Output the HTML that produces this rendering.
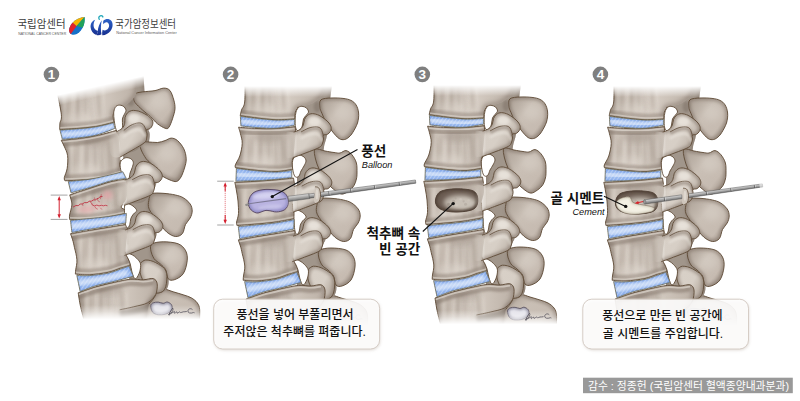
<!DOCTYPE html>
<html lang="ko"><head><meta charset="utf-8"><title>Kyphoplasty</title>
<style>
html,body{margin:0;padding:0;background:#fff}
body{width:800px;height:401px;overflow:hidden;position:relative;font-family:"Liberation Sans","Noto Sans CJK KR",sans-serif}
svg{position:absolute;left:0;top:0;display:block}
svg text{font-family:"Liberation Sans","Noto Sans CJK KR",sans-serif}
</style></head><body>
<svg width="800" height="401" viewBox="0 0 800 401">
<defs>
<filter id="b05" x="-20%" y="-20%" width="140%" height="140%"><feGaussianBlur stdDeviation="0.5"/></filter>
<filter id="b1" x="-20%" y="-20%" width="140%" height="140%"><feGaussianBlur stdDeviation="1"/></filter>
<filter id="b15" x="-30%" y="-30%" width="160%" height="160%"><feGaussianBlur stdDeviation="1.5"/></filter>
<filter id="b2" x="-30%" y="-30%" width="160%" height="160%"><feGaussianBlur stdDeviation="2"/></filter>
<filter id="b3" x="-40%" y="-40%" width="180%" height="180%"><feGaussianBlur stdDeviation="3"/></filter>
<filter id="b4" x="-50%" y="-50%" width="200%" height="200%"><feGaussianBlur stdDeviation="4.5"/></filter>
<filter id="bshadow" x="-10%" y="-20%" width="120%" height="140%"><feGaussianBlur stdDeviation="1.6"/></filter>
<linearGradient id="gBody" x1="0" y1="0" x2="1" y2="0">
<stop offset="0" stop-color="#ada297"/><stop offset="0.18" stop-color="#cec4ba"/><stop offset="0.45" stop-color="#d9d0c7"/><stop offset="0.75" stop-color="#c8beb4"/><stop offset="1" stop-color="#bbb0a6"/>
</linearGradient>
<linearGradient id="gSpin" x1="0" y1="0" x2="1" y2="0.8">
<stop offset="0" stop-color="#a99e93"/><stop offset="0.45" stop-color="#c9bfb5"/><stop offset="0.8" stop-color="#c6bbb1"/><stop offset="1" stop-color="#a2968b"/>
</linearGradient>
<linearGradient id="gKnob" x1="0" y1="0" x2="1" y2="0.6">
<stop offset="0" stop-color="#b9aea4"/><stop offset="0.25" stop-color="#d8d0c7"/><stop offset="0.65" stop-color="#d7cfc6"/><stop offset="1" stop-color="#b6aba0"/>
</linearGradient>
<linearGradient id="gDisc" x1="0" y1="0" x2="1" y2="0">
<stop offset="0" stop-color="#8fb0e8"/><stop offset="0.15" stop-color="#b4cdf2"/><stop offset="0.6" stop-color="#a9c5ef"/><stop offset="1" stop-color="#86a8e2"/>
</linearGradient>
<linearGradient id="fadeTop" x1="0" y1="0" x2="0" y2="1"><stop offset="0" stop-color="#fff" stop-opacity="1"/><stop offset="0.62" stop-color="#fff" stop-opacity="1"/><stop offset="0.94" stop-color="#fff" stop-opacity="0"/><stop offset="1" stop-color="#fff" stop-opacity="0"/></linearGradient>
<linearGradient id="fadeBot" x1="0" y1="0" x2="0" y2="1"><stop offset="0" stop-color="#fff" stop-opacity="0"/><stop offset="0.3" stop-color="#fff" stop-opacity="0.35"/><stop offset="0.65" stop-color="#fff" stop-opacity="1"/><stop offset="1" stop-color="#fff" stop-opacity="1"/></linearGradient>
<linearGradient id="fadeTop1" x1="0" y1="0" x2="0" y2="1"><stop offset="0" stop-color="#fff" stop-opacity="1"/><stop offset="0.64" stop-color="#fff" stop-opacity="1"/><stop offset="0.9" stop-color="#fff" stop-opacity="0"/><stop offset="1" stop-color="#fff" stop-opacity="0"/></linearGradient>
<pattern id="hatch" width="3" height="3" patternUnits="userSpaceOnUse" patternTransform="rotate(-55)"><rect width="3" height="3" fill="none"/><line x1="0" y1="1.5" x2="3" y2="1.5" stroke="#f0f5fd" stroke-width="0.8" opacity="0.45"/></pattern>
</defs>
<defs><g id="tplA"><clipPath id="p1"><path d="M517 296C518.7 295.1 519.8 294.3 522 294.5C524.2 294.7 527 296.1 530 297C533 297.9 537 299 540 300C543 301 545.7 301.7 548 303C550.3 304.3 552.6 306 554 308C555.4 310 556.2 311.3 556.5 315C556.8 318.7 556 330 556 330C556 330 500 330 500 330C500 330 503 315 505 310C507 305 510 302.3 512 300C514 297.7 515.3 296.9 517 296Z"/></clipPath><path d="M517 296C518.7 295.1 519.8 294.3 522 294.5C524.2 294.7 527 296.1 530 297C533 297.9 537 299 540 300C543 301 545.7 301.7 548 303C550.3 304.3 552.6 306 554 308C555.4 310 556.2 311.3 556.5 315C556.8 318.7 556 330 556 330C556 330 500 330 500 330C500 330 503 315 505 310C507 305 510 302.3 512 300C514 297.7 515.3 296.9 517 296Z" fill="url(#gSpin)"/><g clip-path="url(#p1)"><path d="M517 296C518.7 295.1 519.8 294.3 522 294.5C524.2 294.7 527 296.1 530 297C533 297.9 537 299 540 300C543 301 545.7 301.7 548 303C550.3 304.3 552.6 306 554 308C555.4 310 556.2 311.3 556.5 315C556.8 318.7 556 330 556 330C556 330 500 330 500 330C500 330 503 315 505 310C507 305 510 302.3 512 300C514 297.7 515.3 296.9 517 296Z" fill="none" stroke="#7c6d62" stroke-width="5" opacity="0.5" filter="url(#b15)"/></g><path d="M517 296C518.7 295.1 519.8 294.3 522 294.5C524.2 294.7 527 296.1 530 297C533 297.9 537 299 540 300C543 301 545.7 301.7 548 303C550.3 304.3 552.6 306 554 308C555.4 310 556.2 311.3 556.5 315C556.8 318.7 556 330 556 330C556 330 500 330 500 330C500 330 503 315 505 310C507 305 510 302.3 512 300C514 297.7 515.3 296.9 517 296Z" fill="none" stroke="#5d4936" stroke-width="0.9" stroke-linejoin="round"/><clipPath id="p2"><path d="M486 232C486 232 508 233 512 236C516 239 510.3 245.7 510 250C509.7 254.3 508.8 259 510 262C511.2 265 514.5 265 517 268C519.5 271 524.2 275.3 525 280C525.8 284.7 526.2 292.7 522 296C517.8 299.3 506 300 500 300C494 300 486 296 486 296C486 296 486 232 486 232Z"/></clipPath><path d="M486 232C486 232 508 233 512 236C516 239 510.3 245.7 510 250C509.7 254.3 508.8 259 510 262C511.2 265 514.5 265 517 268C519.5 271 524.2 275.3 525 280C525.8 284.7 526.2 292.7 522 296C517.8 299.3 506 300 500 300C494 300 486 296 486 296C486 296 486 232 486 232Z" fill="#a1968b"/><g clip-path="url(#p2)"><path d="M486 232C486 232 508 233 512 236C516 239 510.3 245.7 510 250C509.7 254.3 508.8 259 510 262C511.2 265 514.5 265 517 268C519.5 271 524.2 275.3 525 280C525.8 284.7 526.2 292.7 522 296C517.8 299.3 506 300 500 300C494 300 486 296 486 296C486 296 486 232 486 232Z" fill="none" stroke="#7c6d62" stroke-width="5" opacity="0.45" filter="url(#b15)"/></g><clipPath id="p3"><path d="M509 249C511.1 247.7 515.7 247 520 247C524.3 247 531.2 247.5 535 249C538.8 250.5 541 253.2 542.5 256C544 258.8 544.4 262.2 544 266C543.6 269.8 542.2 275.8 540 279C537.8 282.2 533.5 284.2 531 285C528.5 285.8 526.4 285.7 525 284C523.6 282.3 523.8 277.5 522.5 275C521.2 272.5 518.9 270.8 517 269C515.1 267.2 512.6 266.3 511 264C509.4 261.7 507.8 257.5 507.5 255C507.2 252.5 506.9 250.3 509 249Z"/></clipPath><path d="M509 249C511.1 247.7 515.7 247 520 247C524.3 247 531.2 247.5 535 249C538.8 250.5 541 253.2 542.5 256C544 258.8 544.4 262.2 544 266C543.6 269.8 542.2 275.8 540 279C537.8 282.2 533.5 284.2 531 285C528.5 285.8 526.4 285.7 525 284C523.6 282.3 523.8 277.5 522.5 275C521.2 272.5 518.9 270.8 517 269C515.1 267.2 512.6 266.3 511 264C509.4 261.7 507.8 257.5 507.5 255C507.2 252.5 506.9 250.3 509 249Z" fill="url(#gSpin)"/><g clip-path="url(#p3)"><path d="M509 249C511.1 247.7 515.7 247 520 247C524.3 247 531.2 247.5 535 249C538.8 250.5 541 253.2 542.5 256C544 258.8 544.4 262.2 544 266C543.6 269.8 542.2 275.8 540 279C537.8 282.2 533.5 284.2 531 285C528.5 285.8 526.4 285.7 525 284C523.6 282.3 523.8 277.5 522.5 275C521.2 272.5 518.9 270.8 517 269C515.1 267.2 512.6 266.3 511 264C509.4 261.7 507.8 257.5 507.5 255C507.2 252.5 506.9 250.3 509 249Z" fill="none" stroke="#7c6d62" stroke-width="5" opacity="0.5" filter="url(#b15)"/></g><path d="M509 249C511.1 247.7 515.7 247 520 247C524.3 247 531.2 247.5 535 249C538.8 250.5 541 253.2 542.5 256C544 258.8 544.4 262.2 544 266C543.6 269.8 542.2 275.8 540 279C537.8 282.2 533.5 284.2 531 285C528.5 285.8 526.4 285.7 525 284C523.6 282.3 523.8 277.5 522.5 275C521.2 272.5 518.9 270.8 517 269C515.1 267.2 512.6 266.3 511 264C509.4 261.7 507.8 257.5 507.5 255C507.2 252.5 506.9 250.3 509 249Z" fill="none" stroke="#5d4936" stroke-width="0.9" stroke-linejoin="round"/><ellipse cx="528.4" cy="260.8" rx="9" ry="8" fill="#e0d9d0" opacity="0.38" filter="url(#b3)" transform="rotate(0 528.4 260.8)"/><clipPath id="p4"><path d="M486 182C486 182 508.2 181 512 184C515.8 187 509.7 195 509 200C508.3 205 507.5 209.7 508 214C508.5 218.3 511 221.7 512 226C513 230.3 516 236 514 240C512 244 504.7 248.3 500 250C495.3 251.7 486 250 486 250C486 250 486 182 486 182Z"/></clipPath><path d="M486 182C486 182 508.2 181 512 184C515.8 187 509.7 195 509 200C508.3 205 507.5 209.7 508 214C508.5 218.3 511 221.7 512 226C513 230.3 516 236 514 240C512 244 504.7 248.3 500 250C495.3 251.7 486 250 486 250C486 250 486 182 486 182Z" fill="#a1968b"/><g clip-path="url(#p4)"><path d="M486 182C486 182 508.2 181 512 184C515.8 187 509.7 195 509 200C508.3 205 507.5 209.7 508 214C508.5 218.3 511 221.7 512 226C513 230.3 516 236 514 240C512 244 504.7 248.3 500 250C495.3 251.7 486 250 486 250C486 250 486 182 486 182Z" fill="none" stroke="#7c6d62" stroke-width="5" opacity="0.45" filter="url(#b15)"/></g><clipPath id="p5"><path d="M508.8 197.8C511.2 196.6 516.1 197.1 520 197.3C523.9 197.5 529 198.2 532.4 199C535.8 199.8 537.8 200.3 540.3 201.8C542.8 203.3 545.7 205.8 547.2 208C548.7 210.2 549.2 212.7 549.2 215C549.2 217.3 548.3 219.8 547.2 222C546.1 224.2 543.8 225.9 542.5 228.5C541.2 231.1 541.1 235.6 539.4 237.6C537.7 239.6 535 240.8 532.4 240.5C529.8 240.2 526.6 238.5 523.7 236C520.8 233.5 517.9 229.2 515 225.4C512.1 221.6 507.7 216.7 506.2 213.2C504.7 209.7 505.4 207.1 505.8 204.5C506.2 201.9 506.4 199 508.8 197.8Z"/></clipPath><path d="M508.8 197.8C511.2 196.6 516.1 197.1 520 197.3C523.9 197.5 529 198.2 532.4 199C535.8 199.8 537.8 200.3 540.3 201.8C542.8 203.3 545.7 205.8 547.2 208C548.7 210.2 549.2 212.7 549.2 215C549.2 217.3 548.3 219.8 547.2 222C546.1 224.2 543.8 225.9 542.5 228.5C541.2 231.1 541.1 235.6 539.4 237.6C537.7 239.6 535 240.8 532.4 240.5C529.8 240.2 526.6 238.5 523.7 236C520.8 233.5 517.9 229.2 515 225.4C512.1 221.6 507.7 216.7 506.2 213.2C504.7 209.7 505.4 207.1 505.8 204.5C506.2 201.9 506.4 199 508.8 197.8Z" fill="url(#gSpin)"/><g clip-path="url(#p5)"><path d="M508.8 197.8C511.2 196.6 516.1 197.1 520 197.3C523.9 197.5 529 198.2 532.4 199C535.8 199.8 537.8 200.3 540.3 201.8C542.8 203.3 545.7 205.8 547.2 208C548.7 210.2 549.2 212.7 549.2 215C549.2 217.3 548.3 219.8 547.2 222C546.1 224.2 543.8 225.9 542.5 228.5C541.2 231.1 541.1 235.6 539.4 237.6C537.7 239.6 535 240.8 532.4 240.5C529.8 240.2 526.6 238.5 523.7 236C520.8 233.5 517.9 229.2 515 225.4C512.1 221.6 507.7 216.7 506.2 213.2C504.7 209.7 505.4 207.1 505.8 204.5C506.2 201.9 506.4 199 508.8 197.8Z" fill="none" stroke="#7c6d62" stroke-width="5" opacity="0.5" filter="url(#b15)"/></g><path d="M508.8 197.8C511.2 196.6 516.1 197.1 520 197.3C523.9 197.5 529 198.2 532.4 199C535.8 199.8 537.8 200.3 540.3 201.8C542.8 203.3 545.7 205.8 547.2 208C548.7 210.2 549.2 212.7 549.2 215C549.2 217.3 548.3 219.8 547.2 222C546.1 224.2 543.8 225.9 542.5 228.5C541.2 231.1 541.1 235.6 539.4 237.6C537.7 239.6 535 240.8 532.4 240.5C529.8 240.2 526.6 238.5 523.7 236C520.8 233.5 517.9 229.2 515 225.4C512.1 221.6 507.7 216.7 506.2 213.2C504.7 209.7 505.4 207.1 505.8 204.5C506.2 201.9 506.4 199 508.8 197.8Z" fill="none" stroke="#5d4936" stroke-width="0.9" stroke-linejoin="round"/><ellipse cx="532.3" cy="212.2" rx="9" ry="8" fill="#e0d9d0" opacity="0.38" filter="url(#b3)" transform="rotate(0 532.3 212.2)"/><clipPath id="p6"><path d="M486 128C486 128 509.5 127 514 130C518.5 133 513.5 141 513 146C512.5 151 511.2 155.7 511 160C510.8 164.3 511.5 167.8 512 172C512.5 176.2 516 180.3 514 185C512 189.7 504.7 197.5 500 200C495.3 202.5 486 200 486 200C486 200 486 128 486 128Z"/></clipPath><path d="M486 128C486 128 509.5 127 514 130C518.5 133 513.5 141 513 146C512.5 151 511.2 155.7 511 160C510.8 164.3 511.5 167.8 512 172C512.5 176.2 516 180.3 514 185C512 189.7 504.7 197.5 500 200C495.3 202.5 486 200 486 200C486 200 486 128 486 128Z" fill="#a1968b"/><g clip-path="url(#p6)"><path d="M486 128C486 128 509.5 127 514 130C518.5 133 513.5 141 513 146C512.5 151 511.2 155.7 511 160C510.8 164.3 511.5 167.8 512 172C512.5 176.2 516 180.3 514 185C512 189.7 504.7 197.5 500 200C495.3 202.5 486 200 486 200C486 200 486 128 486 128Z" fill="none" stroke="#7c6d62" stroke-width="5" opacity="0.45" filter="url(#b15)"/></g><clipPath id="p7"><path d="M504 148.2C505.6 146.9 510.8 149.4 514 150C517.2 150.6 520.5 151.2 523 151.5C525.5 151.8 527 152.3 529 152C531 151.7 533 149.3 535 149.6C537 149.9 539.3 151.7 541 153.8C542.7 155.9 544.6 159 545.4 162C546.2 165 546 169.3 546 172C546 174.7 545.9 175.9 545.4 178C544.9 180.1 544.3 182.5 543 184.5C541.7 186.5 539.7 188.6 537.5 190C535.3 191.4 532.9 193.7 530 193C527.1 192.3 522.7 188.4 520 186C517.3 183.6 515.8 181.8 513.8 178.8C511.8 175.8 509.5 171.5 508 168C506.5 164.5 505.2 161.3 504.5 158C503.8 154.7 502.4 149.5 504 148.2Z"/></clipPath><path d="M504 148.2C505.6 146.9 510.8 149.4 514 150C517.2 150.6 520.5 151.2 523 151.5C525.5 151.8 527 152.3 529 152C531 151.7 533 149.3 535 149.6C537 149.9 539.3 151.7 541 153.8C542.7 155.9 544.6 159 545.4 162C546.2 165 546 169.3 546 172C546 174.7 545.9 175.9 545.4 178C544.9 180.1 544.3 182.5 543 184.5C541.7 186.5 539.7 188.6 537.5 190C535.3 191.4 532.9 193.7 530 193C527.1 192.3 522.7 188.4 520 186C517.3 183.6 515.8 181.8 513.8 178.8C511.8 175.8 509.5 171.5 508 168C506.5 164.5 505.2 161.3 504.5 158C503.8 154.7 502.4 149.5 504 148.2Z" fill="url(#gSpin)"/><g clip-path="url(#p7)"><path d="M504 148.2C505.6 146.9 510.8 149.4 514 150C517.2 150.6 520.5 151.2 523 151.5C525.5 151.8 527 152.3 529 152C531 151.7 533 149.3 535 149.6C537 149.9 539.3 151.7 541 153.8C542.7 155.9 544.6 159 545.4 162C546.2 165 546 169.3 546 172C546 174.7 545.9 175.9 545.4 178C544.9 180.1 544.3 182.5 543 184.5C541.7 186.5 539.7 188.6 537.5 190C535.3 191.4 532.9 193.7 530 193C527.1 192.3 522.7 188.4 520 186C517.3 183.6 515.8 181.8 513.8 178.8C511.8 175.8 509.5 171.5 508 168C506.5 164.5 505.2 161.3 504.5 158C503.8 154.7 502.4 149.5 504 148.2Z" fill="none" stroke="#7c6d62" stroke-width="5" opacity="0.5" filter="url(#b15)"/></g><path d="M504 148.2C505.6 146.9 510.8 149.4 514 150C517.2 150.6 520.5 151.2 523 151.5C525.5 151.8 527 152.3 529 152C531 151.7 533 149.3 535 149.6C537 149.9 539.3 151.7 541 153.8C542.7 155.9 544.6 159 545.4 162C546.2 165 546 169.3 546 172C546 174.7 545.9 175.9 545.4 178C544.9 180.1 544.3 182.5 543 184.5C541.7 186.5 539.7 188.6 537.5 190C535.3 191.4 532.9 193.7 530 193C527.1 192.3 522.7 188.4 520 186C517.3 183.6 515.8 181.8 513.8 178.8C511.8 175.8 509.5 171.5 508 168C506.5 164.5 505.2 161.3 504.5 158C503.8 154.7 502.4 149.5 504 148.2Z" fill="none" stroke="#5d4936" stroke-width="0.9" stroke-linejoin="round"/><ellipse cx="530.5" cy="163.2" rx="9" ry="8" fill="#e0d9d0" opacity="0.38" filter="url(#b3)" transform="rotate(0 530.5 163.2)"/><clipPath id="p8"><path d="M486 70C486 70 523 70 523 70C523 70 519.8 93 519 100C518.2 107 518.2 108 518 112C517.8 116 518.8 119.3 518 124C517.2 128.7 516 135.7 513 140C510 144.3 504.5 148.3 500 150C495.5 151.7 486 150 486 150C486 150 486 70 486 70Z"/></clipPath><path d="M486 70C486 70 523 70 523 70C523 70 519.8 93 519 100C518.2 107 518.2 108 518 112C517.8 116 518.8 119.3 518 124C517.2 128.7 516 135.7 513 140C510 144.3 504.5 148.3 500 150C495.5 151.7 486 150 486 150C486 150 486 70 486 70Z" fill="#a1968b"/><g clip-path="url(#p8)"><path d="M486 70C486 70 523 70 523 70C523 70 519.8 93 519 100C518.2 107 518.2 108 518 112C517.8 116 518.8 119.3 518 124C517.2 128.7 516 135.7 513 140C510 144.3 504.5 148.3 500 150C495.5 151.7 486 150 486 150C486 150 486 70 486 70Z" fill="none" stroke="#7c6d62" stroke-width="5" opacity="0.45" filter="url(#b15)"/></g><clipPath id="p9"><path d="M510 98.8C511.9 97.3 516.3 97.2 520 97C523.7 96.8 528.7 97 532 97.4C535.3 97.8 537.8 98.3 540 99.4C542.2 100.5 543.7 101.7 545 103.8C546.3 105.8 547.4 109 547.6 112C547.9 115 547.5 118.8 546.5 122C545.5 125.2 543.2 129.1 541.8 131.4C540.4 133.7 539.4 134.8 538 136C536.6 137.2 535.3 138.2 533.6 138.5C531.9 138.8 530.1 138.9 528 137.5C525.9 136.1 523.2 132.8 521 130C518.8 127.2 516.7 123.9 515 121C513.3 118.1 512 115 511 112.5C510 110 508.9 108.3 508.8 106C508.6 103.7 508.1 100.3 510 98.8Z"/></clipPath><path d="M510 98.8C511.9 97.3 516.3 97.2 520 97C523.7 96.8 528.7 97 532 97.4C535.3 97.8 537.8 98.3 540 99.4C542.2 100.5 543.7 101.7 545 103.8C546.3 105.8 547.4 109 547.6 112C547.9 115 547.5 118.8 546.5 122C545.5 125.2 543.2 129.1 541.8 131.4C540.4 133.7 539.4 134.8 538 136C536.6 137.2 535.3 138.2 533.6 138.5C531.9 138.8 530.1 138.9 528 137.5C525.9 136.1 523.2 132.8 521 130C518.8 127.2 516.7 123.9 515 121C513.3 118.1 512 115 511 112.5C510 110 508.9 108.3 508.8 106C508.6 103.7 508.1 100.3 510 98.8Z" fill="url(#gSpin)"/><g clip-path="url(#p9)"><path d="M510 98.8C511.9 97.3 516.3 97.2 520 97C523.7 96.8 528.7 97 532 97.4C535.3 97.8 537.8 98.3 540 99.4C542.2 100.5 543.7 101.7 545 103.8C546.3 105.8 547.4 109 547.6 112C547.9 115 547.5 118.8 546.5 122C545.5 125.2 543.2 129.1 541.8 131.4C540.4 133.7 539.4 134.8 538 136C536.6 137.2 535.3 138.2 533.6 138.5C531.9 138.8 530.1 138.9 528 137.5C525.9 136.1 523.2 132.8 521 130C518.8 127.2 516.7 123.9 515 121C513.3 118.1 512 115 511 112.5C510 110 508.9 108.3 508.8 106C508.6 103.7 508.1 100.3 510 98.8Z" fill="none" stroke="#7c6d62" stroke-width="5" opacity="0.5" filter="url(#b15)"/></g><path d="M510 98.8C511.9 97.3 516.3 97.2 520 97C523.7 96.8 528.7 97 532 97.4C535.3 97.8 537.8 98.3 540 99.4C542.2 100.5 543.7 101.7 545 103.8C546.3 105.8 547.4 109 547.6 112C547.9 115 547.5 118.8 546.5 122C545.5 125.2 543.2 129.1 541.8 131.4C540.4 133.7 539.4 134.8 538 136C536.6 137.2 535.3 138.2 533.6 138.5C531.9 138.8 530.1 138.9 528 137.5C525.9 136.1 523.2 132.8 521 130C518.8 127.2 516.7 123.9 515 121C513.3 118.1 512 115 511 112.5C510 110 508.9 108.3 508.8 106C508.6 103.7 508.1 100.3 510 98.8Z" fill="none" stroke="#5d4936" stroke-width="0.9" stroke-linejoin="round"/><ellipse cx="532.2" cy="112.2" rx="9" ry="8" fill="#e0d9d0" opacity="0.38" filter="url(#b3)" transform="rotate(0 532.2 112.2)"/><ellipse cx="506.2" cy="105.8" rx="3.600" ry="5.500" fill="#7f7268" opacity="0.55" filter="url(#b1)"/><clipPath id="p10"><path d="M497 269.5C497.4 267.6 498.6 267.2 499.5 266.5C500.4 265.8 501.2 265.3 502.5 265.2C503.8 265.1 505.8 265.4 507.5 265.8C509.2 266.2 510.8 267 512.5 267.8C514.2 268.6 516 269.8 517.5 270.8C519 271.8 520.5 272.6 521.5 274C522.5 275.4 523.1 277.2 523.5 279C523.9 280.8 523.8 282.8 523.6 285C523.4 287.2 523.3 290 522.5 292C521.7 294 520.8 296 519 297C517.2 298 514.3 298.7 512 298C509.7 297.3 507 295 505 293C503 291 501.3 288.5 500 286C498.7 283.5 497.5 280.8 497 278C496.5 275.2 496.6 271.4 497 269.5Z"/></clipPath><path d="M497 269.5C497.4 267.6 498.6 267.2 499.5 266.5C500.4 265.8 501.2 265.3 502.5 265.2C503.8 265.1 505.8 265.4 507.5 265.8C509.2 266.2 510.8 267 512.5 267.8C514.2 268.6 516 269.8 517.5 270.8C519 271.8 520.5 272.6 521.5 274C522.5 275.4 523.1 277.2 523.5 279C523.9 280.8 523.8 282.8 523.6 285C523.4 287.2 523.3 290 522.5 292C521.7 294 520.8 296 519 297C517.2 298 514.3 298.7 512 298C509.7 297.3 507 295 505 293C503 291 501.3 288.5 500 286C498.7 283.5 497.5 280.8 497 278C496.5 275.2 496.6 271.4 497 269.5Z" fill="url(#gKnob)"/><g clip-path="url(#p10)"><path d="M497 269.5C497.4 267.6 498.6 267.2 499.5 266.5C500.4 265.8 501.2 265.3 502.5 265.2C503.8 265.1 505.8 265.4 507.5 265.8C509.2 266.2 510.8 267 512.5 267.8C514.2 268.6 516 269.8 517.5 270.8C519 271.8 520.5 272.6 521.5 274C522.5 275.4 523.1 277.2 523.5 279C523.9 280.8 523.8 282.8 523.6 285C523.4 287.2 523.3 290 522.5 292C521.7 294 520.8 296 519 297C517.2 298 514.3 298.7 512 298C509.7 297.3 507 295 505 293C503 291 501.3 288.5 500 286C498.7 283.5 497.5 280.8 497 278C496.5 275.2 496.6 271.4 497 269.5Z" fill="none" stroke="#7c6d62" stroke-width="5" opacity="0.5" filter="url(#b15)"/></g><path d="M497 269.5C497.4 267.6 498.6 267.2 499.5 266.5C500.4 265.8 501.2 265.3 502.5 265.2C503.8 265.1 505.8 265.4 507.5 265.8C509.2 266.2 510.8 267 512.5 267.8C514.2 268.6 516 269.8 517.5 270.8C519 271.8 520.5 272.6 521.5 274C522.5 275.4 523.1 277.2 523.5 279C523.9 280.8 523.8 282.8 523.6 285C523.4 287.2 523.3 290 522.5 292C521.7 294 520.8 296 519 297C517.2 298 514.3 298.7 512 298C509.7 297.3 507 295 505 293C503 291 501.3 288.5 500 286C498.7 283.5 497.5 280.8 497 278C496.5 275.2 496.6 271.4 497 269.5Z" fill="none" stroke="#5d4936" stroke-width="0.9" stroke-linejoin="round"/><clipPath id="p11"><path d="M433.8 70C433.8 70 434.3 93.5 433.8 100C433.2 106.5 431.4 106.3 430.6 108.8C429.8 111.2 429.2 114.8 429.2 114.8C429.2 114.8 440 116.3 446 117C452 117.7 458.7 118.6 465 118.8C471.3 118.9 483.8 118 483.8 118C483.8 118 483.9 113 484.4 111C484.9 109 484.9 107.2 487 106C489.1 104.8 494 105 497 104C500 103 502.5 102 505 100C507.5 98 510 97 512 92C514 87 517 70 517 70C517 70 433.8 70 433.8 70Z"/></clipPath><path d="M433.8 70C433.8 70 434.3 93.5 433.8 100C433.2 106.5 431.4 106.3 430.6 108.8C429.8 111.2 429.2 114.8 429.2 114.8C429.2 114.8 440 116.3 446 117C452 117.7 458.7 118.6 465 118.8C471.3 118.9 483.8 118 483.8 118C483.8 118 483.9 113 484.4 111C484.9 109 484.9 107.2 487 106C489.1 104.8 494 105 497 104C500 103 502.5 102 505 100C507.5 98 510 97 512 92C514 87 517 70 517 70C517 70 433.8 70 433.8 70Z" fill="url(#gBody)"/><g clip-path="url(#p11)"><path d="M433.8 70C433.8 70 434.3 93.5 433.8 100C433.2 106.5 431.4 106.3 430.6 108.8C429.8 111.2 429.2 114.8 429.2 114.8C429.2 114.8 440 116.3 446 117C452 117.7 458.7 118.6 465 118.8C471.3 118.9 483.8 118 483.8 118C483.8 118 483.9 113 484.4 111C484.9 109 484.9 107.2 487 106C489.1 104.8 494 105 497 104C500 103 502.5 102 505 100C507.5 98 510 97 512 92C514 87 517 70 517 70C517 70 433.8 70 433.8 70Z" fill="none" stroke="#7c6d62" stroke-width="5.5" opacity="0.5" filter="url(#b2)"/><ellipse cx="442.7" cy="95.4" rx="2.6" ry="16.3" fill="#86786d" opacity="0.24" filter="url(#b2)" transform="rotate(6 442.7 95.4)"/><ellipse cx="451.9" cy="92.4" rx="3.2" ry="18.3" fill="#86786d" opacity="0.34" filter="url(#b2)" transform="rotate(3 451.9 92.4)"/><ellipse cx="458.9" cy="91.4" rx="2.6" ry="15.3" fill="#86786d" opacity="0.3" filter="url(#b2)" transform="rotate(-2 458.9 91.4)"/><ellipse cx="464.8" cy="94.4" rx="2.2" ry="17.3" fill="#86786d" opacity="0.2" filter="url(#b2)" transform="rotate(-5 464.8 94.4)"/><ellipse cx="471.3" cy="93.4" rx="2.8" ry="16.3" fill="#86786d" opacity="0.24" filter="url(#b2)" transform="rotate(-8 471.3 93.4)"/><ellipse cx="437.8" cy="97.4" rx="1.8" ry="16.4" fill="#e6e0d8" opacity="0.4" filter="url(#b15)"/><ellipse cx="447.6" cy="98.4" rx="1.8" ry="16.4" fill="#e6e0d8" opacity="0.3" filter="url(#b15)"/><ellipse cx="455.7" cy="100.4" rx="1.8" ry="16.4" fill="#e6e0d8" opacity="0.2" filter="url(#b15)"/><ellipse cx="462.1" cy="99.4" rx="1.8" ry="16.4" fill="#e6e0d8" opacity="0.22" filter="url(#b15)"/><ellipse cx="468.1" cy="98.4" rx="1.8" ry="16.4" fill="#e6e0d8" opacity="0.25" filter="url(#b15)"/><ellipse cx="476.7" cy="97.4" rx="1.8" ry="16.4" fill="#e6e0d8" opacity="0.3" filter="url(#b15)"/><ellipse cx="458.2" cy="80" rx="15" ry="5" fill="#84766b" opacity="0.3" filter="url(#b3)"/><ellipse cx="450.2" cy="107.8" rx="16" ry="5" fill="#ddd6cd" opacity="0.4" filter="url(#b3)"/><path d="M429.2 114.8C429.2 114.8 440 116.3 446 117C452 117.7 458.7 118.6 465 118.8C471.3 118.9 483.8 118 483.8 118" fill="none" stroke="#7c6d62" stroke-width="3" opacity="0.35" filter="url(#b1)" transform="translate(0,-4.5)"/><path d="M429.2 114.8C429.2 114.8 440 116.3 446 117C452 117.7 458.7 118.6 465 118.8C471.3 118.9 483.8 118 483.8 118" fill="none" stroke="#e2dcd3" stroke-width="1.5" opacity="0.55" filter="url(#b05)" transform="translate(0,-1.8)"/></g><path d="M433.8 70C433.8 70 434.3 93.5 433.8 100C433.2 106.5 431.4 106.3 430.6 108.8C429.8 111.2 429.2 114.8 429.2 114.8C429.2 114.8 440 116.3 446 117C452 117.7 458.7 118.6 465 118.8C471.3 118.9 483.8 118 483.8 118C483.8 118 483.9 113 484.4 111C484.9 109 486.6 106.8 487 106" fill="none" stroke="#5d4936" stroke-width="0.9" stroke-linejoin="round" stroke-linecap="round"/><clipPath id="p12"><path d="M427.5 126.2C427.5 126.2 439.8 127.3 446 127.5C452.2 127.7 458.7 127.8 465 127.5C471.3 127.2 484 125.6 484 125.6C484 125.6 485 128.6 485 131C485 133.4 484.4 135.8 484 140C483.6 144.2 483 152.5 482.5 156C482 159.5 481.2 159 481.2 161C481.3 163 482.6 168.2 482.6 168.2C482.6 168.2 471.1 170.4 465 170.6C458.9 170.8 452.7 170 446 169.4C439.3 168.8 424.6 166.9 424.6 166.9C424.6 166.9 423.7 165.7 424.4 163.8C425.1 161.8 427.6 158.5 428.8 155C429.9 151.5 431.1 146.2 431.2 142.5C431.4 138.8 430 135.2 429.4 132.5C428.8 129.8 427.5 126.2 427.5 126.2Z"/></clipPath><path d="M427.5 126.2C427.5 126.2 439.8 127.3 446 127.5C452.2 127.7 458.7 127.8 465 127.5C471.3 127.2 484 125.6 484 125.6C484 125.6 485 128.6 485 131C485 133.4 484.4 135.8 484 140C483.6 144.2 483 152.5 482.5 156C482 159.5 481.2 159 481.2 161C481.3 163 482.6 168.2 482.6 168.2C482.6 168.2 471.1 170.4 465 170.6C458.9 170.8 452.7 170 446 169.4C439.3 168.8 424.6 166.9 424.6 166.9C424.6 166.9 423.7 165.7 424.4 163.8C425.1 161.8 427.6 158.5 428.8 155C429.9 151.5 431.1 146.2 431.2 142.5C431.4 138.8 430 135.2 429.4 132.5C428.8 129.8 427.5 126.2 427.5 126.2Z" fill="url(#gBody)"/><g clip-path="url(#p12)"><path d="M427.5 126.2C427.5 126.2 439.8 127.3 446 127.5C452.2 127.7 458.7 127.8 465 127.5C471.3 127.2 484 125.6 484 125.6C484 125.6 485 128.6 485 131C485 133.4 484.4 135.8 484 140C483.6 144.2 483 152.5 482.5 156C482 159.5 481.2 159 481.2 161C481.3 163 482.6 168.2 482.6 168.2C482.6 168.2 471.1 170.4 465 170.6C458.9 170.8 452.7 170 446 169.4C439.3 168.8 424.6 166.9 424.6 166.9C424.6 166.9 423.7 165.7 424.4 163.8C425.1 161.8 427.6 158.5 428.8 155C429.9 151.5 431.1 146.2 431.2 142.5C431.4 138.8 430 135.2 429.4 132.5C428.8 129.8 427.5 126.2 427.5 126.2Z" fill="none" stroke="#7c6d62" stroke-width="5.5" opacity="0.5" filter="url(#b2)"/><ellipse cx="439.5" cy="149.1" rx="2.6" ry="14.8" fill="#86786d" opacity="0.24" filter="url(#b2)" transform="rotate(6 439.5 149.1)"/><ellipse cx="449.9" cy="146.1" rx="3.2" ry="16.7" fill="#86786d" opacity="0.34" filter="url(#b2)" transform="rotate(3 449.9 146.1)"/><ellipse cx="457.7" cy="145.1" rx="2.6" ry="13.9" fill="#86786d" opacity="0.3" filter="url(#b2)" transform="rotate(-2 457.7 145.1)"/><ellipse cx="464.4" cy="148.1" rx="2.2" ry="15.7" fill="#86786d" opacity="0.2" filter="url(#b2)" transform="rotate(-5 464.4 148.1)"/><ellipse cx="471.7" cy="147.1" rx="2.8" ry="14.8" fill="#86786d" opacity="0.24" filter="url(#b2)" transform="rotate(-8 471.7 147.1)"/><ellipse cx="434.1" cy="151.1" rx="1.8" ry="14.5" fill="#e6e0d8" opacity="0.4" filter="url(#b15)"/><ellipse cx="445" cy="152.1" rx="1.8" ry="14.5" fill="#e6e0d8" opacity="0.3" filter="url(#b15)"/><ellipse cx="454.1" cy="154.1" rx="1.8" ry="14.5" fill="#e6e0d8" opacity="0.2" filter="url(#b15)"/><ellipse cx="461.4" cy="153.1" rx="1.8" ry="14.5" fill="#e6e0d8" opacity="0.22" filter="url(#b15)"/><ellipse cx="468" cy="152.1" rx="1.8" ry="14.5" fill="#e6e0d8" opacity="0.25" filter="url(#b15)"/><ellipse cx="477.7" cy="151.1" rx="1.8" ry="14.5" fill="#e6e0d8" opacity="0.3" filter="url(#b15)"/><ellipse cx="456.7" cy="135.6" rx="15" ry="5" fill="#84766b" opacity="0.3" filter="url(#b3)"/><ellipse cx="448.7" cy="159.6" rx="16" ry="5" fill="#ddd6cd" opacity="0.4" filter="url(#b3)"/><path d="M427.5 126.2C427.5 126.2 439.8 127.3 446 127.5C452.2 127.7 458.7 127.8 465 127.5C471.3 127.2 484 125.6 484 125.6" fill="none" stroke="#7c6d62" stroke-width="3.5" opacity="0.45" filter="url(#b1)" transform="translate(0,5)"/><path d="M427.5 126.2C427.5 126.2 439.8 127.3 446 127.5C452.2 127.7 458.7 127.8 465 127.5C471.3 127.2 484 125.6 484 125.6" fill="none" stroke="#e6e0d8" stroke-width="1.6" opacity="0.6" filter="url(#b05)" transform="translate(0,1.8)"/><path d="M482.6 168.2C482.6 168.2 471.1 170.4 465 170.6C458.9 170.8 452.7 170 446 169.4C439.3 168.8 424.6 166.9 424.6 166.9" fill="none" stroke="#7c6d62" stroke-width="3" opacity="0.35" filter="url(#b1)" transform="translate(0,-4.5)"/><path d="M482.6 168.2C482.6 168.2 471.1 170.4 465 170.6C458.9 170.8 452.7 170 446 169.4C439.3 168.8 424.6 166.9 424.6 166.9" fill="none" stroke="#e2dcd3" stroke-width="1.5" opacity="0.55" filter="url(#b05)" transform="translate(0,-1.8)"/></g><path d="M482.5 156C482.3 156.8 481.2 159 481.2 161C481.3 163 482.6 168.2 482.6 168.2C482.6 168.2 471.1 170.4 465 170.6C458.9 170.8 452.7 170 446 169.4C439.3 168.8 424.6 166.9 424.6 166.9C424.6 166.9 423.7 165.7 424.4 163.8C425.1 161.8 427.6 158.5 428.8 155C429.9 151.5 431.1 146.2 431.2 142.5C431.4 138.8 430 135.2 429.4 132.5C428.8 129.8 427.5 126.2 427.5 126.2C427.5 126.2 439.8 127.3 446 127.5C452.2 127.7 458.7 127.8 465 127.5C471.3 127.2 484 125.6 484 125.6C484 125.6 484.8 130.1 485 131" fill="none" stroke="#5d4936" stroke-width="0.9" stroke-linejoin="round" stroke-linecap="round"/><clipPath id="p13"><path d="M423.8 181.2C423.8 181.2 439.1 180.7 446 180.2C452.9 179.8 458.9 179.3 465 178.8C471.1 178.2 482.5 177 482.5 177C482.5 177 483.2 180.5 483.5 183C483.8 185.5 484.3 188.7 484 192C483.7 195.3 481.8 200 481.5 203C481.2 206 481.5 208.2 482 210C482.5 211.8 484.2 212.4 484.4 213.8C484.6 215.1 483 217.8 483 217.8C483 217.8 471.2 220.1 465 221C458.8 221.9 452.5 222.4 446 223C439.5 223.6 426 224.6 426 224.6C426 224.6 425.4 223 425.6 221C425.9 219 427.3 216 427.5 212.5C427.7 209 427.3 203.8 427 200C426.7 196.2 426 193.1 425.5 190C425 186.9 423.8 181.2 423.8 181.2Z"/></clipPath><path d="M423.8 181.2C423.8 181.2 439.1 180.7 446 180.2C452.9 179.8 458.9 179.3 465 178.8C471.1 178.2 482.5 177 482.5 177C482.5 177 483.2 180.5 483.5 183C483.8 185.5 484.3 188.7 484 192C483.7 195.3 481.8 200 481.5 203C481.2 206 481.5 208.2 482 210C482.5 211.8 484.2 212.4 484.4 213.8C484.6 215.1 483 217.8 483 217.8C483 217.8 471.2 220.1 465 221C458.8 221.9 452.5 222.4 446 223C439.5 223.6 426 224.6 426 224.6C426 224.6 425.4 223 425.6 221C425.9 219 427.3 216 427.5 212.5C427.7 209 427.3 203.8 427 200C426.7 196.2 426 193.1 425.5 190C425 186.9 423.8 181.2 423.8 181.2Z" fill="url(#gBody)"/><g clip-path="url(#p13)"><path d="M423.8 181.2C423.8 181.2 439.1 180.7 446 180.2C452.9 179.8 458.9 179.3 465 178.8C471.1 178.2 482.5 177 482.5 177C482.5 177 483.2 180.5 483.5 183C483.8 185.5 484.3 188.7 484 192C483.7 195.3 481.8 200 481.5 203C481.2 206 481.5 208.2 482 210C482.5 211.8 484.2 212.4 484.4 213.8C484.6 215.1 483 217.8 483 217.8C483 217.8 471.2 220.1 465 221C458.8 221.9 452.5 222.4 446 223C439.5 223.6 426 224.6 426 224.6C426 224.6 425.4 223 425.6 221C425.9 219 427.3 216 427.5 212.5C427.7 209 427.3 203.8 427 200C426.7 196.2 426 193.1 425.5 190C425 186.9 423.8 181.2 423.8 181.2Z" fill="none" stroke="#7c6d62" stroke-width="5.5" opacity="0.5" filter="url(#b2)"/><ellipse cx="438.9" cy="201.8" rx="2.6" ry="15.8" fill="#86786d" opacity="0.24" filter="url(#b2)" transform="rotate(6 438.9 201.8)"/><ellipse cx="449.2" cy="198.8" rx="3.2" ry="17.8" fill="#86786d" opacity="0.34" filter="url(#b2)" transform="rotate(3 449.2 198.8)"/><ellipse cx="457.1" cy="197.8" rx="2.6" ry="14.8" fill="#86786d" opacity="0.3" filter="url(#b2)" transform="rotate(-2 457.1 197.8)"/><ellipse cx="463.8" cy="200.8" rx="2.2" ry="16.8" fill="#86786d" opacity="0.2" filter="url(#b2)" transform="rotate(-5 463.8 200.8)"/><ellipse cx="471.1" cy="199.8" rx="2.8" ry="15.8" fill="#86786d" opacity="0.24" filter="url(#b2)" transform="rotate(-8 471.1 199.8)"/><ellipse cx="433.5" cy="203.8" rx="1.8" ry="15.8" fill="#e6e0d8" opacity="0.4" filter="url(#b15)"/><ellipse cx="444.4" cy="204.8" rx="1.8" ry="15.8" fill="#e6e0d8" opacity="0.3" filter="url(#b15)"/><ellipse cx="453.5" cy="206.8" rx="1.8" ry="15.8" fill="#e6e0d8" opacity="0.2" filter="url(#b15)"/><ellipse cx="460.7" cy="205.8" rx="1.8" ry="15.8" fill="#e6e0d8" opacity="0.22" filter="url(#b15)"/><ellipse cx="467.4" cy="204.8" rx="1.8" ry="15.8" fill="#e6e0d8" opacity="0.25" filter="url(#b15)"/><ellipse cx="477.1" cy="203.8" rx="1.8" ry="15.8" fill="#e6e0d8" opacity="0.3" filter="url(#b15)"/><ellipse cx="456.1" cy="187" rx="15" ry="5" fill="#84766b" opacity="0.3" filter="url(#b3)"/><ellipse cx="448.1" cy="213.6" rx="16" ry="5" fill="#ddd6cd" opacity="0.4" filter="url(#b3)"/><path d="M423.8 181.2C423.8 181.2 439.1 180.7 446 180.2C452.9 179.8 458.9 179.3 465 178.8C471.1 178.2 482.5 177 482.5 177" fill="none" stroke="#7c6d62" stroke-width="3.5" opacity="0.45" filter="url(#b1)" transform="translate(0,5)"/><path d="M423.8 181.2C423.8 181.2 439.1 180.7 446 180.2C452.9 179.8 458.9 179.3 465 178.8C471.1 178.2 482.5 177 482.5 177" fill="none" stroke="#e6e0d8" stroke-width="1.6" opacity="0.6" filter="url(#b05)" transform="translate(0,1.8)"/><path d="M483 217.8C483 217.8 471.2 220.1 465 221C458.8 221.9 452.5 222.4 446 223C439.5 223.6 426 224.6 426 224.6" fill="none" stroke="#7c6d62" stroke-width="3" opacity="0.35" filter="url(#b1)" transform="translate(0,-4.5)"/><path d="M483 217.8C483 217.8 471.2 220.1 465 221C458.8 221.9 452.5 222.4 446 223C439.5 223.6 426 224.6 426 224.6" fill="none" stroke="#e2dcd3" stroke-width="1.5" opacity="0.55" filter="url(#b05)" transform="translate(0,-1.8)"/></g><path d="M481.5 203C481.6 204.2 481.5 208.2 482 210C482.5 211.8 484.2 212.4 484.4 213.8C484.6 215.1 483 217.8 483 217.8C483 217.8 471.2 220.1 465 221C458.8 221.9 452.5 222.4 446 223C439.5 223.6 426 224.6 426 224.6C426 224.6 425.4 223 425.6 221C425.9 219 427.3 216 427.5 212.5C427.7 209 427.3 203.8 427 200C426.7 196.2 426 193.1 425.5 190C425 186.9 423.8 181.2 423.8 181.2C423.8 181.2 439.1 180.7 446 180.2C452.9 179.8 458.9 179.3 465 178.8C471.1 178.2 482.5 177 482.5 177C482.5 177 483.3 182 483.5 183" fill="none" stroke="#5d4936" stroke-width="0.9" stroke-linejoin="round" stroke-linecap="round"/><clipPath id="p14"><path d="M427.3 238.9C427.3 238.9 439.7 236.7 446 235.6C452.3 234.5 458.7 233.5 465 232.5C471.3 231.5 483.8 229.4 483.8 229.4C483.8 229.4 484.6 234.9 484.5 238C484.4 241.1 483.3 244.7 483 248C482.7 251.3 482.2 255.3 482.5 258C482.8 260.7 484.2 262.3 485 264C485.8 265.7 486.8 266.9 487 268C487.2 269.1 486.5 270.8 486.5 270.8C486.5 270.8 481.1 272.3 477.5 273.4C473.9 274.5 470.2 276.4 465 277.5C459.8 278.6 451.5 279.7 446 280C440.5 280.3 432.2 279.3 432.2 279.3C432.2 279.3 432.2 277.4 432.5 275C432.8 272.6 434 268.8 433.8 265C433.5 261.2 432 255.8 431.2 252.5C430.5 249.2 430.1 247.3 429.4 245C428.7 242.7 427.3 238.9 427.3 238.9Z"/></clipPath><path d="M427.3 238.9C427.3 238.9 439.7 236.7 446 235.6C452.3 234.5 458.7 233.5 465 232.5C471.3 231.5 483.8 229.4 483.8 229.4C483.8 229.4 484.6 234.9 484.5 238C484.4 241.1 483.3 244.7 483 248C482.7 251.3 482.2 255.3 482.5 258C482.8 260.7 484.2 262.3 485 264C485.8 265.7 486.8 266.9 487 268C487.2 269.1 486.5 270.8 486.5 270.8C486.5 270.8 481.1 272.3 477.5 273.4C473.9 274.5 470.2 276.4 465 277.5C459.8 278.6 451.5 279.7 446 280C440.5 280.3 432.2 279.3 432.2 279.3C432.2 279.3 432.2 277.4 432.5 275C432.8 272.6 434 268.8 433.8 265C433.5 261.2 432 255.8 431.2 252.5C430.5 249.2 430.1 247.3 429.4 245C428.7 242.7 427.3 238.9 427.3 238.9Z" fill="url(#gBody)"/><g clip-path="url(#p14)"><path d="M427.3 238.9C427.3 238.9 439.7 236.7 446 235.6C452.3 234.5 458.7 233.5 465 232.5C471.3 231.5 483.8 229.4 483.8 229.4C483.8 229.4 484.6 234.9 484.5 238C484.4 241.1 483.3 244.7 483 248C482.7 251.3 482.2 255.3 482.5 258C482.8 260.7 484.2 262.3 485 264C485.8 265.7 486.8 266.9 487 268C487.2 269.1 486.5 270.8 486.5 270.8C486.5 270.8 481.1 272.3 477.5 273.4C473.9 274.5 470.2 276.4 465 277.5C459.8 278.6 451.5 279.7 446 280C440.5 280.3 432.2 279.3 432.2 279.3C432.2 279.3 432.2 277.4 432.5 275C432.8 272.6 434 268.8 433.8 265C433.5 261.2 432 255.8 431.2 252.5C430.5 249.2 430.1 247.3 429.4 245C428.7 242.7 427.3 238.9 427.3 238.9Z" fill="none" stroke="#7c6d62" stroke-width="5.5" opacity="0.5" filter="url(#b2)"/><ellipse cx="442.2" cy="255.7" rx="2.6" ry="17" fill="#86786d" opacity="0.24" filter="url(#b2)" transform="rotate(6 442.2 255.7)"/><ellipse cx="452.4" cy="252.7" rx="3.2" ry="19.2" fill="#86786d" opacity="0.34" filter="url(#b2)" transform="rotate(3 452.4 252.7)"/><ellipse cx="460.1" cy="251.7" rx="2.6" ry="16" fill="#86786d" opacity="0.3" filter="url(#b2)" transform="rotate(-2 460.1 251.7)"/><ellipse cx="466.7" cy="254.7" rx="2.2" ry="18.1" fill="#86786d" opacity="0.2" filter="url(#b2)" transform="rotate(-5 466.7 254.7)"/><ellipse cx="473.9" cy="253.7" rx="2.8" ry="17" fill="#86786d" opacity="0.24" filter="url(#b2)" transform="rotate(-8 473.9 253.7)"/><ellipse cx="436.9" cy="257.7" rx="1.8" ry="17.3" fill="#e6e0d8" opacity="0.4" filter="url(#b15)"/><ellipse cx="447.6" cy="258.7" rx="1.8" ry="17.3" fill="#e6e0d8" opacity="0.3" filter="url(#b15)"/><ellipse cx="456.6" cy="260.7" rx="1.8" ry="17.3" fill="#e6e0d8" opacity="0.2" filter="url(#b15)"/><ellipse cx="463.7" cy="259.7" rx="1.8" ry="17.3" fill="#e6e0d8" opacity="0.22" filter="url(#b15)"/><ellipse cx="470.3" cy="258.7" rx="1.8" ry="17.3" fill="#e6e0d8" opacity="0.25" filter="url(#b15)"/><ellipse cx="479.8" cy="257.7" rx="1.8" ry="17.3" fill="#e6e0d8" opacity="0.3" filter="url(#b15)"/><ellipse cx="459.1" cy="239.4" rx="15" ry="5" fill="#84766b" opacity="0.3" filter="url(#b3)"/><ellipse cx="451.1" cy="269" rx="16" ry="5" fill="#ddd6cd" opacity="0.4" filter="url(#b3)"/><path d="M427.3 238.9C427.3 238.9 439.7 236.7 446 235.6C452.3 234.5 458.7 233.5 465 232.5C471.3 231.5 483.8 229.4 483.8 229.4" fill="none" stroke="#7c6d62" stroke-width="3.5" opacity="0.45" filter="url(#b1)" transform="translate(0,5)"/><path d="M427.3 238.9C427.3 238.9 439.7 236.7 446 235.6C452.3 234.5 458.7 233.5 465 232.5C471.3 231.5 483.8 229.4 483.8 229.4" fill="none" stroke="#e6e0d8" stroke-width="1.6" opacity="0.6" filter="url(#b05)" transform="translate(0,1.8)"/><path d="M486.5 270.8C486.5 270.8 481.1 272.3 477.5 273.4C473.9 274.5 470.2 276.4 465 277.5C459.8 278.6 451.5 279.7 446 280C440.5 280.3 432.2 279.3 432.2 279.3" fill="none" stroke="#7c6d62" stroke-width="3" opacity="0.35" filter="url(#b1)" transform="translate(0,-4.5)"/><path d="M486.5 270.8C486.5 270.8 481.1 272.3 477.5 273.4C473.9 274.5 470.2 276.4 465 277.5C459.8 278.6 451.5 279.7 446 280C440.5 280.3 432.2 279.3 432.2 279.3" fill="none" stroke="#e2dcd3" stroke-width="1.5" opacity="0.55" filter="url(#b05)" transform="translate(0,-1.8)"/></g><path d="M482.5 258C482.9 259 484.2 262.3 485 264C485.8 265.7 486.8 266.9 487 268C487.2 269.1 486.5 270.8 486.5 270.8C486.5 270.8 481.1 272.3 477.5 273.4C473.9 274.5 470.2 276.4 465 277.5C459.8 278.6 451.5 279.7 446 280C440.5 280.3 432.2 279.3 432.2 279.3C432.2 279.3 432.2 277.4 432.5 275C432.8 272.6 434 268.8 433.8 265C433.5 261.2 432 255.8 431.2 252.5C430.5 249.2 430.1 247.3 429.4 245C428.7 242.7 427.3 238.9 427.3 238.9C427.3 238.9 439.7 236.7 446 235.6C452.3 234.5 458.7 233.5 465 232.5C471.3 231.5 483.8 229.4 483.8 229.4C483.8 229.4 484.4 236.6 484.5 238" fill="none" stroke="#5d4936" stroke-width="0.9" stroke-linejoin="round" stroke-linecap="round"/><clipPath id="p15"><path d="M435 298C435 298 446.5 293.8 452.5 292C458.5 290.2 465.2 288.8 471 287.5C476.8 286.2 482.7 284.8 487.5 284.4C492.3 284 496.2 285.1 500 285C503.8 284.9 507.7 283.1 510 283.8C512.3 284.4 513.6 286.3 514 289C514.4 291.7 513.8 296.7 512.5 300C511.2 303.3 507.6 304 506 309C504.4 314 503 330 503 330C503 330 442 330 442 330C442 330 438.7 317.8 437.5 312.5C436.3 307.2 435 298 435 298Z"/></clipPath><path d="M435 298C435 298 446.5 293.8 452.5 292C458.5 290.2 465.2 288.8 471 287.5C476.8 286.2 482.7 284.8 487.5 284.4C492.3 284 496.2 285.1 500 285C503.8 284.9 507.7 283.1 510 283.8C512.3 284.4 513.6 286.3 514 289C514.4 291.7 513.8 296.7 512.5 300C511.2 303.3 507.6 304 506 309C504.4 314 503 330 503 330C503 330 442 330 442 330C442 330 438.7 317.8 437.5 312.5C436.3 307.2 435 298 435 298Z" fill="url(#gBody)"/><g clip-path="url(#p15)"><path d="M435 298C435 298 446.5 293.8 452.5 292C458.5 290.2 465.2 288.8 471 287.5C476.8 286.2 482.7 284.8 487.5 284.4C492.3 284 496.2 285.1 500 285C503.8 284.9 507.7 283.1 510 283.8C512.3 284.4 513.6 286.3 514 289C514.4 291.7 513.8 296.7 512.5 300C511.2 303.3 507.6 304 506 309C504.4 314 503 330 503 330C503 330 442 330 442 330C442 330 438.7 317.8 437.5 312.5C436.3 307.2 435 298 435 298Z" fill="none" stroke="#7c6d62" stroke-width="5.5" opacity="0.5" filter="url(#b2)"/><ellipse cx="448.8" cy="307.9" rx="2.6" ry="15.3" fill="#86786d" opacity="0.24" filter="url(#b2)" transform="rotate(6 448.8 307.9)"/><ellipse cx="458.1" cy="304.9" rx="3.2" ry="17.2" fill="#86786d" opacity="0.34" filter="url(#b2)" transform="rotate(3 458.1 304.9)"/><ellipse cx="465.2" cy="303.9" rx="2.6" ry="14.3" fill="#86786d" opacity="0.3" filter="url(#b2)" transform="rotate(-2 465.2 303.9)"/><ellipse cx="471.3" cy="306.9" rx="2.2" ry="16.3" fill="#86786d" opacity="0.2" filter="url(#b2)" transform="rotate(-5 471.3 306.9)"/><ellipse cx="477.9" cy="305.9" rx="2.8" ry="15.3" fill="#86786d" opacity="0.24" filter="url(#b2)" transform="rotate(-8 477.9 305.9)"/><ellipse cx="443.8" cy="309.9" rx="1.8" ry="15.1" fill="#e6e0d8" opacity="0.4" filter="url(#b15)"/><ellipse cx="453.7" cy="310.9" rx="1.8" ry="15.1" fill="#e6e0d8" opacity="0.3" filter="url(#b15)"/><ellipse cx="461.9" cy="312.9" rx="1.8" ry="15.1" fill="#e6e0d8" opacity="0.2" filter="url(#b15)"/><ellipse cx="468.6" cy="311.9" rx="1.8" ry="15.1" fill="#e6e0d8" opacity="0.22" filter="url(#b15)"/><ellipse cx="474.6" cy="310.9" rx="1.8" ry="15.1" fill="#e6e0d8" opacity="0.25" filter="url(#b15)"/><ellipse cx="483.4" cy="309.9" rx="1.8" ry="15.1" fill="#e6e0d8" opacity="0.3" filter="url(#b15)"/><ellipse cx="464.5" cy="293.8" rx="15" ry="5" fill="#84766b" opacity="0.3" filter="url(#b3)"/><ellipse cx="456.5" cy="319" rx="16" ry="5" fill="#ddd6cd" opacity="0.4" filter="url(#b3)"/><path d="M435 298C435 298 446.5 293.8 452.5 292C458.5 290.2 465.2 288.8 471 287.5C476.8 286.2 482.7 284.8 487.5 284.4C492.3 284 496.2 285.1 500 285C503.8 284.9 508.3 284 510 283.8" fill="none" stroke="#7c6d62" stroke-width="3.5" opacity="0.45" filter="url(#b1)" transform="translate(0,5)"/><path d="M435 298C435 298 446.5 293.8 452.5 292C458.5 290.2 465.2 288.8 471 287.5C476.8 286.2 482.7 284.8 487.5 284.4C492.3 284 496.2 285.1 500 285C503.8 284.9 508.3 284 510 283.8" fill="none" stroke="#e6e0d8" stroke-width="1.6" opacity="0.6" filter="url(#b05)" transform="translate(0,1.8)"/><path d="M512.5 300C511.2 301.3 508.2 306 504.5 308C500.8 310 495.2 310.8 490.5 312C485.8 313.2 478.8 314.5 476.5 315" fill="none" stroke="#75695e" stroke-width="7" opacity="0.6" filter="url(#b15)" transform="translate(0,4.5)"/><path d="M512.5 300C511.2 301.3 508.2 306 504.5 308C500.8 310 495.2 310.8 490.5 312C485.8 313.2 478.8 314.5 476.5 315" fill="none" stroke="#5d4936" stroke-width="0.8"/></g><path d="M506 309C507.1 307.5 511.2 303.3 512.5 300C513.8 296.7 514.4 291.7 514 289C513.6 286.3 512.3 284.4 510 283.8C507.7 283.1 503.8 284.9 500 285C496.2 285.1 492.3 284 487.5 284.4C482.7 284.8 476.8 286.2 471 287.5C465.2 288.8 458.5 290.2 452.5 292C446.5 293.8 435 298 435 298C435 298 436.3 307.2 437.5 312.5C438.7 317.8 442 330 442 330" fill="none" stroke="#5d4936" stroke-width="0.9" stroke-linejoin="round" stroke-linecap="round"/><clipPath id="p16"><path d="M507.5 311C507.6 309.4 508.8 308.6 510 308C511.2 307.4 513.3 307.2 515 307.3C516.7 307.4 518.5 308.5 520 308.5C521.5 308.5 522.7 307 524 307.2C525.3 307.4 527.2 308.4 528 309.5C528.8 310.6 529.2 312.2 529 313.5C528.8 314.8 528.2 316 527 317C525.8 318 524 319 522 319.5C520 320 517.1 320.3 515 320C512.9 319.7 510.8 319 509.5 317.5C508.2 316 507.4 312.6 507.5 311Z"/></clipPath><path d="M507.5 311C507.6 309.4 508.8 308.6 510 308C511.2 307.4 513.3 307.2 515 307.3C516.7 307.4 518.5 308.5 520 308.5C521.5 308.5 522.7 307 524 307.2C525.3 307.4 527.2 308.4 528 309.5C528.8 310.6 529.2 312.2 529 313.5C528.8 314.8 528.2 316 527 317C525.8 318 524 319 522 319.5C520 320 517.1 320.3 515 320C512.9 319.7 510.8 319 509.5 317.5C508.2 316 507.4 312.6 507.5 311Z" fill="#e4e3ea"/><g clip-path="url(#p16)"><path d="M507.5 311C507.6 309.4 508.8 308.6 510 308C511.2 307.4 513.3 307.2 515 307.3C516.7 307.4 518.5 308.5 520 308.5C521.5 308.5 522.7 307 524 307.2C525.3 307.4 527.2 308.4 528 309.5C528.8 310.6 529.2 312.2 529 313.5C528.8 314.8 528.2 316 527 317C525.8 318 524 319 522 319.5C520 320 517.1 320.3 515 320C512.9 319.7 510.8 319 509.5 317.5C508.2 316 507.4 312.6 507.5 311Z" fill="none" stroke="#7f7d90" stroke-width="3.5" opacity="0.7" filter="url(#b1)"/></g><path d="M507.5 311C507.6 309.4 508.8 308.6 510 308C511.2 307.4 513.3 307.2 515 307.3C516.7 307.4 518.5 308.5 520 308.5C521.5 308.5 522.7 307 524 307.2C525.3 307.4 527.2 308.4 528 309.5C528.8 310.6 529.2 312.2 529 313.5C528.8 314.8 528.2 316 527 317C525.8 318 524 319 522 319.5C520 320 517.1 320.3 515 320C512.9 319.7 510.8 319 509.5 317.5C508.2 316 507.4 312.6 507.5 311Z" fill="none" stroke="#5b5360" stroke-width="0.9" stroke-linejoin="round"/><clipPath id="p17"><path d="M491 105.3C492.3 105.4 494.4 106 495.5 107C496.6 108 497.6 109.8 497.5 111C497.4 112.2 495.8 113.3 495 114.5C494.2 115.7 493.1 116.4 492.5 118C491.9 119.6 492 122.2 491.5 124C491 125.8 490.3 127.6 489.5 128.5C488.7 129.4 487.3 129.9 486.5 129.5C485.7 129.1 484.9 127.9 484.5 126C484.1 124.1 484.1 120.5 484.2 118C484.3 115.5 484.4 112.9 485 111C485.6 109.1 486.5 107.5 487.5 106.5C488.5 105.5 489.7 105.2 491 105.3Z"/></clipPath><path d="M491 105.3C492.3 105.4 494.4 106 495.5 107C496.6 108 497.6 109.8 497.5 111C497.4 112.2 495.8 113.3 495 114.5C494.2 115.7 493.1 116.4 492.5 118C491.9 119.6 492 122.2 491.5 124C491 125.8 490.3 127.6 489.5 128.5C488.7 129.4 487.3 129.9 486.5 129.5C485.7 129.1 484.9 127.9 484.5 126C484.1 124.1 484.1 120.5 484.2 118C484.3 115.5 484.4 112.9 485 111C485.6 109.1 486.5 107.5 487.5 106.5C488.5 105.5 489.7 105.2 491 105.3Z" fill="#fff"/><path d="M491 105.3C492.3 105.4 494.4 106 495.5 107C496.6 108 497.6 109.8 497.5 111C497.4 112.2 495.8 113.3 495 114.5C494.2 115.7 493.1 116.4 492.5 118C491.9 119.6 492 122.2 491.5 124C491 125.8 490.3 127.6 489.5 128.5C488.7 129.4 487.3 129.9 486.5 129.5C485.7 129.1 484.9 127.9 484.5 126C484.1 124.1 484.1 120.5 484.2 118C484.3 115.5 484.4 112.9 485 111C485.6 109.1 486.5 107.5 487.5 106.5C488.5 105.5 489.7 105.2 491 105.3Z" fill="none" stroke="#5d4936" stroke-width="0.9" stroke-linejoin="round"/><clipPath id="p18"><path d="M488 154.2C489.7 154 491.8 155 493 156C494.2 157 495 158.5 495 160C495 161.5 493.8 163.3 493 165C492.2 166.7 490.8 168.3 490 170C489.2 171.7 488.9 174 488 175C487.1 176 485.5 176.7 484.5 176C483.5 175.3 482.7 173.2 482.2 171C481.7 168.8 481.2 165.3 481.3 163C481.4 160.7 481.7 158.5 482.8 157C483.9 155.5 486.3 154.4 488 154.2Z"/></clipPath><path d="M488 154.2C489.7 154 491.8 155 493 156C494.2 157 495 158.5 495 160C495 161.5 493.8 163.3 493 165C492.2 166.7 490.8 168.3 490 170C489.2 171.7 488.9 174 488 175C487.1 176 485.5 176.7 484.5 176C483.5 175.3 482.7 173.2 482.2 171C481.7 168.8 481.2 165.3 481.3 163C481.4 160.7 481.7 158.5 482.8 157C483.9 155.5 486.3 154.4 488 154.2Z" fill="#fff"/><path d="M488 154.2C489.7 154 491.8 155 493 156C494.2 157 495 158.5 495 160C495 161.5 493.8 163.3 493 165C492.2 166.7 490.8 168.3 490 170C489.2 171.7 488.9 174 488 175C487.1 176 485.5 176.7 484.5 176C483.5 175.3 482.7 173.2 482.2 171C481.7 168.8 481.2 165.3 481.3 163C481.4 160.7 481.7 158.5 482.8 157C483.9 155.5 486.3 154.4 488 154.2Z" fill="none" stroke="#5d4936" stroke-width="0.9" stroke-linejoin="round"/><clipPath id="p19"><path d="M486 209C487.3 209.2 490 210.3 491.5 211.5C493 212.7 495.1 214.7 495.2 216C495.3 217.3 493 218.2 492 219.5C491 220.8 489.9 222.2 489.3 224C488.7 225.8 488.9 228.4 488.3 230C487.8 231.6 486.7 233.5 486 233.5C485.3 233.5 484.5 231.9 484 230C483.5 228.1 483.4 224.7 483.2 222C483 219.3 482.9 216 483 214C483.1 212 483 210.8 483.5 210C484 209.2 484.7 208.8 486 209Z"/></clipPath><path d="M486 209C487.3 209.2 490 210.3 491.5 211.5C493 212.7 495.1 214.7 495.2 216C495.3 217.3 493 218.2 492 219.5C491 220.8 489.9 222.2 489.3 224C488.7 225.8 488.9 228.4 488.3 230C487.8 231.6 486.7 233.5 486 233.5C485.3 233.5 484.5 231.9 484 230C483.5 228.1 483.4 224.7 483.2 222C483 219.3 482.9 216 483 214C483.1 212 483 210.8 483.5 210C484 209.2 484.7 208.8 486 209Z" fill="#fff"/><path d="M486 209C487.3 209.2 490 210.3 491.5 211.5C493 212.7 495.1 214.7 495.2 216C495.3 217.3 493 218.2 492 219.5C491 220.8 489.9 222.2 489.3 224C488.7 225.8 488.9 228.4 488.3 230C487.8 231.6 486.7 233.5 486 233.5C485.3 233.5 484.5 231.9 484 230C483.5 228.1 483.4 224.7 483.2 222C483 219.3 482.9 216 483 214C483.1 212 483 210.8 483.5 210C484 209.2 484.7 208.8 486 209Z" fill="none" stroke="#5d4936" stroke-width="0.9" stroke-linejoin="round"/><clipPath id="p20"><path d="M484.5 258.6C485.5 258.5 487.5 259.2 489 260C490.5 260.8 492.1 262 493.5 263.5C494.9 265 496.8 266.8 497.3 269C497.8 271.2 497.2 274.6 496.5 277C495.8 279.4 494 282.8 493 283.6C492 284.4 491.1 283.3 490.3 282C489.6 280.7 489.1 278.2 488.5 276C487.9 273.8 487.6 271 487 269C486.4 267 485.6 265.4 485 264C484.4 262.6 483.3 261.4 483.2 260.5C483.1 259.6 483.5 258.7 484.5 258.6Z"/></clipPath><path d="M484.5 258.6C485.5 258.5 487.5 259.2 489 260C490.5 260.8 492.1 262 493.5 263.5C494.9 265 496.8 266.8 497.3 269C497.8 271.2 497.2 274.6 496.5 277C495.8 279.4 494 282.8 493 283.6C492 284.4 491.1 283.3 490.3 282C489.6 280.7 489.1 278.2 488.5 276C487.9 273.8 487.6 271 487 269C486.4 267 485.6 265.4 485 264C484.4 262.6 483.3 261.4 483.2 260.5C483.1 259.6 483.5 258.7 484.5 258.6Z" fill="#fff"/><path d="M484.5 258.6C485.5 258.5 487.5 259.2 489 260C490.5 260.8 492.1 262 493.5 263.5C494.9 265 496.8 266.8 497.3 269C497.8 271.2 497.2 274.6 496.5 277C495.8 279.4 494 282.8 493 283.6C492 284.4 491.1 283.3 490.3 282C489.6 280.7 489.1 278.2 488.5 276C487.9 273.8 487.6 271 487 269C486.4 267 485.6 265.4 485 264C484.4 262.6 483.3 261.4 483.2 260.5C483.1 259.6 483.5 258.7 484.5 258.6Z" fill="none" stroke="#5d4936" stroke-width="0.9" stroke-linejoin="round"/><clipPath id="p21"><path d="M429.4 115.4C429.4 115.4 440.1 116.8 446 117.4C451.9 118 458.7 118.9 465 119.1C471.3 119.3 483.6 118.4 483.6 118.4C483.6 118.4 483.6 124.2 483.6 124.2C483.6 124.2 471.3 126.8 465 127.2C458.7 127.6 451.9 127 446 126.6C440.1 126.2 429.9 124.9 429.9 124.9C429.9 124.9 429.4 115.4 429.4 115.4Z"/></clipPath><path d="M429.4 115.4C429.4 115.4 440.1 116.8 446 117.4C451.9 118 458.7 118.9 465 119.1C471.3 119.3 483.6 118.4 483.6 118.4C483.6 118.4 483.6 124.2 483.6 124.2C483.6 124.2 471.3 126.8 465 127.2C458.7 127.6 451.9 127 446 126.6C440.1 126.2 429.9 124.9 429.9 124.9C429.9 124.9 429.4 115.4 429.4 115.4Z" fill="#9bbbf0"/><g clip-path="url(#p21)"><path d="M429.4 115.4C429.4 115.4 440.1 116.8 446 117.4C451.9 118 458.7 118.9 465 119.1C471.3 119.3 483.6 118.4 483.6 118.4C483.6 118.4 483.6 124.2 483.6 124.2C483.6 124.2 471.3 126.8 465 127.2C458.7 127.6 451.9 127 446 126.6C440.1 126.2 429.9 124.9 429.9 124.9C429.9 124.9 429.4 115.4 429.4 115.4Z" fill="none" stroke="#5b86dc" stroke-width="2.2" opacity="0.6" filter="url(#b1)"/><path d="M429.6 120.2C432.4 120.5 440.1 121.5 446 122C451.9 122.5 458.7 123.3 465 123.2C471.3 123 480.5 121.6 483.6 121.3" fill="none" stroke="#d3e1f8" stroke-width="4.1" opacity="0.85" filter="url(#b1)"/><path d="M429.4 115.4C429.4 115.4 440.1 116.8 446 117.4C451.9 118 458.7 118.9 465 119.1C471.3 119.3 483.6 118.4 483.6 118.4C483.6 118.4 483.6 124.2 483.6 124.2C483.6 124.2 471.3 126.8 465 127.2C458.7 127.6 451.9 127 446 126.6C440.1 126.2 429.9 124.9 429.9 124.9C429.9 124.9 429.4 115.4 429.4 115.4Z" fill="url(#hatch)"/></g><path d="M429.4 115.4C429.4 115.4 440.1 116.8 446 117.4C451.9 118 458.7 118.9 465 119.1C471.3 119.3 483.6 118.4 483.6 118.4C483.6 118.4 483.6 124.2 483.6 124.2C483.6 124.2 471.3 126.8 465 127.2C458.7 127.6 451.9 127 446 126.6C440.1 126.2 429.9 124.9 429.9 124.9C429.9 124.9 429.4 115.4 429.4 115.4Z" fill="none" stroke="#6f6a4e" stroke-width="0.8" stroke-linejoin="round"/><clipPath id="p22"><path d="M425.4 167.4C425.4 167.4 439.4 169.2 446 169.8C452.6 170.4 459.2 171.1 465 171C470.8 170.9 480.8 169.4 480.8 169.4C480.8 169.4 480.8 176.6 480.8 176.6C480.8 176.6 470.8 177.8 465 178.3C459.2 178.8 452.7 179.4 446 179.7C439.3 180 424.9 180.2 424.9 180.2C424.9 180.2 425.4 167.4 425.4 167.4Z"/></clipPath><path d="M425.4 167.4C425.4 167.4 439.4 169.2 446 169.8C452.6 170.4 459.2 171.1 465 171C470.8 170.9 480.8 169.4 480.8 169.4C480.8 169.4 480.8 176.6 480.8 176.6C480.8 176.6 470.8 177.8 465 178.3C459.2 178.8 452.7 179.4 446 179.7C439.3 180 424.9 180.2 424.9 180.2C424.9 180.2 425.4 167.4 425.4 167.4Z" fill="#9bbbf0"/><g clip-path="url(#p22)"><path d="M425.4 167.4C425.4 167.4 439.4 169.2 446 169.8C452.6 170.4 459.2 171.1 465 171C470.8 170.9 480.8 169.4 480.8 169.4C480.8 169.4 480.8 176.6 480.8 176.6C480.8 176.6 470.8 177.8 465 178.3C459.2 178.8 452.7 179.4 446 179.7C439.3 180 424.9 180.2 424.9 180.2C424.9 180.2 425.4 167.4 425.4 167.4Z" fill="none" stroke="#5b86dc" stroke-width="2.2" opacity="0.6" filter="url(#b1)"/><path d="M425.1 173.8C428.6 174 439.4 174.6 446 174.8C452.6 174.9 459.2 174.9 465 174.7C470.8 174.4 478.2 173.3 480.8 173" fill="none" stroke="#d3e1f8" stroke-width="4.6" opacity="0.85" filter="url(#b1)"/><path d="M425.4 167.4C425.4 167.4 439.4 169.2 446 169.8C452.6 170.4 459.2 171.1 465 171C470.8 170.9 480.8 169.4 480.8 169.4C480.8 169.4 480.8 176.6 480.8 176.6C480.8 176.6 470.8 177.8 465 178.3C459.2 178.8 452.7 179.4 446 179.7C439.3 180 424.9 180.2 424.9 180.2C424.9 180.2 425.4 167.4 425.4 167.4Z" fill="url(#hatch)"/></g><path d="M425.4 167.4C425.4 167.4 439.4 169.2 446 169.8C452.6 170.4 459.2 171.1 465 171C470.8 170.9 480.8 169.4 480.8 169.4C480.8 169.4 480.8 176.6 480.8 176.6C480.8 176.6 470.8 177.8 465 178.3C459.2 178.8 452.7 179.4 446 179.7C439.3 180 424.9 180.2 424.9 180.2C424.9 180.2 425.4 167.4 425.4 167.4Z" fill="none" stroke="#6f6a4e" stroke-width="0.8" stroke-linejoin="round"/><clipPath id="p23"><path d="M427.3 225.6C427.3 225.6 439.7 224.4 446 223.8C452.3 223.2 458.8 222.7 465 221.8C471.2 220.9 483.2 218.6 483.2 218.6C483.2 218.6 482.6 228.2 482.6 228.2C482.6 228.2 471.1 230.4 465 231.5C458.9 232.6 452.1 233.6 446 234.6C439.9 235.6 428.7 237.7 428.7 237.7C428.7 237.7 427.3 225.6 427.3 225.6Z"/></clipPath><path d="M427.3 225.6C427.3 225.6 439.7 224.4 446 223.8C452.3 223.2 458.8 222.7 465 221.8C471.2 220.9 483.2 218.6 483.2 218.6C483.2 218.6 482.6 228.2 482.6 228.2C482.6 228.2 471.1 230.4 465 231.5C458.9 232.6 452.1 233.6 446 234.6C439.9 235.6 428.7 237.7 428.7 237.7C428.7 237.7 427.3 225.6 427.3 225.6Z" fill="#9bbbf0"/><g clip-path="url(#p23)"><path d="M427.3 225.6C427.3 225.6 439.7 224.4 446 223.8C452.3 223.2 458.8 222.7 465 221.8C471.2 220.9 483.2 218.6 483.2 218.6C483.2 218.6 482.6 228.2 482.6 228.2C482.6 228.2 471.1 230.4 465 231.5C458.9 232.6 452.1 233.6 446 234.6C439.9 235.6 428.7 237.7 428.7 237.7C428.7 237.7 427.3 225.6 427.3 225.6Z" fill="none" stroke="#5b86dc" stroke-width="2.2" opacity="0.6" filter="url(#b1)"/><path d="M428 231.6C431 231.2 439.8 230 446 229.2C452.2 228.4 458.9 227.6 465 226.7C471.1 225.7 479.9 223.9 482.9 223.4" fill="none" stroke="#d3e1f8" stroke-width="5.3" opacity="0.85" filter="url(#b1)"/><path d="M427.3 225.6C427.3 225.6 439.7 224.4 446 223.8C452.3 223.2 458.8 222.7 465 221.8C471.2 220.9 483.2 218.6 483.2 218.6C483.2 218.6 482.6 228.2 482.6 228.2C482.6 228.2 471.1 230.4 465 231.5C458.9 232.6 452.1 233.6 446 234.6C439.9 235.6 428.7 237.7 428.7 237.7C428.7 237.7 427.3 225.6 427.3 225.6Z" fill="url(#hatch)"/></g><path d="M427.3 225.6C427.3 225.6 439.7 224.4 446 223.8C452.3 223.2 458.8 222.7 465 221.8C471.2 220.9 483.2 218.6 483.2 218.6C483.2 218.6 482.6 228.2 482.6 228.2C482.6 228.2 471.1 230.4 465 231.5C458.9 232.6 452.1 233.6 446 234.6C439.9 235.6 428.7 237.7 428.7 237.7C428.7 237.7 427.3 225.6 427.3 225.6Z" fill="none" stroke="#6f6a4e" stroke-width="0.8" stroke-linejoin="round"/><clipPath id="p24"><path d="M433.6 280.6C433.6 280.6 440.8 281.2 446 280.8C451.2 280.4 459.8 279.4 465 278.3C470.2 277.2 474 275.4 477.5 274.2C481 273 485.8 271.3 485.8 271.3C485.8 271.3 490.2 281.4 490.2 281.4C490.2 281.4 477.5 285 471.2 286.6C465 288.2 458.2 289.3 452.5 291C446.8 292.7 437 296.8 437 296.8C437 296.8 433.6 280.6 433.6 280.6Z"/></clipPath><path d="M433.6 280.6C433.6 280.6 440.8 281.2 446 280.8C451.2 280.4 459.8 279.4 465 278.3C470.2 277.2 474 275.4 477.5 274.2C481 273 485.8 271.3 485.8 271.3C485.8 271.3 490.2 281.4 490.2 281.4C490.2 281.4 477.5 285 471.2 286.6C465 288.2 458.2 289.3 452.5 291C446.8 292.7 437 296.8 437 296.8C437 296.8 433.6 280.6 433.6 280.6Z" fill="#9bbbf0"/><g clip-path="url(#p24)"><path d="M433.6 280.6C433.6 280.6 440.8 281.2 446 280.8C451.2 280.4 459.8 279.4 465 278.3C470.2 277.2 474 275.4 477.5 274.2C481 273 485.8 271.3 485.8 271.3C485.8 271.3 490.2 281.4 490.2 281.4C490.2 281.4 477.5 285 471.2 286.6C465 288.2 458.2 289.3 452.5 291C446.8 292.7 437 296.8 437 296.8C437 296.8 433.6 280.6 433.6 280.6Z" fill="none" stroke="#5b86dc" stroke-width="2.2" opacity="0.6" filter="url(#b1)"/><path d="M435.3 288.7C437.6 288.2 443.8 286.9 449.2 285.9C454.7 284.9 462.4 283.8 468.1 282.5C473.9 281.1 481.2 278.6 483.9 277.8" fill="none" stroke="#d3e1f8" stroke-width="5.2" opacity="0.85" filter="url(#b1)"/><path d="M433.6 280.6C433.6 280.6 440.8 281.2 446 280.8C451.2 280.4 459.8 279.4 465 278.3C470.2 277.2 474 275.4 477.5 274.2C481 273 485.8 271.3 485.8 271.3C485.8 271.3 490.2 281.4 490.2 281.4C490.2 281.4 477.5 285 471.2 286.6C465 288.2 458.2 289.3 452.5 291C446.8 292.7 437 296.8 437 296.8C437 296.8 433.6 280.6 433.6 280.6Z" fill="url(#hatch)"/></g><path d="M433.6 280.6C433.6 280.6 440.8 281.2 446 280.8C451.2 280.4 459.8 279.4 465 278.3C470.2 277.2 474 275.4 477.5 274.2C481 273 485.8 271.3 485.8 271.3C485.8 271.3 490.2 281.4 490.2 281.4C490.2 281.4 477.5 285 471.2 286.6C465 288.2 458.2 289.3 452.5 291C446.8 292.7 437 296.8 437 296.8C437 296.8 433.6 280.6 433.6 280.6Z" fill="none" stroke="#6f6a4e" stroke-width="0.8" stroke-linejoin="round"/></g><g id="tplB"><clipPath id="p25"><path d="M483 131C485.5 130.2 487.4 129.7 489 128.5C490.6 127.3 491.6 125.7 492.3 124C493.1 122.3 492.8 120.1 493.5 118.5C494.2 116.9 495.2 115.3 496.5 114.3C497.8 113.3 499.5 112.6 501.4 112.6C503.3 112.6 506 113.4 508 114.3C510 115.2 511.9 116.7 513.6 118C515.3 119.3 516.9 120.6 518 122C519.1 123.4 520 125.1 520.2 126.5C520.4 127.9 519.9 129.3 519.3 130.5C518.6 131.7 517.5 132.8 516.3 133.4C515.1 134 512.9 133.4 512.3 134.2C511.7 135 512.6 136.7 512.5 138C512.4 139.3 512.1 140.7 511.6 142C511.1 143.3 511 144.5 509.6 145.6C508.2 146.7 505.6 147.7 503 148.8C500.4 149.9 496.8 151.1 494 152.2C491.2 153.3 487.9 154.5 486 155.2C484.1 155.9 484.4 156.6 482.3 156.5C480.2 156.4 474.7 158.4 473.3 154.5C471.9 150.6 472.4 136.9 474 133C475.6 129.1 480.5 131.8 483 131Z"/></clipPath><linearGradient id="mp25" gradientUnits="userSpaceOnUse" x1="474.3" y1="0" x2="486.3" y2="0"><stop offset="0" stop-color="#000"/><stop offset="1" stop-color="#fff"/></linearGradient><mask id="kp25" maskUnits="userSpaceOnUse" x="470.3" y="101" width="70" height="80"><rect x="470.3" y="101" width="70" height="80" fill="url(#mp25)"/></mask><g mask="url(#kp25)"><path d="M483 131C485.5 130.2 487.4 129.7 489 128.5C490.6 127.3 491.6 125.7 492.3 124C493.1 122.3 492.8 120.1 493.5 118.5C494.2 116.9 495.2 115.3 496.5 114.3C497.8 113.3 499.5 112.6 501.4 112.6C503.3 112.6 506 113.4 508 114.3C510 115.2 511.9 116.7 513.6 118C515.3 119.3 516.9 120.6 518 122C519.1 123.4 520 125.1 520.2 126.5C520.4 127.9 519.9 129.3 519.3 130.5C518.6 131.7 517.5 132.8 516.3 133.4C515.1 134 512.9 133.4 512.3 134.2C511.7 135 512.6 136.7 512.5 138C512.4 139.3 512.1 140.7 511.6 142C511.1 143.3 511 144.5 509.6 145.6C508.2 146.7 505.6 147.7 503 148.8C500.4 149.9 496.8 151.1 494 152.2C491.2 153.3 487.9 154.5 486 155.2C484.1 155.9 484.4 156.6 482.3 156.5C480.2 156.4 474.7 158.4 473.3 154.5C471.9 150.6 472.4 136.9 474 133C475.6 129.1 480.5 131.8 483 131Z" fill="url(#gKnob)"/><g clip-path="url(#p25)"><path d="M483 131C484 130.6 487.4 129.7 489 128.5C490.6 127.3 491.6 125.7 492.3 124C493.1 122.3 492.8 120.1 493.5 118.5C494.2 116.9 495.2 115.3 496.5 114.3C497.8 113.3 499.5 112.6 501.4 112.6C503.3 112.6 506 113.4 508 114.3C510 115.2 511.9 116.7 513.6 118C515.3 119.3 516.9 120.6 518 122C519.1 123.4 520 125.1 520.2 126.5C520.4 127.9 519.9 129.3 519.3 130.5C518.6 131.7 517.5 132.8 516.3 133.4C515.1 134 512.9 133.4 512.3 134.2C511.7 135 512.6 136.7 512.5 138C512.4 139.3 512.1 140.7 511.6 142C511.1 143.3 511 144.5 509.6 145.6C508.2 146.7 505.6 147.7 503 148.8C500.4 149.9 496.8 151.1 494 152.2C491.2 153.3 487.9 154.5 486 155.2C484.1 155.9 482.9 156.3 482.3 156.5" fill="none" stroke="#7c6d62" stroke-width="5" opacity="0.5" filter="url(#b15)"/><path d="M490.5 130.7C491.8 130.1 495.5 127.8 498 127C500.5 126.2 503.5 125.6 505.5 125.8C507.5 126 508.9 126.6 510 128C511.1 129.4 511.9 133.2 512.3 134.2" fill="none" stroke="#7c6d62" stroke-width="3" opacity="0.5" filter="url(#b1)" transform="translate(0,1.8)"/><path d="M490.5 130.7C491.8 130.1 495.5 127.8 498 127C500.5 126.2 503.5 125.6 505.5 125.8C507.5 126 508.9 126.6 510 128C511.1 129.4 511.9 133.2 512.3 134.2" fill="none" stroke="#ebe6df" stroke-width="2.4" opacity="0.6" filter="url(#b1)" transform="translate(-1,7)"/></g></g><path d="M483 131C484 130.6 487.4 129.7 489 128.5C490.6 127.3 491.6 125.7 492.3 124C493.1 122.3 492.8 120.1 493.5 118.5C494.2 116.9 495.2 115.3 496.5 114.3C497.8 113.3 499.5 112.6 501.4 112.6C503.3 112.6 506 113.4 508 114.3C510 115.2 511.9 116.7 513.6 118C515.3 119.3 516.9 120.6 518 122C519.1 123.4 520 125.1 520.2 126.5C520.4 127.9 519.9 129.3 519.3 130.5C518.6 131.7 517.5 132.8 516.3 133.4C515.1 134 512.9 133.4 512.3 134.2C511.7 135 512.6 136.7 512.5 138C512.4 139.3 512.1 140.7 511.6 142C511.1 143.3 511 144.5 509.6 145.6C508.2 146.7 505.6 147.7 503 148.8C500.4 149.9 496.8 151.1 494 152.2C491.2 153.3 487.9 154.5 486 155.2C484.1 155.9 482.9 156.3 482.3 156.5" fill="none" stroke="#5d4936" stroke-width="0.9" stroke-linecap="round" stroke-linejoin="round"/><path d="M490.5 130.7C491.8 130.1 495.5 127.8 498 127C500.5 126.2 503.5 125.6 505.5 125.8C507.5 126 508.9 126.6 510 128C511.1 129.4 511.9 133.2 512.3 134.2" fill="none" stroke="#5d4936" stroke-width="0.8" stroke-linecap="round"/><ellipse cx="503.4" cy="120.6" rx="6" ry="4.5" fill="#eee9e2" opacity="0.7" filter="url(#b15)"/><clipPath id="p26"><path d="M483.6 185.3C486.1 184.6 488.1 184 489.6 182.8C491.2 181.6 492.2 180 492.9 178.3C493.7 176.6 493.4 174.4 494.1 172.8C494.8 171.2 495.8 169.6 497.1 168.6C498.4 167.6 500.1 166.9 502 166.9C503.9 166.9 506.6 167.7 508.6 168.6C510.6 169.5 512.5 171 514.2 172.3C515.9 173.6 517.5 174.9 518.6 176.3C519.7 177.7 520.6 179.4 520.8 180.8C521 182.2 520.5 183.7 519.9 184.8C519.2 186 518.1 187.1 516.9 187.7C515.7 188.3 513.5 187.7 512.9 188.5C512.3 189.3 513.2 191 513.1 192.3C513 193.6 512.7 195 512.2 196.3C511.7 197.6 511.6 198.8 510.2 199.9C508.8 201 506.2 202 503.6 203.1C501 204.2 497.4 205.4 494.6 206.5C491.8 207.6 488.6 208.8 486.6 209.5C484.7 210.2 485 210.9 482.9 210.8C480.8 210.7 475.3 212.7 473.9 208.8C472.5 204.9 473 191.2 474.6 187.3C476.2 183.4 481.1 186.1 483.6 185.3Z"/></clipPath><linearGradient id="mp26" gradientUnits="userSpaceOnUse" x1="474.9" y1="0" x2="486.9" y2="0"><stop offset="0" stop-color="#000"/><stop offset="1" stop-color="#fff"/></linearGradient><mask id="kp26" maskUnits="userSpaceOnUse" x="470.9" y="155.3" width="70" height="80"><rect x="470.9" y="155.3" width="70" height="80" fill="url(#mp26)"/></mask><g mask="url(#kp26)"><path d="M483.6 185.3C486.1 184.6 488.1 184 489.6 182.8C491.2 181.6 492.2 180 492.9 178.3C493.7 176.6 493.4 174.4 494.1 172.8C494.8 171.2 495.8 169.6 497.1 168.6C498.4 167.6 500.1 166.9 502 166.9C503.9 166.9 506.6 167.7 508.6 168.6C510.6 169.5 512.5 171 514.2 172.3C515.9 173.6 517.5 174.9 518.6 176.3C519.7 177.7 520.6 179.4 520.8 180.8C521 182.2 520.5 183.7 519.9 184.8C519.2 186 518.1 187.1 516.9 187.7C515.7 188.3 513.5 187.7 512.9 188.5C512.3 189.3 513.2 191 513.1 192.3C513 193.6 512.7 195 512.2 196.3C511.7 197.6 511.6 198.8 510.2 199.9C508.8 201 506.2 202 503.6 203.1C501 204.2 497.4 205.4 494.6 206.5C491.8 207.6 488.6 208.8 486.6 209.5C484.7 210.2 485 210.9 482.9 210.8C480.8 210.7 475.3 212.7 473.9 208.8C472.5 204.9 473 191.2 474.6 187.3C476.2 183.4 481.1 186.1 483.6 185.3Z" fill="url(#gKnob)"/><g clip-path="url(#p26)"><path d="M483.6 185.3C484.6 184.9 488.1 184 489.6 182.8C491.2 181.6 492.2 180 492.9 178.3C493.7 176.6 493.4 174.4 494.1 172.8C494.8 171.2 495.8 169.6 497.1 168.6C498.4 167.6 500.1 166.9 502 166.9C503.9 166.9 506.6 167.7 508.6 168.6C510.6 169.5 512.5 171 514.2 172.3C515.9 173.6 517.5 174.9 518.6 176.3C519.7 177.7 520.6 179.4 520.8 180.8C521 182.2 520.5 183.7 519.9 184.8C519.2 186 518.1 187.1 516.9 187.7C515.7 188.3 513.5 187.7 512.9 188.5C512.3 189.3 513.2 191 513.1 192.3C513 193.6 512.7 195 512.2 196.3C511.7 197.6 511.6 198.8 510.2 199.9C508.8 201 506.2 202 503.6 203.1C501 204.2 497.4 205.4 494.6 206.5C491.8 207.6 488.6 208.8 486.6 209.5C484.7 210.2 483.5 210.6 482.9 210.8" fill="none" stroke="#7c6d62" stroke-width="5" opacity="0.5" filter="url(#b15)"/><path d="M491.1 185C492.4 184.4 496.1 182.1 498.6 181.3C501.1 180.5 504.1 179.9 506.1 180.1C508.1 180.3 509.5 180.9 510.6 182.3C511.7 183.7 512.5 187.5 512.9 188.5" fill="none" stroke="#7c6d62" stroke-width="3" opacity="0.5" filter="url(#b1)" transform="translate(0,1.8)"/><path d="M491.1 185C492.4 184.4 496.1 182.1 498.6 181.3C501.1 180.5 504.1 179.9 506.1 180.1C508.1 180.3 509.5 180.9 510.6 182.3C511.7 183.7 512.5 187.5 512.9 188.5" fill="none" stroke="#ebe6df" stroke-width="2.4" opacity="0.6" filter="url(#b1)" transform="translate(-1,7)"/></g></g><path d="M483.6 185.3C484.6 184.9 488.1 184 489.6 182.8C491.2 181.6 492.2 180 492.9 178.3C493.7 176.6 493.4 174.4 494.1 172.8C494.8 171.2 495.8 169.6 497.1 168.6C498.4 167.6 500.1 166.9 502 166.9C503.9 166.9 506.6 167.7 508.6 168.6C510.6 169.5 512.5 171 514.2 172.3C515.9 173.6 517.5 174.9 518.6 176.3C519.7 177.7 520.6 179.4 520.8 180.8C521 182.2 520.5 183.7 519.9 184.8C519.2 186 518.1 187.1 516.9 187.7C515.7 188.3 513.5 187.7 512.9 188.5C512.3 189.3 513.2 191 513.1 192.3C513 193.6 512.7 195 512.2 196.3C511.7 197.6 511.6 198.8 510.2 199.9C508.8 201 506.2 202 503.6 203.1C501 204.2 497.4 205.4 494.6 206.5C491.8 207.6 488.6 208.8 486.6 209.5C484.7 210.2 483.5 210.6 482.9 210.8" fill="none" stroke="#5d4936" stroke-width="0.9" stroke-linecap="round" stroke-linejoin="round"/><path d="M491.1 185C492.4 184.4 496.1 182.1 498.6 181.3C501.1 180.5 504.1 179.9 506.1 180.1C508.1 180.3 509.5 180.9 510.6 182.3C511.7 183.7 512.5 187.5 512.9 188.5" fill="none" stroke="#5d4936" stroke-width="0.8" stroke-linecap="round"/><ellipse cx="504" cy="174.9" rx="6" ry="4.5" fill="#eee9e2" opacity="0.7" filter="url(#b15)"/><clipPath id="p27"><path d="M482.4 235C484.9 234.2 486.8 233.7 488.4 232.5C489.9 231.3 490.9 229.7 491.7 228C492.4 226.3 492.2 224.1 492.9 222.5C493.6 220.9 494.6 219.3 495.9 218.3C497.2 217.3 498.9 216.6 500.8 216.6C502.7 216.6 505.4 217.4 507.4 218.3C509.4 219.2 511.3 220.7 513 222C514.7 223.3 516.3 224.6 517.4 226C518.5 227.4 519.4 229.1 519.6 230.5C519.8 231.9 519.3 233.3 518.7 234.5C518 235.7 516.9 236.8 515.7 237.4C514.5 238 512.3 237.4 511.7 238.2C511.1 239 512 240.7 511.9 242C511.8 243.3 511.5 244.7 511 246C510.5 247.3 510.4 248.5 509 249.6C507.6 250.7 505 251.7 502.4 252.8C499.8 253.9 496.2 255.1 493.4 256.2C490.6 257.3 487.3 258.5 485.4 259.2C483.4 259.9 483.8 260.6 481.7 260.5C479.6 260.4 474.1 262.4 472.7 258.5C471.3 254.6 471.8 240.9 473.4 237C475 233.1 479.9 235.8 482.4 235Z"/></clipPath><linearGradient id="mp27" gradientUnits="userSpaceOnUse" x1="473.7" y1="0" x2="485.7" y2="0"><stop offset="0" stop-color="#000"/><stop offset="1" stop-color="#fff"/></linearGradient><mask id="kp27" maskUnits="userSpaceOnUse" x="469.7" y="205" width="70" height="80"><rect x="469.7" y="205" width="70" height="80" fill="url(#mp27)"/></mask><g mask="url(#kp27)"><path d="M482.4 235C484.9 234.2 486.8 233.7 488.4 232.5C489.9 231.3 490.9 229.7 491.7 228C492.4 226.3 492.2 224.1 492.9 222.5C493.6 220.9 494.6 219.3 495.9 218.3C497.2 217.3 498.9 216.6 500.8 216.6C502.7 216.6 505.4 217.4 507.4 218.3C509.4 219.2 511.3 220.7 513 222C514.7 223.3 516.3 224.6 517.4 226C518.5 227.4 519.4 229.1 519.6 230.5C519.8 231.9 519.3 233.3 518.7 234.5C518 235.7 516.9 236.8 515.7 237.4C514.5 238 512.3 237.4 511.7 238.2C511.1 239 512 240.7 511.9 242C511.8 243.3 511.5 244.7 511 246C510.5 247.3 510.4 248.5 509 249.6C507.6 250.7 505 251.7 502.4 252.8C499.8 253.9 496.2 255.1 493.4 256.2C490.6 257.3 487.3 258.5 485.4 259.2C483.4 259.9 483.8 260.6 481.7 260.5C479.6 260.4 474.1 262.4 472.7 258.5C471.3 254.6 471.8 240.9 473.4 237C475 233.1 479.9 235.8 482.4 235Z" fill="url(#gKnob)"/><g clip-path="url(#p27)"><path d="M482.4 235C483.4 234.6 486.8 233.7 488.4 232.5C489.9 231.3 490.9 229.7 491.7 228C492.4 226.3 492.2 224.1 492.9 222.5C493.6 220.9 494.6 219.3 495.9 218.3C497.2 217.3 498.9 216.6 500.8 216.6C502.7 216.6 505.4 217.4 507.4 218.3C509.4 219.2 511.3 220.7 513 222C514.7 223.3 516.3 224.6 517.4 226C518.5 227.4 519.4 229.1 519.6 230.5C519.8 231.9 519.3 233.3 518.7 234.5C518 235.7 516.9 236.8 515.7 237.4C514.5 238 512.3 237.4 511.7 238.2C511.1 239 512 240.7 511.9 242C511.8 243.3 511.5 244.7 511 246C510.5 247.3 510.4 248.5 509 249.6C507.6 250.7 505 251.7 502.4 252.8C499.8 253.9 496.2 255.1 493.4 256.2C490.6 257.3 487.3 258.5 485.4 259.2C483.4 259.9 482.3 260.3 481.7 260.5" fill="none" stroke="#7c6d62" stroke-width="5" opacity="0.5" filter="url(#b15)"/><path d="M489.9 234.7C491.1 234.1 494.9 231.8 497.4 231C499.9 230.2 502.9 229.6 504.9 229.8C506.9 230 508.3 230.6 509.4 232C510.5 233.4 511.3 237.2 511.7 238.2" fill="none" stroke="#7c6d62" stroke-width="3" opacity="0.5" filter="url(#b1)" transform="translate(0,1.8)"/><path d="M489.9 234.7C491.1 234.1 494.9 231.8 497.4 231C499.9 230.2 502.9 229.6 504.9 229.8C506.9 230 508.3 230.6 509.4 232C510.5 233.4 511.3 237.2 511.7 238.2" fill="none" stroke="#ebe6df" stroke-width="2.4" opacity="0.6" filter="url(#b1)" transform="translate(-1,7)"/></g></g><path d="M482.4 235C483.4 234.6 486.8 233.7 488.4 232.5C489.9 231.3 490.9 229.7 491.7 228C492.4 226.3 492.2 224.1 492.9 222.5C493.6 220.9 494.6 219.3 495.9 218.3C497.2 217.3 498.9 216.6 500.8 216.6C502.7 216.6 505.4 217.4 507.4 218.3C509.4 219.2 511.3 220.7 513 222C514.7 223.3 516.3 224.6 517.4 226C518.5 227.4 519.4 229.1 519.6 230.5C519.8 231.9 519.3 233.3 518.7 234.5C518 235.7 516.9 236.8 515.7 237.4C514.5 238 512.3 237.4 511.7 238.2C511.1 239 512 240.7 511.9 242C511.8 243.3 511.5 244.7 511 246C510.5 247.3 510.4 248.5 509 249.6C507.6 250.7 505 251.7 502.4 252.8C499.8 253.9 496.2 255.1 493.4 256.2C490.6 257.3 487.3 258.5 485.4 259.2C483.4 259.9 482.3 260.3 481.7 260.5" fill="none" stroke="#5d4936" stroke-width="0.9" stroke-linecap="round" stroke-linejoin="round"/><path d="M489.9 234.7C491.1 234.1 494.9 231.8 497.4 231C499.9 230.2 502.9 229.6 504.9 229.8C506.9 230 508.3 230.6 509.4 232C510.5 233.4 511.3 237.2 511.7 238.2" fill="none" stroke="#5d4936" stroke-width="0.8" stroke-linecap="round"/><ellipse cx="502.8" cy="224.6" rx="6" ry="4.5" fill="#eee9e2" opacity="0.7" filter="url(#b15)"/></g></defs>
<g id="spine1"><clipPath id="p28"><path d="M160.2 290.8C161.9 289.9 163 289.1 165.2 289.3C167.4 289.5 170.2 290.9 173.2 291.8C176.2 292.7 180.2 293.8 183.2 294.8C186.2 295.8 188.9 296.5 191.2 297.8C193.5 299.1 195.8 300.8 197.2 302.8C198.6 304.8 199.4 306.1 199.7 309.8C200 313.5 199.2 324.8 199.2 324.8C199.2 324.8 143.2 324.8 143.2 324.8C143.2 324.8 146.2 309.8 148.2 304.8C150.2 299.8 153.2 297.1 155.2 294.8C157.2 292.5 158.5 291.7 160.2 290.8Z"/></clipPath><path d="M160.2 290.8C161.9 289.9 163 289.1 165.2 289.3C167.4 289.5 170.2 290.9 173.2 291.8C176.2 292.7 180.2 293.8 183.2 294.8C186.2 295.8 188.9 296.5 191.2 297.8C193.5 299.1 195.8 300.8 197.2 302.8C198.6 304.8 199.4 306.1 199.7 309.8C200 313.5 199.2 324.8 199.2 324.8C199.2 324.8 143.2 324.8 143.2 324.8C143.2 324.8 146.2 309.8 148.2 304.8C150.2 299.8 153.2 297.1 155.2 294.8C157.2 292.5 158.5 291.7 160.2 290.8Z" fill="url(#gSpin)"/><g clip-path="url(#p28)"><path d="M160.2 290.8C161.9 289.9 163 289.1 165.2 289.3C167.4 289.5 170.2 290.9 173.2 291.8C176.2 292.7 180.2 293.8 183.2 294.8C186.2 295.8 188.9 296.5 191.2 297.8C193.5 299.1 195.8 300.8 197.2 302.8C198.6 304.8 199.4 306.1 199.7 309.8C200 313.5 199.2 324.8 199.2 324.8C199.2 324.8 143.2 324.8 143.2 324.8C143.2 324.8 146.2 309.8 148.2 304.8C150.2 299.8 153.2 297.1 155.2 294.8C157.2 292.5 158.5 291.7 160.2 290.8Z" fill="none" stroke="#7c6d62" stroke-width="5" opacity="0.5" filter="url(#b15)"/></g><path d="M160.2 290.8C161.9 289.9 163 289.1 165.2 289.3C167.4 289.5 170.2 290.9 173.2 291.8C176.2 292.7 180.2 293.8 183.2 294.8C186.2 295.8 188.9 296.5 191.2 297.8C193.5 299.1 195.8 300.8 197.2 302.8C198.6 304.8 199.4 306.1 199.7 309.8C200 313.5 199.2 324.8 199.2 324.8C199.2 324.8 143.2 324.8 143.2 324.8C143.2 324.8 146.2 309.8 148.2 304.8C150.2 299.8 153.2 297.1 155.2 294.8C157.2 292.5 158.5 291.7 160.2 290.8Z" fill="none" stroke="#5d4936" stroke-width="0.9" stroke-linejoin="round"/><clipPath id="p29"><path d="M129.2 226.8C129.2 226.8 151.2 227.8 155.2 230.8C159.2 233.8 153.5 240.5 153.2 244.8C152.9 249.1 152 253.8 153.2 256.8C154.4 259.8 157.7 259.8 160.2 262.8C162.7 265.8 167.4 270.1 168.2 274.8C169 279.5 169.4 287.5 165.2 290.8C161 294.1 149.2 294.8 143.2 294.8C137.2 294.8 129.2 290.8 129.2 290.8C129.2 290.8 129.2 226.8 129.2 226.8Z"/></clipPath><path d="M129.2 226.8C129.2 226.8 151.2 227.8 155.2 230.8C159.2 233.8 153.5 240.5 153.2 244.8C152.9 249.1 152 253.8 153.2 256.8C154.4 259.8 157.7 259.8 160.2 262.8C162.7 265.8 167.4 270.1 168.2 274.8C169 279.5 169.4 287.5 165.2 290.8C161 294.1 149.2 294.8 143.2 294.8C137.2 294.8 129.2 290.8 129.2 290.8C129.2 290.8 129.2 226.8 129.2 226.8Z" fill="#a1968b"/><g clip-path="url(#p29)"><path d="M129.2 226.8C129.2 226.8 151.2 227.8 155.2 230.8C159.2 233.8 153.5 240.5 153.2 244.8C152.9 249.1 152 253.8 153.2 256.8C154.4 259.8 157.7 259.8 160.2 262.8C162.7 265.8 167.4 270.1 168.2 274.8C169 279.5 169.4 287.5 165.2 290.8C161 294.1 149.2 294.8 143.2 294.8C137.2 294.8 129.2 290.8 129.2 290.8C129.2 290.8 129.2 226.8 129.2 226.8Z" fill="none" stroke="#7c6d62" stroke-width="5" opacity="0.45" filter="url(#b15)"/></g><clipPath id="p30"><path d="M152.2 243.8C154.3 242.5 158.9 241.8 163.2 241.8C167.5 241.8 174.4 242.3 178.2 243.8C181.9 245.3 184.2 248 185.7 250.8C187.2 253.6 187.6 257 187.2 260.8C186.8 264.6 185.4 270.6 183.2 273.8C181 277 176.7 279 174.2 279.8C171.7 280.6 169.6 280.5 168.2 278.8C166.8 277.1 167 272.3 165.7 269.8C164.4 267.3 162.1 265.6 160.2 263.8C158.3 262 155.8 261.1 154.2 258.8C152.6 256.5 151 252.3 150.7 249.8C150.4 247.3 150.1 245.1 152.2 243.8Z"/></clipPath><path d="M152.2 243.8C154.3 242.5 158.9 241.8 163.2 241.8C167.5 241.8 174.4 242.3 178.2 243.8C181.9 245.3 184.2 248 185.7 250.8C187.2 253.6 187.6 257 187.2 260.8C186.8 264.6 185.4 270.6 183.2 273.8C181 277 176.7 279 174.2 279.8C171.7 280.6 169.6 280.5 168.2 278.8C166.8 277.1 167 272.3 165.7 269.8C164.4 267.3 162.1 265.6 160.2 263.8C158.3 262 155.8 261.1 154.2 258.8C152.6 256.5 151 252.3 150.7 249.8C150.4 247.3 150.1 245.1 152.2 243.8Z" fill="url(#gSpin)"/><g clip-path="url(#p30)"><path d="M152.2 243.8C154.3 242.5 158.9 241.8 163.2 241.8C167.5 241.8 174.4 242.3 178.2 243.8C181.9 245.3 184.2 248 185.7 250.8C187.2 253.6 187.6 257 187.2 260.8C186.8 264.6 185.4 270.6 183.2 273.8C181 277 176.7 279 174.2 279.8C171.7 280.6 169.6 280.5 168.2 278.8C166.8 277.1 167 272.3 165.7 269.8C164.4 267.3 162.1 265.6 160.2 263.8C158.3 262 155.8 261.1 154.2 258.8C152.6 256.5 151 252.3 150.7 249.8C150.4 247.3 150.1 245.1 152.2 243.8Z" fill="none" stroke="#7c6d62" stroke-width="5" opacity="0.5" filter="url(#b15)"/></g><path d="M152.2 243.8C154.3 242.5 158.9 241.8 163.2 241.8C167.5 241.8 174.4 242.3 178.2 243.8C181.9 245.3 184.2 248 185.7 250.8C187.2 253.6 187.6 257 187.2 260.8C186.8 264.6 185.4 270.6 183.2 273.8C181 277 176.7 279 174.2 279.8C171.7 280.6 169.6 280.5 168.2 278.8C166.8 277.1 167 272.3 165.7 269.8C164.4 267.3 162.1 265.6 160.2 263.8C158.3 262 155.8 261.1 154.2 258.8C152.6 256.5 151 252.3 150.7 249.8C150.4 247.3 150.1 245.1 152.2 243.8Z" fill="none" stroke="#5d4936" stroke-width="0.9" stroke-linejoin="round"/><ellipse cx="171.6" cy="255.6" rx="9" ry="8" fill="#e0d9d0" opacity="0.38" filter="url(#b3)" transform="rotate(0 171.6 255.6)"/><clipPath id="p31"><path d="M127.5 176.5C127.5 176.5 149.7 175.5 153.5 178.5C157.3 181.5 151.2 189.5 150.5 194.5C149.8 199.5 149 204.2 149.5 208.5C150 212.8 152.5 216.2 153.5 220.5C154.5 224.8 157.5 230.5 155.5 234.5C153.5 238.5 146.2 242.8 141.5 244.5C136.8 246.2 127.5 244.5 127.5 244.5C127.5 244.5 127.5 176.5 127.5 176.5Z"/></clipPath><path d="M127.5 176.5C127.5 176.5 149.7 175.5 153.5 178.5C157.3 181.5 151.2 189.5 150.5 194.5C149.8 199.5 149 204.2 149.5 208.5C150 212.8 152.5 216.2 153.5 220.5C154.5 224.8 157.5 230.5 155.5 234.5C153.5 238.5 146.2 242.8 141.5 244.5C136.8 246.2 127.5 244.5 127.5 244.5C127.5 244.5 127.5 176.5 127.5 176.5Z" fill="#a1968b"/><g clip-path="url(#p31)"><path d="M127.5 176.5C127.5 176.5 149.7 175.5 153.5 178.5C157.3 181.5 151.2 189.5 150.5 194.5C149.8 199.5 149 204.2 149.5 208.5C150 212.8 152.5 216.2 153.5 220.5C154.5 224.8 157.5 230.5 155.5 234.5C153.5 238.5 146.2 242.8 141.5 244.5C136.8 246.2 127.5 244.5 127.5 244.5C127.5 244.5 127.5 176.5 127.5 176.5Z" fill="none" stroke="#7c6d62" stroke-width="5" opacity="0.45" filter="url(#b15)"/></g><clipPath id="p32"><path d="M151.8 193.8C154.2 192.6 159.1 193.1 163 193.3C166.9 193.5 172 194.2 175.4 195C178.8 195.8 180.8 196.3 183.3 197.8C185.8 199.3 188.7 201.8 190.2 204C191.7 206.2 192.2 208.7 192.2 211C192.2 213.3 191.3 215.8 190.2 218C189.1 220.2 186.8 221.9 185.5 224.5C184.2 227.1 184.1 231.6 182.4 233.6C180.7 235.6 178 236.8 175.4 236.5C172.8 236.2 169.6 234.5 166.7 232C163.8 229.5 160.9 225.2 158 221.4C155.1 217.6 150.7 212.7 149.2 209.2C147.7 205.7 148.4 203.1 148.8 200.5C149.2 197.9 149.4 195 151.8 193.8Z"/></clipPath><path d="M151.8 193.8C154.2 192.6 159.1 193.1 163 193.3C166.9 193.5 172 194.2 175.4 195C178.8 195.8 180.8 196.3 183.3 197.8C185.8 199.3 188.7 201.8 190.2 204C191.7 206.2 192.2 208.7 192.2 211C192.2 213.3 191.3 215.8 190.2 218C189.1 220.2 186.8 221.9 185.5 224.5C184.2 227.1 184.1 231.6 182.4 233.6C180.7 235.6 178 236.8 175.4 236.5C172.8 236.2 169.6 234.5 166.7 232C163.8 229.5 160.9 225.2 158 221.4C155.1 217.6 150.7 212.7 149.2 209.2C147.7 205.7 148.4 203.1 148.8 200.5C149.2 197.9 149.4 195 151.8 193.8Z" fill="url(#gSpin)"/><g clip-path="url(#p32)"><path d="M151.8 193.8C154.2 192.6 159.1 193.1 163 193.3C166.9 193.5 172 194.2 175.4 195C178.8 195.8 180.8 196.3 183.3 197.8C185.8 199.3 188.7 201.8 190.2 204C191.7 206.2 192.2 208.7 192.2 211C192.2 213.3 191.3 215.8 190.2 218C189.1 220.2 186.8 221.9 185.5 224.5C184.2 227.1 184.1 231.6 182.4 233.6C180.7 235.6 178 236.8 175.4 236.5C172.8 236.2 169.6 234.5 166.7 232C163.8 229.5 160.9 225.2 158 221.4C155.1 217.6 150.7 212.7 149.2 209.2C147.7 205.7 148.4 203.1 148.8 200.5C149.2 197.9 149.4 195 151.8 193.8Z" fill="none" stroke="#7c6d62" stroke-width="5" opacity="0.5" filter="url(#b15)"/></g><path d="M151.8 193.8C154.2 192.6 159.1 193.1 163 193.3C166.9 193.5 172 194.2 175.4 195C178.8 195.8 180.8 196.3 183.3 197.8C185.8 199.3 188.7 201.8 190.2 204C191.7 206.2 192.2 208.7 192.2 211C192.2 213.3 191.3 215.8 190.2 218C189.1 220.2 186.8 221.9 185.5 224.5C184.2 227.1 184.1 231.6 182.4 233.6C180.7 235.6 178 236.8 175.4 236.5C172.8 236.2 169.6 234.5 166.7 232C163.8 229.5 160.9 225.2 158 221.4C155.1 217.6 150.7 212.7 149.2 209.2C147.7 205.7 148.4 203.1 148.8 200.5C149.2 197.9 149.4 195 151.8 193.8Z" fill="none" stroke="#5d4936" stroke-width="0.9" stroke-linejoin="round"/><ellipse cx="175.3" cy="208.2" rx="9" ry="8" fill="#e0d9d0" opacity="0.38" filter="url(#b3)" transform="rotate(0 175.3 208.2)"/><clipPath id="p33"><path d="M119.2 132.3C119.2 132.3 142.2 127.4 147.1 129.6C152.1 131.8 148.5 140.6 148.8 145.6C149.1 150.6 148.6 155.4 149.1 159.7C149.7 164 150.9 167.3 152.1 171.4C153.3 175.4 157.4 178.9 156.2 183.9C155 188.8 149.1 197.7 144.9 201C140.7 204.2 131.1 203.3 131.1 203.3C131.1 203.3 119.2 132.3 119.2 132.3Z"/></clipPath><path d="M119.2 132.3C119.2 132.3 142.2 127.4 147.1 129.6C152.1 131.8 148.5 140.6 148.8 145.6C149.1 150.6 148.6 155.4 149.1 159.7C149.7 164 150.9 167.3 152.1 171.4C153.3 175.4 157.4 178.9 156.2 183.9C155 188.8 149.1 197.7 144.9 201C140.7 204.2 131.1 203.3 131.1 203.3C131.1 203.3 119.2 132.3 119.2 132.3Z" fill="#a1968b"/><g clip-path="url(#p33)"><path d="M119.2 132.3C119.2 132.3 142.2 127.4 147.1 129.6C152.1 131.8 148.5 140.6 148.8 145.6C149.1 150.6 148.6 155.4 149.1 159.7C149.7 164 150.9 167.3 152.1 171.4C153.3 175.4 157.4 178.9 156.2 183.9C155 188.8 149.1 197.7 144.9 201C140.7 204.2 131.1 203.3 131.1 203.3C131.1 203.3 119.2 132.3 119.2 132.3Z" fill="none" stroke="#7c6d62" stroke-width="5" opacity="0.45" filter="url(#b15)"/></g><clipPath id="p34"><path d="M140 142.5C141 141.2 144.6 141.9 147.5 141.9C150.4 141.9 154.6 142.7 157.5 142.5C160.4 142.3 162.7 141.3 165 140.6C167.3 139.9 169.2 138.1 171.2 138.1C173.3 138.1 175.4 138.8 177.5 140.6C179.6 142.4 182.3 145.7 183.8 148.8C185.2 151.8 186.1 155.5 186.2 158.8C186.4 162 185.4 165 184.5 168C183.6 171 182.3 174.8 181 177C179.7 179.2 178.3 181 176.5 181.5C174.7 182 172.2 180.8 170 180C167.8 179.2 165.1 177.8 163 176.5C160.9 175.2 159 174.2 157.5 172.5C156 170.8 155.6 168.5 153.8 166.2C151.9 164 148.3 161.5 146.2 158.8C144.2 156 142.3 152.7 141.2 150C140.2 147.3 139 143.8 140 142.5Z"/></clipPath><path d="M140 142.5C141 141.2 144.6 141.9 147.5 141.9C150.4 141.9 154.6 142.7 157.5 142.5C160.4 142.3 162.7 141.3 165 140.6C167.3 139.9 169.2 138.1 171.2 138.1C173.3 138.1 175.4 138.8 177.5 140.6C179.6 142.4 182.3 145.7 183.8 148.8C185.2 151.8 186.1 155.5 186.2 158.8C186.4 162 185.4 165 184.5 168C183.6 171 182.3 174.8 181 177C179.7 179.2 178.3 181 176.5 181.5C174.7 182 172.2 180.8 170 180C167.8 179.2 165.1 177.8 163 176.5C160.9 175.2 159 174.2 157.5 172.5C156 170.8 155.6 168.5 153.8 166.2C151.9 164 148.3 161.5 146.2 158.8C144.2 156 142.3 152.7 141.2 150C140.2 147.3 139 143.8 140 142.5Z" fill="url(#gSpin)"/><g clip-path="url(#p34)"><path d="M140 142.5C141 141.2 144.6 141.9 147.5 141.9C150.4 141.9 154.6 142.7 157.5 142.5C160.4 142.3 162.7 141.3 165 140.6C167.3 139.9 169.2 138.1 171.2 138.1C173.3 138.1 175.4 138.8 177.5 140.6C179.6 142.4 182.3 145.7 183.8 148.8C185.2 151.8 186.1 155.5 186.2 158.8C186.4 162 185.4 165 184.5 168C183.6 171 182.3 174.8 181 177C179.7 179.2 178.3 181 176.5 181.5C174.7 182 172.2 180.8 170 180C167.8 179.2 165.1 177.8 163 176.5C160.9 175.2 159 174.2 157.5 172.5C156 170.8 155.6 168.5 153.8 166.2C151.9 164 148.3 161.5 146.2 158.8C144.2 156 142.3 152.7 141.2 150C140.2 147.3 139 143.8 140 142.5Z" fill="none" stroke="#7c6d62" stroke-width="5" opacity="0.5" filter="url(#b15)"/></g><path d="M140 142.5C141 141.2 144.6 141.9 147.5 141.9C150.4 141.9 154.6 142.7 157.5 142.5C160.4 142.3 162.7 141.3 165 140.6C167.3 139.9 169.2 138.1 171.2 138.1C173.3 138.1 175.4 138.8 177.5 140.6C179.6 142.4 182.3 145.7 183.8 148.8C185.2 151.8 186.1 155.5 186.2 158.8C186.4 162 185.4 165 184.5 168C183.6 171 182.3 174.8 181 177C179.7 179.2 178.3 181 176.5 181.5C174.7 182 172.2 180.8 170 180C167.8 179.2 165.1 177.8 163 176.5C160.9 175.2 159 174.2 157.5 172.5C156 170.8 155.6 168.5 153.8 166.2C151.9 164 148.3 161.5 146.2 158.8C144.2 156 142.3 152.7 141.2 150C140.2 147.3 139 143.8 140 142.5Z" fill="none" stroke="#5d4936" stroke-width="0.9" stroke-linejoin="round"/><ellipse cx="167.9" cy="153.9" rx="9" ry="8" fill="#e0d9d0" opacity="0.38" filter="url(#b3)" transform="rotate(0 167.9 153.9)"/><clipPath id="p35"><path d="M106.9 74.7C106.9 74.7 143.2 67.7 143.2 67.7C143.2 67.7 144.5 90.9 145 97.9C145.5 104.9 145.7 105.9 146.3 109.9C146.9 113.8 148.5 116.9 148.6 121.6C148.6 126.4 148.8 133.5 146.7 138.3C144.6 143.1 140 148.1 135.9 150.6C131.8 153.1 122.1 153.3 122.1 153.3C122.1 153.3 106.9 74.7 106.9 74.7Z"/></clipPath><path d="M106.9 74.7C106.9 74.7 143.2 67.7 143.2 67.7C143.2 67.7 144.5 90.9 145 97.9C145.5 104.9 145.7 105.9 146.3 109.9C146.9 113.8 148.5 116.9 148.6 121.6C148.6 126.4 148.8 133.5 146.7 138.3C144.6 143.1 140 148.1 135.9 150.6C131.8 153.1 122.1 153.3 122.1 153.3C122.1 153.3 106.9 74.7 106.9 74.7Z" fill="#a1968b"/><g clip-path="url(#p35)"><path d="M106.9 74.7C106.9 74.7 143.2 67.7 143.2 67.7C143.2 67.7 144.5 90.9 145 97.9C145.5 104.9 145.7 105.9 146.3 109.9C146.9 113.8 148.5 116.9 148.6 121.6C148.6 126.4 148.8 133.5 146.7 138.3C144.6 143.1 140 148.1 135.9 150.6C131.8 153.1 122.1 153.3 122.1 153.3C122.1 153.3 106.9 74.7 106.9 74.7Z" fill="none" stroke="#7c6d62" stroke-width="5" opacity="0.45" filter="url(#b15)"/></g><clipPath id="p36"><path d="M134.4 93.8C135.9 92.8 139.1 92.4 142.5 91.9C145.9 91.4 151.5 91.2 155 90.6C158.5 90 161.2 88.1 163.8 88.1C166.2 88.1 168.3 88.6 170 90.6C171.7 92.6 172.9 97 173.8 100C174.6 103 175.2 105.6 175 108.8C174.8 111.9 173.5 115.6 172.5 118.8C171.5 121.9 170 125.9 168.8 127.5C167.5 129.1 166.9 128.8 165 128.2C163.1 127.6 160 125.7 157.5 123.8C155 121.8 152.5 118.5 150 116.2C147.5 114 145 112.3 142.5 110C140 107.7 136.5 104.6 135 102.5C133.5 100.4 133.6 99 133.5 97.5C133.4 96 132.9 94.7 134.4 93.8Z"/></clipPath><path d="M134.4 93.8C135.9 92.8 139.1 92.4 142.5 91.9C145.9 91.4 151.5 91.2 155 90.6C158.5 90 161.2 88.1 163.8 88.1C166.2 88.1 168.3 88.6 170 90.6C171.7 92.6 172.9 97 173.8 100C174.6 103 175.2 105.6 175 108.8C174.8 111.9 173.5 115.6 172.5 118.8C171.5 121.9 170 125.9 168.8 127.5C167.5 129.1 166.9 128.8 165 128.2C163.1 127.6 160 125.7 157.5 123.8C155 121.8 152.5 118.5 150 116.2C147.5 114 145 112.3 142.5 110C140 107.7 136.5 104.6 135 102.5C133.5 100.4 133.6 99 133.5 97.5C133.4 96 132.9 94.7 134.4 93.8Z" fill="url(#gSpin)"/><g clip-path="url(#p36)"><path d="M134.4 93.8C135.9 92.8 139.1 92.4 142.5 91.9C145.9 91.4 151.5 91.2 155 90.6C158.5 90 161.2 88.1 163.8 88.1C166.2 88.1 168.3 88.6 170 90.6C171.7 92.6 172.9 97 173.8 100C174.6 103 175.2 105.6 175 108.8C174.8 111.9 173.5 115.6 172.5 118.8C171.5 121.9 170 125.9 168.8 127.5C167.5 129.1 166.9 128.8 165 128.2C163.1 127.6 160 125.7 157.5 123.8C155 121.8 152.5 118.5 150 116.2C147.5 114 145 112.3 142.5 110C140 107.7 136.5 104.6 135 102.5C133.5 100.4 133.6 99 133.5 97.5C133.4 96 132.9 94.7 134.4 93.8Z" fill="none" stroke="#7c6d62" stroke-width="5" opacity="0.5" filter="url(#b15)"/></g><path d="M134.4 93.8C135.9 92.8 139.1 92.4 142.5 91.9C145.9 91.4 151.5 91.2 155 90.6C158.5 90 161.2 88.1 163.8 88.1C166.2 88.1 168.3 88.6 170 90.6C171.7 92.6 172.9 97 173.8 100C174.6 103 175.2 105.6 175 108.8C174.8 111.9 173.5 115.6 172.5 118.8C171.5 121.9 170 125.9 168.8 127.5C167.5 129.1 166.9 128.8 165 128.2C163.1 127.6 160 125.7 157.5 123.8C155 121.8 152.5 118.5 150 116.2C147.5 114 145 112.3 142.5 110C140 107.7 136.5 104.6 135 102.5C133.5 100.4 133.6 99 133.5 97.5C133.4 96 132.9 94.7 134.4 93.8Z" fill="none" stroke="#5d4936" stroke-width="0.9" stroke-linejoin="round"/><ellipse cx="158.9" cy="101.9" rx="9" ry="8" fill="#e0d9d0" opacity="0.38" filter="url(#b3)" transform="rotate(0 158.9 101.9)"/><ellipse cx="131" cy="100.8" rx="3.600" ry="5.500" fill="#7f7268" opacity="0.55" filter="url(#b1)"/><clipPath id="p37"><path d="M140.2 264.3C140.6 262.4 141.8 262 142.7 261.3C143.6 260.6 144.4 260.1 145.7 260C147 259.9 149 260.2 150.7 260.6C152.4 261 154 261.8 155.7 262.6C157.4 263.4 159.2 264.6 160.7 265.6C162.2 266.6 163.7 267.4 164.7 268.8C165.7 270.2 166.3 272 166.7 273.8C167 275.6 167 277.6 166.8 279.8C166.6 282 166.5 284.8 165.7 286.8C164.9 288.8 163.9 290.8 162.2 291.8C160.4 292.8 157.5 293.5 155.2 292.8C152.9 292.1 150.2 289.8 148.2 287.8C146.2 285.8 144.5 283.3 143.2 280.8C141.9 278.3 140.7 275.6 140.2 272.8C139.7 270.1 139.8 266.2 140.2 264.3Z"/></clipPath><path d="M140.2 264.3C140.6 262.4 141.8 262 142.7 261.3C143.6 260.6 144.4 260.1 145.7 260C147 259.9 149 260.2 150.7 260.6C152.4 261 154 261.8 155.7 262.6C157.4 263.4 159.2 264.6 160.7 265.6C162.2 266.6 163.7 267.4 164.7 268.8C165.7 270.2 166.3 272 166.7 273.8C167 275.6 167 277.6 166.8 279.8C166.6 282 166.5 284.8 165.7 286.8C164.9 288.8 163.9 290.8 162.2 291.8C160.4 292.8 157.5 293.5 155.2 292.8C152.9 292.1 150.2 289.8 148.2 287.8C146.2 285.8 144.5 283.3 143.2 280.8C141.9 278.3 140.7 275.6 140.2 272.8C139.7 270.1 139.8 266.2 140.2 264.3Z" fill="url(#gKnob)"/><g clip-path="url(#p37)"><path d="M140.2 264.3C140.6 262.4 141.8 262 142.7 261.3C143.6 260.6 144.4 260.1 145.7 260C147 259.9 149 260.2 150.7 260.6C152.4 261 154 261.8 155.7 262.6C157.4 263.4 159.2 264.6 160.7 265.6C162.2 266.6 163.7 267.4 164.7 268.8C165.7 270.2 166.3 272 166.7 273.8C167 275.6 167 277.6 166.8 279.8C166.6 282 166.5 284.8 165.7 286.8C164.9 288.8 163.9 290.8 162.2 291.8C160.4 292.8 157.5 293.5 155.2 292.8C152.9 292.1 150.2 289.8 148.2 287.8C146.2 285.8 144.5 283.3 143.2 280.8C141.9 278.3 140.7 275.6 140.2 272.8C139.7 270.1 139.8 266.2 140.2 264.3Z" fill="none" stroke="#7c6d62" stroke-width="5" opacity="0.5" filter="url(#b15)"/></g><path d="M140.2 264.3C140.6 262.4 141.8 262 142.7 261.3C143.6 260.6 144.4 260.1 145.7 260C147 259.9 149 260.2 150.7 260.6C152.4 261 154 261.8 155.7 262.6C157.4 263.4 159.2 264.6 160.7 265.6C162.2 266.6 163.7 267.4 164.7 268.8C165.7 270.2 166.3 272 166.7 273.8C167 275.6 167 277.6 166.8 279.8C166.6 282 166.5 284.8 165.7 286.8C164.9 288.8 163.9 290.8 162.2 291.8C160.4 292.8 157.5 293.5 155.2 292.8C152.9 292.1 150.2 289.8 148.2 287.8C146.2 285.8 144.5 283.3 143.2 280.8C141.9 278.3 140.7 275.6 140.2 272.8C139.7 270.1 139.8 266.2 140.2 264.3Z" fill="none" stroke="#5d4936" stroke-width="0.9" stroke-linejoin="round"/><clipPath id="p38"><path d="M55.6 84.7C55.6 84.7 60.6 107.7 61.3 114.2C62 120.6 60.1 120.8 59.9 123.3C59.6 125.9 59.7 129.6 59.7 129.6C59.7 129.6 70.6 129 76.6 128.5C82.5 128 89.3 127.6 95.5 126.6C101.8 125.6 113.9 122.3 113.9 122.3C113.9 122.3 113 117.4 113.1 115.3C113.3 113.2 112.9 111.4 114.7 109.9C116.5 108.3 121.4 107.6 124.1 106C126.9 104.5 129.2 103 131.2 100.6C133.3 98.1 135.6 96.7 136.6 91.4C137.6 86.1 137.3 68.8 137.3 68.8C137.3 68.8 55.6 84.7 55.6 84.7Z"/></clipPath><path d="M55.6 84.7C55.6 84.7 60.6 107.7 61.3 114.2C62 120.6 60.1 120.8 59.9 123.3C59.6 125.9 59.7 129.6 59.7 129.6C59.7 129.6 70.6 129 76.6 128.5C82.5 128 89.3 127.6 95.5 126.6C101.8 125.6 113.9 122.3 113.9 122.3C113.9 122.3 113 117.4 113.1 115.3C113.3 113.2 112.9 111.4 114.7 109.9C116.5 108.3 121.4 107.6 124.1 106C126.9 104.5 129.2 103 131.2 100.6C133.3 98.1 135.6 96.7 136.6 91.4C137.6 86.1 137.3 68.8 137.3 68.8C137.3 68.8 55.6 84.7 55.6 84.7Z" fill="url(#gBody)"/><g clip-path="url(#p38)"><path d="M55.6 84.7C55.6 84.7 60.6 107.7 61.3 114.2C62 120.6 60.1 120.8 59.9 123.3C59.6 125.9 59.7 129.6 59.7 129.6C59.7 129.6 70.6 129 76.6 128.5C82.5 128 89.3 127.6 95.5 126.6C101.8 125.6 113.9 122.3 113.9 122.3C113.9 122.3 113 117.4 113.1 115.3C113.3 113.2 112.9 111.4 114.7 109.9C116.5 108.3 121.4 107.6 124.1 106C126.9 104.5 129.2 103 131.2 100.6C133.3 98.1 135.6 96.7 136.6 91.4C137.6 86.1 137.3 68.8 137.3 68.8C137.3 68.8 55.6 84.7 55.6 84.7Z" fill="none" stroke="#7c6d62" stroke-width="5.5" opacity="0.5" filter="url(#b2)"/><ellipse cx="69.1" cy="100.2" rx="2.6" ry="21.1" fill="#86786d" opacity="0.24" filter="url(#b2)" transform="rotate(6 69.1 100.2)"/><ellipse cx="78.2" cy="97.2" rx="3.2" ry="23.7" fill="#86786d" opacity="0.34" filter="url(#b2)" transform="rotate(3 78.2 97.2)"/><ellipse cx="85.3" cy="96.2" rx="2.6" ry="19.8" fill="#86786d" opacity="0.3" filter="url(#b2)" transform="rotate(-2 85.3 96.2)"/><ellipse cx="91.2" cy="99.2" rx="2.2" ry="22.4" fill="#86786d" opacity="0.2" filter="url(#b2)" transform="rotate(-5 91.2 99.2)"/><ellipse cx="97.7" cy="98.2" rx="2.8" ry="21.1" fill="#86786d" opacity="0.24" filter="url(#b2)" transform="rotate(-8 97.7 98.2)"/><ellipse cx="64.2" cy="102.2" rx="1.8" ry="22.4" fill="#e6e0d8" opacity="0.4" filter="url(#b15)"/><ellipse cx="73.9" cy="103.2" rx="1.8" ry="22.4" fill="#e6e0d8" opacity="0.3" filter="url(#b15)"/><ellipse cx="82" cy="105.2" rx="1.8" ry="22.4" fill="#e6e0d8" opacity="0.2" filter="url(#b15)"/><ellipse cx="88.5" cy="104.2" rx="1.8" ry="22.4" fill="#e6e0d8" opacity="0.22" filter="url(#b15)"/><ellipse cx="94.4" cy="103.2" rx="1.8" ry="22.4" fill="#e6e0d8" opacity="0.25" filter="url(#b15)"/><ellipse cx="103.1" cy="102.2" rx="1.8" ry="22.4" fill="#e6e0d8" opacity="0.3" filter="url(#b15)"/><ellipse cx="84.6" cy="78.8" rx="15" ry="5" fill="#84766b" opacity="0.3" filter="url(#b3)"/><ellipse cx="76.6" cy="118.6" rx="16" ry="5" fill="#ddd6cd" opacity="0.4" filter="url(#b3)"/><path d="M59.7 129.6C59.7 129.6 70.6 129 76.6 128.5C82.5 128 89.3 127.6 95.5 126.6C101.8 125.6 113.9 122.3 113.9 122.3" fill="none" stroke="#7c6d62" stroke-width="3" opacity="0.35" filter="url(#b1)" transform="translate(0,-4.5)"/><path d="M59.7 129.6C59.7 129.6 70.6 129 76.6 128.5C82.5 128 89.3 127.6 95.5 126.6C101.8 125.6 113.9 122.3 113.9 122.3" fill="none" stroke="#e2dcd3" stroke-width="1.5" opacity="0.55" filter="url(#b05)" transform="translate(0,-1.8)"/></g><path d="M55.6 84.7C55.6 84.7 60.6 107.7 61.3 114.2C62 120.6 60.1 120.8 59.9 123.3C59.6 125.9 59.7 129.6 59.7 129.6C59.7 129.6 70.6 129 76.6 128.5C82.5 128 89.3 127.6 95.5 126.6C101.8 125.6 113.9 122.3 113.9 122.3C113.9 122.3 113 117.4 113.1 115.3C113.3 113.2 114.4 110.8 114.7 109.9" fill="none" stroke="#5d4936" stroke-width="0.9" stroke-linejoin="round" stroke-linecap="round"/><clipPath id="p39"><path d="M61.2 140.2C61.2 140.2 73.5 139.2 79.7 138.4C85.9 137.6 92.2 136.6 98.4 135.2C104.6 133.9 116.8 130.2 116.8 130.2C116.8 130.2 118.3 133 118.7 135.4C119.1 137.8 118.9 140.3 119.2 144.4C119.5 148.6 120.2 156.9 120.4 160.5C120.5 164 119.6 163.6 119.9 165.6C120.3 167.6 122.5 172.5 122.5 172.5C122.5 172.5 111.5 176.5 105.5 177.8C99.5 179 93.3 179.2 86.6 179.7C79.8 180.2 65 180.8 65 180.8C65 180.8 64 179.8 64.3 177.7C64.7 175.6 66.6 172 67.2 168.3C67.7 164.7 68.1 159.3 67.6 155.6C67.1 151.9 65.2 148.6 64.1 146.1C63 143.5 61.2 140.2 61.2 140.2Z"/></clipPath><path d="M61.2 140.2C61.2 140.2 73.5 139.2 79.7 138.4C85.9 137.6 92.2 136.6 98.4 135.2C104.6 133.9 116.8 130.2 116.8 130.2C116.8 130.2 118.3 133 118.7 135.4C119.1 137.8 118.9 140.3 119.2 144.4C119.5 148.6 120.2 156.9 120.4 160.5C120.5 164 119.6 163.6 119.9 165.6C120.3 167.6 122.5 172.5 122.5 172.5C122.5 172.5 111.5 176.5 105.5 177.8C99.5 179 93.3 179.2 86.6 179.7C79.8 180.2 65 180.8 65 180.8C65 180.8 64 179.8 64.3 177.7C64.7 175.6 66.6 172 67.2 168.3C67.7 164.7 68.1 159.3 67.6 155.6C67.1 151.9 65.2 148.6 64.1 146.1C63 143.5 61.2 140.2 61.2 140.2Z" fill="url(#gBody)"/><g clip-path="url(#p39)"><path d="M61.2 140.2C61.2 140.2 73.5 139.2 79.7 138.4C85.9 137.6 92.2 136.6 98.4 135.2C104.6 133.9 116.8 130.2 116.8 130.2C116.8 130.2 118.3 133 118.7 135.4C119.1 137.8 118.9 140.3 119.2 144.4C119.5 148.6 120.2 156.9 120.4 160.5C120.5 164 119.6 163.6 119.9 165.6C120.3 167.6 122.5 172.5 122.5 172.5C122.5 172.5 111.5 176.5 105.5 177.8C99.5 179 93.3 179.2 86.6 179.7C79.8 180.2 65 180.8 65 180.8C65 180.8 64 179.8 64.3 177.7C64.7 175.6 66.6 172 67.2 168.3C67.7 164.7 68.1 159.3 67.6 155.6C67.1 151.9 65.2 148.6 64.1 146.1C63 143.5 61.2 140.2 61.2 140.2Z" fill="none" stroke="#7c6d62" stroke-width="5.5" opacity="0.5" filter="url(#b2)"/><ellipse cx="76.5" cy="156.5" rx="2.6" ry="17" fill="#86786d" opacity="0.24" filter="url(#b2)" transform="rotate(6 76.5 156.5)"/><ellipse cx="86.9" cy="153.5" rx="3.2" ry="19.1" fill="#86786d" opacity="0.34" filter="url(#b2)" transform="rotate(3 86.9 153.5)"/><ellipse cx="94.9" cy="152.5" rx="2.6" ry="16" fill="#86786d" opacity="0.3" filter="url(#b2)" transform="rotate(-2 94.9 152.5)"/><ellipse cx="101.6" cy="155.5" rx="2.2" ry="18.1" fill="#86786d" opacity="0.2" filter="url(#b2)" transform="rotate(-5 101.6 155.5)"/><ellipse cx="109" cy="154.5" rx="2.8" ry="17" fill="#86786d" opacity="0.24" filter="url(#b2)" transform="rotate(-8 109 154.5)"/><ellipse cx="71" cy="158.5" rx="1.8" ry="17.3" fill="#e6e0d8" opacity="0.4" filter="url(#b15)"/><ellipse cx="82" cy="159.5" rx="1.8" ry="17.3" fill="#e6e0d8" opacity="0.3" filter="url(#b15)"/><ellipse cx="91.2" cy="161.5" rx="1.8" ry="17.3" fill="#e6e0d8" opacity="0.2" filter="url(#b15)"/><ellipse cx="98.6" cy="160.5" rx="1.8" ry="17.3" fill="#e6e0d8" opacity="0.22" filter="url(#b15)"/><ellipse cx="105.3" cy="159.5" rx="1.8" ry="17.3" fill="#e6e0d8" opacity="0.25" filter="url(#b15)"/><ellipse cx="115.1" cy="158.5" rx="1.8" ry="17.3" fill="#e6e0d8" opacity="0.3" filter="url(#b15)"/><ellipse cx="93.8" cy="140.2" rx="15" ry="5" fill="#84766b" opacity="0.3" filter="url(#b3)"/><ellipse cx="85.8" cy="169.8" rx="16" ry="5" fill="#ddd6cd" opacity="0.4" filter="url(#b3)"/><path d="M61.2 140.2C61.2 140.2 73.5 139.2 79.7 138.4C85.9 137.6 92.2 136.6 98.4 135.2C104.6 133.9 116.8 130.2 116.8 130.2" fill="none" stroke="#7c6d62" stroke-width="3.5" opacity="0.45" filter="url(#b1)" transform="translate(0,5)"/><path d="M61.2 140.2C61.2 140.2 73.5 139.2 79.7 138.4C85.9 137.6 92.2 136.6 98.4 135.2C104.6 133.9 116.8 130.2 116.8 130.2" fill="none" stroke="#e6e0d8" stroke-width="1.6" opacity="0.6" filter="url(#b05)" transform="translate(0,1.8)"/><path d="M122.5 172.5C122.5 172.5 111.5 176.5 105.5 177.8C99.5 179 93.3 179.2 86.6 179.7C79.8 180.2 65 180.8 65 180.8" fill="none" stroke="#7c6d62" stroke-width="3" opacity="0.35" filter="url(#b1)" transform="translate(0,-4.5)"/><path d="M122.5 172.5C122.5 172.5 111.5 176.5 105.5 177.8C99.5 179 93.3 179.2 86.6 179.7C79.8 180.2 65 180.8 65 180.8" fill="none" stroke="#e2dcd3" stroke-width="1.5" opacity="0.55" filter="url(#b05)" transform="translate(0,-1.8)"/></g><path d="M120.4 160.5C120.3 161.3 119.6 163.6 119.9 165.6C120.3 167.6 122.5 172.5 122.5 172.5C122.5 172.5 111.5 176.5 105.5 177.8C99.5 179 93.3 179.2 86.6 179.7C79.8 180.2 65 180.8 65 180.8C65 180.8 64 179.8 64.3 177.7C64.7 175.6 66.6 172 67.2 168.3C67.7 164.7 68.1 159.3 67.6 155.6C67.1 151.9 65.2 148.6 64.1 146.1C63 143.5 61.2 140.2 61.2 140.2C61.2 140.2 73.5 139.2 79.7 138.4C85.9 137.6 92.2 136.6 98.4 135.2C104.6 133.9 116.8 130.2 116.8 130.2C116.8 130.2 118.4 134.5 118.7 135.4" fill="none" stroke="#5d4936" stroke-width="0.9" stroke-linejoin="round" stroke-linecap="round"/><clipPath id="p40"><path d="M69.7 194.9C69.7 194.9 83 190.4 89.9 188.2C96.8 186 104.8 183.1 110.9 181.6C117 180.1 126.4 179.2 126.4 179.2C126.4 179.2 127.1 181.9 127.2 184C127.3 186.1 127.4 189.5 127.2 192C127 194.5 127 196.9 126.2 199C125.4 201.1 123.3 203.1 122.5 204.5C121.7 205.9 120.8 206.7 121.3 207.6C121.8 208.5 124.5 209.1 125.5 210C126.5 210.9 127.3 213.2 127.3 213.2C127.3 213.2 117.1 215.6 110.9 216.6C104.7 217.6 96.8 218.9 89.9 219.4C83 219.9 69.7 219.6 69.7 219.6C69.7 219.6 69.2 217.4 69.6 215C70 212.6 71.7 207.8 71.9 205C72.1 202.2 71 199.7 70.6 198C70.2 196.3 69.7 194.9 69.7 194.9Z"/></clipPath><path d="M69.7 194.9C69.7 194.9 83 190.4 89.9 188.2C96.8 186 104.8 183.1 110.9 181.6C117 180.1 126.4 179.2 126.4 179.2C126.4 179.2 127.1 181.9 127.2 184C127.3 186.1 127.4 189.5 127.2 192C127 194.5 127 196.9 126.2 199C125.4 201.1 123.3 203.1 122.5 204.5C121.7 205.9 120.8 206.7 121.3 207.6C121.8 208.5 124.5 209.1 125.5 210C126.5 210.9 127.3 213.2 127.3 213.2C127.3 213.2 117.1 215.6 110.9 216.6C104.7 217.6 96.8 218.9 89.9 219.4C83 219.9 69.7 219.6 69.7 219.6C69.7 219.6 69.2 217.4 69.6 215C70 212.6 71.7 207.8 71.9 205C72.1 202.2 71 199.7 70.6 198C70.2 196.3 69.7 194.9 69.7 194.9Z" fill="url(#gBody)"/><g clip-path="url(#p40)"><path d="M69.7 194.9C69.7 194.9 83 190.4 89.9 188.2C96.8 186 104.8 183.1 110.9 181.6C117 180.1 126.4 179.2 126.4 179.2C126.4 179.2 127.1 181.9 127.2 184C127.3 186.1 127.4 189.5 127.2 192C127 194.5 127 196.9 126.2 199C125.4 201.1 123.3 203.1 122.5 204.5C121.7 205.9 120.8 206.7 121.3 207.6C121.8 208.5 124.5 209.1 125.5 210C126.5 210.9 127.3 213.2 127.3 213.2C127.3 213.2 117.1 215.6 110.9 216.6C104.7 217.6 96.8 218.9 89.9 219.4C83 219.9 69.7 219.6 69.7 219.6C69.7 219.6 69.2 217.4 69.6 215C70 212.6 71.7 207.8 71.9 205C72.1 202.2 71 199.7 70.6 198C70.2 196.3 69.7 194.9 69.7 194.9Z" fill="none" stroke="#7c6d62" stroke-width="5.5" opacity="0.5" filter="url(#b2)"/><ellipse cx="84" cy="200.4" rx="2.6" ry="13" fill="#86786d" opacity="0.24" filter="url(#b2)" transform="rotate(6 84 200.4)"/><ellipse cx="93.8" cy="197.4" rx="3.2" ry="14.6" fill="#86786d" opacity="0.34" filter="url(#b2)" transform="rotate(3 93.8 197.4)"/><ellipse cx="101.3" cy="196.4" rx="2.6" ry="12.2" fill="#86786d" opacity="0.3" filter="url(#b2)" transform="rotate(-2 101.3 196.4)"/><ellipse cx="107.7" cy="199.4" rx="2.2" ry="13.8" fill="#86786d" opacity="0.2" filter="url(#b2)" transform="rotate(-5 107.7 199.4)"/><ellipse cx="114.6" cy="198.4" rx="2.8" ry="13" fill="#86786d" opacity="0.24" filter="url(#b2)" transform="rotate(-8 114.6 198.4)"/><ellipse cx="78.8" cy="202.4" rx="1.8" ry="12.2" fill="#e6e0d8" opacity="0.4" filter="url(#b15)"/><ellipse cx="89.2" cy="203.4" rx="1.8" ry="12.2" fill="#e6e0d8" opacity="0.3" filter="url(#b15)"/><ellipse cx="97.9" cy="205.4" rx="1.8" ry="12.2" fill="#e6e0d8" opacity="0.2" filter="url(#b15)"/><ellipse cx="104.8" cy="204.4" rx="1.8" ry="12.2" fill="#e6e0d8" opacity="0.22" filter="url(#b15)"/><ellipse cx="111.1" cy="203.4" rx="1.8" ry="12.2" fill="#e6e0d8" opacity="0.25" filter="url(#b15)"/><ellipse cx="120.4" cy="202.4" rx="1.8" ry="12.2" fill="#e6e0d8" opacity="0.3" filter="url(#b15)"/><ellipse cx="100.4" cy="189.2" rx="15" ry="5" fill="#84766b" opacity="0.3" filter="url(#b3)"/><ellipse cx="92.4" cy="208.6" rx="16" ry="5" fill="#ddd6cd" opacity="0.4" filter="url(#b3)"/><path d="M69.7 194.9C69.7 194.9 83 190.4 89.9 188.2C96.8 186 104.8 183.1 110.9 181.6C117 180.1 126.4 179.2 126.4 179.2" fill="none" stroke="#7c6d62" stroke-width="3.5" opacity="0.45" filter="url(#b1)" transform="translate(0,5)"/><path d="M69.7 194.9C69.7 194.9 83 190.4 89.9 188.2C96.8 186 104.8 183.1 110.9 181.6C117 180.1 126.4 179.2 126.4 179.2" fill="none" stroke="#e6e0d8" stroke-width="1.6" opacity="0.6" filter="url(#b05)" transform="translate(0,1.8)"/><path d="M127.3 213.2C127.3 213.2 117.1 215.6 110.9 216.6C104.7 217.6 96.8 218.9 89.9 219.4C83 219.9 69.7 219.6 69.7 219.6" fill="none" stroke="#7c6d62" stroke-width="3" opacity="0.35" filter="url(#b1)" transform="translate(0,-4.5)"/><path d="M127.3 213.2C127.3 213.2 117.1 215.6 110.9 216.6C104.7 217.6 96.8 218.9 89.9 219.4C83 219.9 69.7 219.6 69.7 219.6" fill="none" stroke="#e2dcd3" stroke-width="1.5" opacity="0.55" filter="url(#b05)" transform="translate(0,-1.8)"/></g><path d="M122.5 204.5C122.3 205 120.8 206.7 121.3 207.6C121.8 208.5 124.5 209.1 125.5 210C126.5 210.9 127.3 213.2 127.3 213.2C127.3 213.2 117.1 215.6 110.9 216.6C104.7 217.6 96.8 218.9 89.9 219.4C83 219.9 69.7 219.6 69.7 219.6C69.7 219.6 69.2 217.4 69.6 215C70 212.6 71.7 207.8 71.9 205C72.1 202.2 71 199.7 70.6 198C70.2 196.3 69.7 194.9 69.7 194.9C69.7 194.9 83 190.4 89.9 188.2C96.8 186 104.8 183.1 110.9 181.6C117 180.1 126.4 179.2 126.4 179.2C126.4 179.2 127.1 183.2 127.2 184" fill="none" stroke="#5d4936" stroke-width="0.9" stroke-linejoin="round" stroke-linecap="round"/><clipPath id="p41"><path d="M70.5 233.7C70.5 233.7 82.9 231.5 89.2 230.4C95.5 229.3 101.9 228.3 108.2 227.3C114.5 226.3 126.9 224.2 126.9 224.2C126.9 224.2 127.8 229.7 127.7 232.8C127.6 235.9 126.5 239.5 126.2 242.8C125.9 246.1 125.4 250.1 125.7 252.8C126 255.5 127.4 257.1 128.2 258.8C128.9 260.5 129.9 261.7 130.2 262.8C130.4 263.9 129.7 265.6 129.7 265.6C129.7 265.6 124.3 267.1 120.7 268.2C117.1 269.3 113.4 271.2 108.2 272.3C102.9 273.4 94.7 274.5 89.2 274.8C83.7 275.1 75.4 274.1 75.4 274.1C75.4 274.1 75.4 272.2 75.7 269.8C76 267.4 77.2 263.6 76.9 259.8C76.7 256.1 75.2 250.6 74.4 247.3C73.7 244 73.3 242.1 72.6 239.8C71.9 237.5 70.5 233.7 70.5 233.7Z"/></clipPath><path d="M70.5 233.7C70.5 233.7 82.9 231.5 89.2 230.4C95.5 229.3 101.9 228.3 108.2 227.3C114.5 226.3 126.9 224.2 126.9 224.2C126.9 224.2 127.8 229.7 127.7 232.8C127.6 235.9 126.5 239.5 126.2 242.8C125.9 246.1 125.4 250.1 125.7 252.8C126 255.5 127.4 257.1 128.2 258.8C128.9 260.5 129.9 261.7 130.2 262.8C130.4 263.9 129.7 265.6 129.7 265.6C129.7 265.6 124.3 267.1 120.7 268.2C117.1 269.3 113.4 271.2 108.2 272.3C102.9 273.4 94.7 274.5 89.2 274.8C83.7 275.1 75.4 274.1 75.4 274.1C75.4 274.1 75.4 272.2 75.7 269.8C76 267.4 77.2 263.6 76.9 259.8C76.7 256.1 75.2 250.6 74.4 247.3C73.7 244 73.3 242.1 72.6 239.8C71.9 237.5 70.5 233.7 70.5 233.7Z" fill="url(#gBody)"/><g clip-path="url(#p41)"><path d="M70.5 233.7C70.5 233.7 82.9 231.5 89.2 230.4C95.5 229.3 101.9 228.3 108.2 227.3C114.5 226.3 126.9 224.2 126.9 224.2C126.9 224.2 127.8 229.7 127.7 232.8C127.6 235.9 126.5 239.5 126.2 242.8C125.9 246.1 125.4 250.1 125.7 252.8C126 255.5 127.4 257.1 128.2 258.8C128.9 260.5 129.9 261.7 130.2 262.8C130.4 263.9 129.7 265.6 129.7 265.6C129.7 265.6 124.3 267.1 120.7 268.2C117.1 269.3 113.4 271.2 108.2 272.3C102.9 273.4 94.7 274.5 89.2 274.8C83.7 275.1 75.4 274.1 75.4 274.1C75.4 274.1 75.4 272.2 75.7 269.8C76 267.4 77.2 263.6 76.9 259.8C76.7 256.1 75.2 250.6 74.4 247.3C73.7 244 73.3 242.1 72.6 239.8C71.9 237.5 70.5 233.7 70.5 233.7Z" fill="none" stroke="#7c6d62" stroke-width="5.5" opacity="0.5" filter="url(#b2)"/><ellipse cx="85.4" cy="250.5" rx="2.6" ry="17" fill="#86786d" opacity="0.24" filter="url(#b2)" transform="rotate(6 85.4 250.5)"/><ellipse cx="95.6" cy="247.5" rx="3.2" ry="19.2" fill="#86786d" opacity="0.34" filter="url(#b2)" transform="rotate(3 95.6 247.5)"/><ellipse cx="103.3" cy="246.5" rx="2.6" ry="16" fill="#86786d" opacity="0.3" filter="url(#b2)" transform="rotate(-2 103.3 246.5)"/><ellipse cx="109.9" cy="249.5" rx="2.2" ry="18.1" fill="#86786d" opacity="0.2" filter="url(#b2)" transform="rotate(-5 109.9 249.5)"/><ellipse cx="117.1" cy="248.5" rx="2.8" ry="17" fill="#86786d" opacity="0.24" filter="url(#b2)" transform="rotate(-8 117.1 248.5)"/><ellipse cx="80.1" cy="252.5" rx="1.8" ry="17.3" fill="#e6e0d8" opacity="0.4" filter="url(#b15)"/><ellipse cx="90.8" cy="253.5" rx="1.8" ry="17.3" fill="#e6e0d8" opacity="0.3" filter="url(#b15)"/><ellipse cx="99.8" cy="255.5" rx="1.8" ry="17.3" fill="#e6e0d8" opacity="0.2" filter="url(#b15)"/><ellipse cx="106.9" cy="254.5" rx="1.8" ry="17.3" fill="#e6e0d8" opacity="0.22" filter="url(#b15)"/><ellipse cx="113.5" cy="253.5" rx="1.8" ry="17.3" fill="#e6e0d8" opacity="0.25" filter="url(#b15)"/><ellipse cx="123" cy="252.5" rx="1.8" ry="17.3" fill="#e6e0d8" opacity="0.3" filter="url(#b15)"/><ellipse cx="102.3" cy="234.2" rx="15" ry="5" fill="#84766b" opacity="0.3" filter="url(#b3)"/><ellipse cx="94.3" cy="263.8" rx="16" ry="5" fill="#ddd6cd" opacity="0.4" filter="url(#b3)"/><path d="M70.5 233.7C70.5 233.7 82.9 231.5 89.2 230.4C95.5 229.3 101.9 228.3 108.2 227.3C114.5 226.3 126.9 224.2 126.9 224.2" fill="none" stroke="#7c6d62" stroke-width="3.5" opacity="0.45" filter="url(#b1)" transform="translate(0,5)"/><path d="M70.5 233.7C70.5 233.7 82.9 231.5 89.2 230.4C95.5 229.3 101.9 228.3 108.2 227.3C114.5 226.3 126.9 224.2 126.9 224.2" fill="none" stroke="#e6e0d8" stroke-width="1.6" opacity="0.6" filter="url(#b05)" transform="translate(0,1.8)"/><path d="M129.7 265.6C129.7 265.6 124.3 267.1 120.7 268.2C117.1 269.3 113.4 271.2 108.2 272.3C102.9 273.4 94.7 274.5 89.2 274.8C83.7 275.1 75.4 274.1 75.4 274.1" fill="none" stroke="#7c6d62" stroke-width="3" opacity="0.35" filter="url(#b1)" transform="translate(0,-4.5)"/><path d="M129.7 265.6C129.7 265.6 124.3 267.1 120.7 268.2C117.1 269.3 113.4 271.2 108.2 272.3C102.9 273.4 94.7 274.5 89.2 274.8C83.7 275.1 75.4 274.1 75.4 274.1" fill="none" stroke="#e2dcd3" stroke-width="1.5" opacity="0.55" filter="url(#b05)" transform="translate(0,-1.8)"/></g><path d="M125.7 252.8C126.1 253.8 127.4 257.1 128.2 258.8C128.9 260.5 129.9 261.7 130.2 262.8C130.4 263.9 129.7 265.6 129.7 265.6C129.7 265.6 124.3 267.1 120.7 268.2C117.1 269.3 113.4 271.2 108.2 272.3C102.9 273.4 94.7 274.5 89.2 274.8C83.7 275.1 75.4 274.1 75.4 274.1C75.4 274.1 75.4 272.2 75.7 269.8C76 267.4 77.2 263.6 76.9 259.8C76.7 256.1 75.2 250.6 74.4 247.3C73.7 244 73.3 242.1 72.6 239.8C71.9 237.5 70.5 233.7 70.5 233.7C70.5 233.7 82.9 231.5 89.2 230.4C95.5 229.3 101.9 228.3 108.2 227.3C114.5 226.3 126.9 224.2 126.9 224.2C126.9 224.2 127.6 231.4 127.7 232.8" fill="none" stroke="#5d4936" stroke-width="0.9" stroke-linejoin="round" stroke-linecap="round"/><clipPath id="p42"><path d="M78.2 292.8C78.2 292.8 89.7 288.6 95.7 286.8C101.7 285.1 108.4 283.6 114.2 282.3C120 281 125.9 279.6 130.7 279.2C135.5 278.8 139.4 279.9 143.2 279.8C146.9 279.7 150.9 277.9 153.2 278.6C155.5 279.2 156.8 281.1 157.2 283.8C157.6 286.5 157 291.5 155.7 294.8C154.4 298.1 150.8 298.8 149.2 303.8C147.6 308.8 146.2 324.8 146.2 324.8C146.2 324.8 85.2 324.8 85.2 324.8C85.2 324.8 81.9 312.6 80.7 307.3C79.5 302 78.2 292.8 78.2 292.8Z"/></clipPath><path d="M78.2 292.8C78.2 292.8 89.7 288.6 95.7 286.8C101.7 285.1 108.4 283.6 114.2 282.3C120 281 125.9 279.6 130.7 279.2C135.5 278.8 139.4 279.9 143.2 279.8C146.9 279.7 150.9 277.9 153.2 278.6C155.5 279.2 156.8 281.1 157.2 283.8C157.6 286.5 157 291.5 155.7 294.8C154.4 298.1 150.8 298.8 149.2 303.8C147.6 308.8 146.2 324.8 146.2 324.8C146.2 324.8 85.2 324.8 85.2 324.8C85.2 324.8 81.9 312.6 80.7 307.3C79.5 302 78.2 292.8 78.2 292.8Z" fill="url(#gBody)"/><g clip-path="url(#p42)"><path d="M78.2 292.8C78.2 292.8 89.7 288.6 95.7 286.8C101.7 285.1 108.4 283.6 114.2 282.3C120 281 125.9 279.6 130.7 279.2C135.5 278.8 139.4 279.9 143.2 279.8C146.9 279.7 150.9 277.9 153.2 278.6C155.5 279.2 156.8 281.1 157.2 283.8C157.6 286.5 157 291.5 155.7 294.8C154.4 298.1 150.8 298.8 149.2 303.8C147.6 308.8 146.2 324.8 146.2 324.8C146.2 324.8 85.2 324.8 85.2 324.8C85.2 324.8 81.9 312.6 80.7 307.3C79.5 302 78.2 292.8 78.2 292.8Z" fill="none" stroke="#7c6d62" stroke-width="5.5" opacity="0.5" filter="url(#b2)"/><ellipse cx="91.9" cy="302.7" rx="2.6" ry="15.3" fill="#86786d" opacity="0.24" filter="url(#b2)" transform="rotate(6 91.9 302.7)"/><ellipse cx="101.3" cy="299.7" rx="3.2" ry="17.2" fill="#86786d" opacity="0.34" filter="url(#b2)" transform="rotate(3 101.3 299.7)"/><ellipse cx="108.4" cy="298.7" rx="2.6" ry="14.3" fill="#86786d" opacity="0.3" filter="url(#b2)" transform="rotate(-2 108.4 298.7)"/><ellipse cx="114.5" cy="301.7" rx="2.2" ry="16.3" fill="#86786d" opacity="0.2" filter="url(#b2)" transform="rotate(-5 114.5 301.7)"/><ellipse cx="121.1" cy="300.7" rx="2.8" ry="15.3" fill="#86786d" opacity="0.24" filter="url(#b2)" transform="rotate(-8 121.1 300.7)"/><ellipse cx="87" cy="304.7" rx="1.8" ry="15.1" fill="#e6e0d8" opacity="0.4" filter="url(#b15)"/><ellipse cx="96.9" cy="305.7" rx="1.8" ry="15.1" fill="#e6e0d8" opacity="0.3" filter="url(#b15)"/><ellipse cx="105.1" cy="307.7" rx="1.8" ry="15.1" fill="#e6e0d8" opacity="0.2" filter="url(#b15)"/><ellipse cx="111.7" cy="306.7" rx="1.8" ry="15.1" fill="#e6e0d8" opacity="0.22" filter="url(#b15)"/><ellipse cx="117.8" cy="305.7" rx="1.8" ry="15.1" fill="#e6e0d8" opacity="0.25" filter="url(#b15)"/><ellipse cx="126.6" cy="304.7" rx="1.8" ry="15.1" fill="#e6e0d8" opacity="0.3" filter="url(#b15)"/><ellipse cx="107.7" cy="288.6" rx="15" ry="5" fill="#84766b" opacity="0.3" filter="url(#b3)"/><ellipse cx="99.7" cy="313.8" rx="16" ry="5" fill="#ddd6cd" opacity="0.4" filter="url(#b3)"/><path d="M78.2 292.8C78.2 292.8 89.7 288.6 95.7 286.8C101.7 285.1 108.4 283.6 114.2 282.3C120 281 125.9 279.6 130.7 279.2C135.5 278.8 139.4 279.9 143.2 279.8C146.9 279.7 151.5 278.8 153.2 278.6" fill="none" stroke="#7c6d62" stroke-width="3.5" opacity="0.45" filter="url(#b1)" transform="translate(0,5)"/><path d="M78.2 292.8C78.2 292.8 89.7 288.6 95.7 286.8C101.7 285.1 108.4 283.6 114.2 282.3C120 281 125.9 279.6 130.7 279.2C135.5 278.8 139.4 279.9 143.2 279.8C146.9 279.7 151.5 278.8 153.2 278.6" fill="none" stroke="#e6e0d8" stroke-width="1.6" opacity="0.6" filter="url(#b05)" transform="translate(0,1.8)"/><path d="M155.7 294.8C154.4 296.1 151.4 300.8 147.7 302.8C144 304.8 138.4 305.6 133.7 306.8C129 308 122 309.3 119.7 309.8" fill="none" stroke="#75695e" stroke-width="7" opacity="0.6" filter="url(#b15)" transform="translate(0,4.5)"/><path d="M155.7 294.8C154.4 296.1 151.4 300.8 147.7 302.8C144 304.8 138.4 305.6 133.7 306.8C129 308 122 309.3 119.7 309.8" fill="none" stroke="#5d4936" stroke-width="0.8"/></g><path d="M149.2 303.8C150.3 302.3 154.4 298.1 155.7 294.8C157 291.5 157.6 286.5 157.2 283.8C156.8 281.1 155.5 279.2 153.2 278.6C150.9 277.9 146.9 279.7 143.2 279.8C139.4 279.9 135.5 278.8 130.7 279.2C125.9 279.6 120 281 114.2 282.3C108.4 283.6 101.7 285.1 95.7 286.8C89.7 288.6 78.2 292.8 78.2 292.8C78.2 292.8 79.5 302 80.7 307.3C81.9 312.6 85.2 324.8 85.2 324.8" fill="none" stroke="#5d4936" stroke-width="0.9" stroke-linejoin="round" stroke-linecap="round"/><clipPath id="p43"><path d="M150.7 305.8C150.8 304.2 151.9 303.4 153.2 302.8C154.4 302.2 156.5 302 158.2 302.1C159.9 302.2 161.7 303.3 163.2 303.3C164.7 303.3 165.9 301.8 167.2 302C168.5 302.2 170.4 303.2 171.2 304.3C172 305.4 172.4 307.1 172.2 308.3C172 309.6 171.4 310.8 170.2 311.8C169 312.8 167.2 313.8 165.2 314.3C163.2 314.8 160.3 315.1 158.2 314.8C156.1 314.5 153.9 313.8 152.7 312.3C151.4 310.8 150.6 307.4 150.7 305.8Z"/></clipPath><path d="M150.7 305.8C150.8 304.2 151.9 303.4 153.2 302.8C154.4 302.2 156.5 302 158.2 302.1C159.9 302.2 161.7 303.3 163.2 303.3C164.7 303.3 165.9 301.8 167.2 302C168.5 302.2 170.4 303.2 171.2 304.3C172 305.4 172.4 307.1 172.2 308.3C172 309.6 171.4 310.8 170.2 311.8C169 312.8 167.2 313.8 165.2 314.3C163.2 314.8 160.3 315.1 158.2 314.8C156.1 314.5 153.9 313.8 152.7 312.3C151.4 310.8 150.6 307.4 150.7 305.8Z" fill="#e4e3ea"/><g clip-path="url(#p43)"><path d="M150.7 305.8C150.8 304.2 151.9 303.4 153.2 302.8C154.4 302.2 156.5 302 158.2 302.1C159.9 302.2 161.7 303.3 163.2 303.3C164.7 303.3 165.9 301.8 167.2 302C168.5 302.2 170.4 303.2 171.2 304.3C172 305.4 172.4 307.1 172.2 308.3C172 309.6 171.4 310.8 170.2 311.8C169 312.8 167.2 313.8 165.2 314.3C163.2 314.8 160.3 315.1 158.2 314.8C156.1 314.5 153.9 313.8 152.7 312.3C151.4 310.8 150.6 307.4 150.7 305.8Z" fill="none" stroke="#7f7d90" stroke-width="3.5" opacity="0.7" filter="url(#b1)"/></g><path d="M150.7 305.8C150.8 304.2 151.9 303.4 153.2 302.8C154.4 302.2 156.5 302 158.2 302.1C159.9 302.2 161.7 303.3 163.2 303.3C164.7 303.3 165.9 301.8 167.2 302C168.5 302.2 170.4 303.2 171.2 304.3C172 305.4 172.4 307.1 172.2 308.3C172 309.6 171.4 310.8 170.2 311.8C169 312.8 167.2 313.8 165.2 314.3C163.2 314.8 160.3 315.1 158.2 314.8C156.1 314.5 153.9 313.8 152.7 312.3C151.4 310.8 150.6 307.4 150.7 305.8Z" fill="none" stroke="#5b5360" stroke-width="0.9" stroke-linejoin="round"/><clipPath id="p44"><path d="M118.5 105.2C119.8 105 122 105.3 123.2 106.2C124.5 107 125.8 108.8 126 110.2C126.1 111.6 124.8 113.1 124.2 114.6C123.6 116.1 122.7 117.1 122.4 119C122.1 120.9 122.7 123.8 122.6 125.9C122.4 127.9 122.1 130.1 121.5 131.3C120.8 132.5 119.6 133.3 118.7 133C117.8 132.8 116.8 131.6 116.1 129.6C115.3 127.6 114.6 123.6 114.3 120.8C113.9 118 113.5 115.1 113.7 112.9C113.9 110.6 114.5 108.6 115.3 107.3C116.1 106.1 117.2 105.4 118.5 105.2Z"/></clipPath><path d="M118.5 105.2C119.8 105 122 105.3 123.2 106.2C124.5 107 125.8 108.8 126 110.2C126.1 111.6 124.8 113.1 124.2 114.6C123.6 116.1 122.7 117.1 122.4 119C122.1 120.9 122.7 123.8 122.6 125.9C122.4 127.9 122.1 130.1 121.5 131.3C120.8 132.5 119.6 133.3 118.7 133C117.8 132.8 116.8 131.6 116.1 129.6C115.3 127.6 114.6 123.6 114.3 120.8C113.9 118 113.5 115.1 113.7 112.9C113.9 110.6 114.5 108.6 115.3 107.3C116.1 106.1 117.2 105.4 118.5 105.2Z" fill="#fff"/><path d="M118.5 105.2C119.8 105 122 105.3 123.2 106.2C124.5 107 125.8 108.8 126 110.2C126.1 111.6 124.8 113.1 124.2 114.6C123.6 116.1 122.7 117.1 122.4 119C122.1 120.9 122.7 123.8 122.6 125.9C122.4 127.9 122.1 130.1 121.5 131.3C120.8 132.5 119.6 133.3 118.7 133C117.8 132.8 116.8 131.6 116.1 129.6C115.3 127.6 114.6 123.6 114.3 120.8C113.9 118 113.5 115.1 113.7 112.9C113.9 110.6 114.5 108.6 115.3 107.3C116.1 106.1 117.2 105.4 118.5 105.2Z" fill="none" stroke="#5d4936" stroke-width="0.9" stroke-linejoin="round"/><clipPath id="p45"><path d="M125.5 157.8C127.1 157.3 129.4 158 130.7 158.7C132 159.5 133.1 160.9 133.3 162.3C133.6 163.8 132.7 165.8 132.2 167.6C131.7 169.4 130.6 171.3 130.1 173C129.5 174.8 129.7 177.2 128.9 178.3C128.2 179.4 126.7 180.4 125.6 179.9C124.6 179.4 123.4 177.4 122.5 175.3C121.7 173.3 120.6 169.9 120.3 167.6C120 165.2 120 163 120.8 161.4C121.7 159.8 123.8 158.2 125.5 157.8Z"/></clipPath><path d="M125.5 157.8C127.1 157.3 129.4 158 130.7 158.7C132 159.5 133.1 160.9 133.3 162.3C133.6 163.8 132.7 165.8 132.2 167.6C131.7 169.4 130.6 171.3 130.1 173C129.5 174.8 129.7 177.2 128.9 178.3C128.2 179.4 126.7 180.4 125.6 179.9C124.6 179.4 123.4 177.4 122.5 175.3C121.7 173.3 120.6 169.9 120.3 167.6C120 165.2 120 163 120.8 161.4C121.7 159.8 123.8 158.2 125.5 157.8Z" fill="#fff"/><path d="M125.5 157.8C127.1 157.3 129.4 158 130.7 158.7C132 159.5 133.1 160.9 133.3 162.3C133.6 163.8 132.7 165.8 132.2 167.6C131.7 169.4 130.6 171.3 130.1 173C129.5 174.8 129.7 177.2 128.9 178.3C128.2 179.4 126.7 180.4 125.6 179.9C124.6 179.4 123.4 177.4 122.5 175.3C121.7 173.3 120.6 169.9 120.3 167.6C120 165.2 120 163 120.8 161.4C121.7 159.8 123.8 158.2 125.5 157.8Z" fill="none" stroke="#5d4936" stroke-width="0.9" stroke-linejoin="round"/><clipPath id="p46"><path d="M127.5 203.5C128.8 203.8 131.5 204.8 133 206C134.5 207.2 136.6 209.2 136.7 210.5C136.8 211.8 134.5 212.7 133.5 214C132.5 215.3 131.4 216.8 130.8 218.5C130.2 220.2 130.4 222.9 129.8 224.5C129.2 226.1 128.2 228 127.5 228C126.8 228 126 226.4 125.5 224.5C125 222.6 124.9 219.2 124.7 216.5C124.5 213.8 124.5 210.5 124.5 208.5C124.5 206.5 124.5 205.3 125 204.5C125.5 203.7 126.2 203.2 127.5 203.5Z"/></clipPath><path d="M127.5 203.5C128.8 203.8 131.5 204.8 133 206C134.5 207.2 136.6 209.2 136.7 210.5C136.8 211.8 134.5 212.7 133.5 214C132.5 215.3 131.4 216.8 130.8 218.5C130.2 220.2 130.4 222.9 129.8 224.5C129.2 226.1 128.2 228 127.5 228C126.8 228 126 226.4 125.5 224.5C125 222.6 124.9 219.2 124.7 216.5C124.5 213.8 124.5 210.5 124.5 208.5C124.5 206.5 124.5 205.3 125 204.5C125.5 203.7 126.2 203.2 127.5 203.5Z" fill="#fff"/><path d="M127.5 203.5C128.8 203.8 131.5 204.8 133 206C134.5 207.2 136.6 209.2 136.7 210.5C136.8 211.8 134.5 212.7 133.5 214C132.5 215.3 131.4 216.8 130.8 218.5C130.2 220.2 130.4 222.9 129.8 224.5C129.2 226.1 128.2 228 127.5 228C126.8 228 126 226.4 125.5 224.5C125 222.6 124.9 219.2 124.7 216.5C124.5 213.8 124.5 210.5 124.5 208.5C124.5 206.5 124.5 205.3 125 204.5C125.5 203.7 126.2 203.2 127.5 203.5Z" fill="none" stroke="#5d4936" stroke-width="0.9" stroke-linejoin="round"/><clipPath id="p47"><path d="M127.7 253.4C128.7 253.3 130.7 254 132.2 254.8C133.7 255.6 135.3 256.8 136.7 258.3C138.1 259.8 140 261.6 140.5 263.8C141 266.1 140.4 269.4 139.7 271.8C139 274.2 137.2 277.6 136.2 278.4C135.2 279.2 134.2 278.1 133.5 276.8C132.8 275.5 132.2 273 131.7 270.8C131.1 268.6 130.8 265.8 130.2 263.8C129.6 261.8 128.8 260.2 128.2 258.8C127.6 257.4 126.5 256.2 126.4 255.3C126.3 254.4 126.7 253.5 127.7 253.4Z"/></clipPath><path d="M127.7 253.4C128.7 253.3 130.7 254 132.2 254.8C133.7 255.6 135.3 256.8 136.7 258.3C138.1 259.8 140 261.6 140.5 263.8C141 266.1 140.4 269.4 139.7 271.8C139 274.2 137.2 277.6 136.2 278.4C135.2 279.2 134.2 278.1 133.5 276.8C132.8 275.5 132.2 273 131.7 270.8C131.1 268.6 130.8 265.8 130.2 263.8C129.6 261.8 128.8 260.2 128.2 258.8C127.6 257.4 126.5 256.2 126.4 255.3C126.3 254.4 126.7 253.5 127.7 253.4Z" fill="#fff"/><path d="M127.7 253.4C128.7 253.3 130.7 254 132.2 254.8C133.7 255.6 135.3 256.8 136.7 258.3C138.1 259.8 140 261.6 140.5 263.8C141 266.1 140.4 269.4 139.7 271.8C139 274.2 137.2 277.6 136.2 278.4C135.2 279.2 134.2 278.1 133.5 276.8C132.8 275.5 132.2 273 131.7 270.8C131.1 268.6 130.8 265.8 130.2 263.8C129.6 261.8 128.8 260.2 128.2 258.8C127.6 257.4 126.5 256.2 126.4 255.3C126.3 254.4 126.7 253.5 127.7 253.4Z" fill="none" stroke="#5d4936" stroke-width="0.9" stroke-linejoin="round"/><clipPath id="p48"><path d="M60 130.1C60 130.1 70.7 129.4 76.6 128.9C82.6 128.4 89.4 128 95.6 126.9C101.8 125.9 113.7 122.7 113.7 122.7C113.7 122.7 114.8 128.4 114.8 128.4C114.8 128.4 103.2 133.3 97.2 134.9C91.1 136.5 84.2 137.2 78.4 137.9C72.6 138.7 62.3 139.3 62.3 139.3C62.3 139.3 60 130.1 60 130.1Z"/></clipPath><path d="M60 130.1C60 130.1 70.7 129.4 76.6 128.9C82.6 128.4 89.4 128 95.6 126.9C101.8 125.9 113.7 122.7 113.7 122.7C113.7 122.7 114.8 128.4 114.8 128.4C114.8 128.4 103.2 133.3 97.2 134.9C91.1 136.5 84.2 137.2 78.4 137.9C72.6 138.7 62.3 139.3 62.3 139.3C62.3 139.3 60 130.1 60 130.1Z" fill="#9bbbf0"/><g clip-path="url(#p48)"><path d="M60 130.1C60 130.1 70.7 129.4 76.6 128.9C82.6 128.4 89.4 128 95.6 126.9C101.8 125.9 113.7 122.7 113.7 122.7C113.7 122.7 114.8 128.4 114.8 128.4C114.8 128.4 103.2 133.3 97.2 134.9C91.1 136.5 84.2 137.2 78.4 137.9C72.6 138.7 62.3 139.3 62.3 139.3C62.3 139.3 60 130.1 60 130.1Z" fill="none" stroke="#5b86dc" stroke-width="2.2" opacity="0.6" filter="url(#b1)"/><path d="M61.1 134.7C63.8 134.5 71.6 134 77.5 133.4C83.4 132.8 90.3 132.2 96.4 130.9C102.5 129.6 111.3 126.4 114.3 125.6" fill="none" stroke="#d3e1f8" stroke-width="4" opacity="0.85" filter="url(#b1)"/><path d="M60 130.1C60 130.1 70.7 129.4 76.6 128.9C82.6 128.4 89.4 128 95.6 126.9C101.8 125.9 113.7 122.7 113.7 122.7C113.7 122.7 114.8 128.4 114.8 128.4C114.8 128.4 103.2 133.3 97.2 134.9C91.1 136.5 84.2 137.2 78.4 137.9C72.6 138.7 62.3 139.3 62.3 139.3C62.3 139.3 60 130.1 60 130.1Z" fill="url(#hatch)"/></g><path d="M60 130.1C60 130.1 70.7 129.4 76.6 128.9C82.6 128.4 89.4 128 95.6 126.9C101.8 125.9 113.7 122.7 113.7 122.7C113.7 122.7 114.8 128.4 114.8 128.4C114.8 128.4 103.2 133.3 97.2 134.9C91.1 136.5 84.2 137.2 78.4 137.9C72.6 138.7 62.3 139.3 62.3 139.3C62.3 139.3 60 130.1 60 130.1Z" fill="none" stroke="#6f6a4e" stroke-width="0.8" stroke-linejoin="round"/><clipPath id="p49"><path d="M68.2 181.4C68.2 181.4 82.8 180.3 89.9 179.2C97 178.1 105.4 175.9 110.9 174.7C116.4 173.4 122.8 171.7 122.8 171.7C122.8 171.7 126.4 178.6 126.4 178.6C126.4 178.6 117 179.4 110.9 180.9C104.8 182.4 96.6 185.6 89.9 187.6C83.2 189.6 71 192.8 71 192.8C71 192.8 68.2 181.4 68.2 181.4Z"/></clipPath><path d="M68.2 181.4C68.2 181.4 82.8 180.3 89.9 179.2C97 178.1 105.4 175.9 110.9 174.7C116.4 173.4 122.8 171.7 122.8 171.7C122.8 171.7 126.4 178.6 126.4 178.6C126.4 178.6 117 179.4 110.9 180.9C104.8 182.4 96.6 185.6 89.9 187.6C83.2 189.6 71 192.8 71 192.8C71 192.8 68.2 181.4 68.2 181.4Z" fill="#9bbbf0"/><g clip-path="url(#p49)"><path d="M68.2 181.4C68.2 181.4 82.8 180.3 89.9 179.2C97 178.1 105.4 175.9 110.9 174.7C116.4 173.4 122.8 171.7 122.8 171.7C122.8 171.7 126.4 178.6 126.4 178.6C126.4 178.6 117 179.4 110.9 180.9C104.8 182.4 96.6 185.6 89.9 187.6C83.2 189.6 71 192.8 71 192.8C71 192.8 68.2 181.4 68.2 181.4Z" fill="none" stroke="#5b86dc" stroke-width="2.2" opacity="0.6" filter="url(#b1)"/><path d="M69.6 187.1C73 186.5 83 184.9 89.9 183.4C96.8 181.8 105.1 179.2 110.9 177.8C116.7 176.4 122.3 175.6 124.6 175.1" fill="none" stroke="#d3e1f8" stroke-width="4.1" opacity="0.85" filter="url(#b1)"/><path d="M68.2 181.4C68.2 181.4 82.8 180.3 89.9 179.2C97 178.1 105.4 175.9 110.9 174.7C116.4 173.4 122.8 171.7 122.8 171.7C122.8 171.7 126.4 178.6 126.4 178.6C126.4 178.6 117 179.4 110.9 180.9C104.8 182.4 96.6 185.6 89.9 187.6C83.2 189.6 71 192.8 71 192.8C71 192.8 68.2 181.4 68.2 181.4Z" fill="url(#hatch)"/></g><path d="M68.2 181.4C68.2 181.4 82.8 180.3 89.9 179.2C97 178.1 105.4 175.9 110.9 174.7C116.4 173.4 122.8 171.7 122.8 171.7C122.8 171.7 126.4 178.6 126.4 178.6C126.4 178.6 117 179.4 110.9 180.9C104.8 182.4 96.6 185.6 89.9 187.6C83.2 189.6 71 192.8 71 192.8C71 192.8 68.2 181.4 68.2 181.4Z" fill="none" stroke="#6f6a4e" stroke-width="0.8" stroke-linejoin="round"/><clipPath id="p50"><path d="M70.5 220.4C70.5 220.4 82.9 219.2 89.2 218.6C95.5 218 102 217.5 108.2 216.6C114.4 215.7 126.4 213.4 126.4 213.4C126.4 213.4 125.8 223 125.8 223C125.8 223 114.3 225.2 108.2 226.3C102.1 227.4 95.2 228.4 89.2 229.4C83.1 230.4 71.9 232.5 71.9 232.5C71.9 232.5 70.5 220.4 70.5 220.4Z"/></clipPath><path d="M70.5 220.4C70.5 220.4 82.9 219.2 89.2 218.6C95.5 218 102 217.5 108.2 216.6C114.4 215.7 126.4 213.4 126.4 213.4C126.4 213.4 125.8 223 125.8 223C125.8 223 114.3 225.2 108.2 226.3C102.1 227.4 95.2 228.4 89.2 229.4C83.1 230.4 71.9 232.5 71.9 232.5C71.9 232.5 70.5 220.4 70.5 220.4Z" fill="#9bbbf0"/><g clip-path="url(#p50)"><path d="M70.5 220.4C70.5 220.4 82.9 219.2 89.2 218.6C95.5 218 102 217.5 108.2 216.6C114.4 215.7 126.4 213.4 126.4 213.4C126.4 213.4 125.8 223 125.8 223C125.8 223 114.3 225.2 108.2 226.3C102.1 227.4 95.2 228.4 89.2 229.4C83.1 230.4 71.9 232.5 71.9 232.5C71.9 232.5 70.5 220.4 70.5 220.4Z" fill="none" stroke="#5b86dc" stroke-width="2.2" opacity="0.6" filter="url(#b1)"/><path d="M71.2 226.4C74.2 226 83 224.8 89.2 224C95.4 223.2 102 222.4 108.2 221.5C114.3 220.5 123.1 218.7 126.1 218.2" fill="none" stroke="#d3e1f8" stroke-width="5.3" opacity="0.85" filter="url(#b1)"/><path d="M70.5 220.4C70.5 220.4 82.9 219.2 89.2 218.6C95.5 218 102 217.5 108.2 216.6C114.4 215.7 126.4 213.4 126.4 213.4C126.4 213.4 125.8 223 125.8 223C125.8 223 114.3 225.2 108.2 226.3C102.1 227.4 95.2 228.4 89.2 229.4C83.1 230.4 71.9 232.5 71.9 232.5C71.9 232.5 70.5 220.4 70.5 220.4Z" fill="url(#hatch)"/></g><path d="M70.5 220.4C70.5 220.4 82.9 219.2 89.2 218.6C95.5 218 102 217.5 108.2 216.6C114.4 215.7 126.4 213.4 126.4 213.4C126.4 213.4 125.8 223 125.8 223C125.8 223 114.3 225.2 108.2 226.3C102.1 227.4 95.2 228.4 89.2 229.4C83.1 230.4 71.9 232.5 71.9 232.5C71.9 232.5 70.5 220.4 70.5 220.4Z" fill="none" stroke="#6f6a4e" stroke-width="0.8" stroke-linejoin="round"/><clipPath id="p51"><path d="M76.8 275.4C76.8 275.4 84 276 89.2 275.6C94.4 275.2 102.9 274.2 108.2 273.1C113.4 272 117.2 270.2 120.7 269C124.2 267.8 129 266.1 129 266.1C129 266.1 133.4 276.2 133.4 276.2C133.4 276.2 120.7 279.8 114.4 281.4C108.2 283 101.4 284.1 95.7 285.8C90 287.5 80.2 291.6 80.2 291.6C80.2 291.6 76.8 275.4 76.8 275.4Z"/></clipPath><path d="M76.8 275.4C76.8 275.4 84 276 89.2 275.6C94.4 275.2 102.9 274.2 108.2 273.1C113.4 272 117.2 270.2 120.7 269C124.2 267.8 129 266.1 129 266.1C129 266.1 133.4 276.2 133.4 276.2C133.4 276.2 120.7 279.8 114.4 281.4C108.2 283 101.4 284.1 95.7 285.8C90 287.5 80.2 291.6 80.2 291.6C80.2 291.6 76.8 275.4 76.8 275.4Z" fill="#9bbbf0"/><g clip-path="url(#p51)"><path d="M76.8 275.4C76.8 275.4 84 276 89.2 275.6C94.4 275.2 102.9 274.2 108.2 273.1C113.4 272 117.2 270.2 120.7 269C124.2 267.8 129 266.1 129 266.1C129 266.1 133.4 276.2 133.4 276.2C133.4 276.2 120.7 279.8 114.4 281.4C108.2 283 101.4 284.1 95.7 285.8C90 287.5 80.2 291.6 80.2 291.6C80.2 291.6 76.8 275.4 76.8 275.4Z" fill="none" stroke="#5b86dc" stroke-width="2.2" opacity="0.6" filter="url(#b1)"/><path d="M78.5 283.5C80.8 283 87 281.7 92.4 280.7C97.9 279.7 105.6 278.6 111.3 277.2C117.1 275.9 124.4 273.4 127 272.6" fill="none" stroke="#d3e1f8" stroke-width="5.2" opacity="0.85" filter="url(#b1)"/><path d="M76.8 275.4C76.8 275.4 84 276 89.2 275.6C94.4 275.2 102.9 274.2 108.2 273.1C113.4 272 117.2 270.2 120.7 269C124.2 267.8 129 266.1 129 266.1C129 266.1 133.4 276.2 133.4 276.2C133.4 276.2 120.7 279.8 114.4 281.4C108.2 283 101.4 284.1 95.7 285.8C90 287.5 80.2 291.6 80.2 291.6C80.2 291.6 76.8 275.4 76.8 275.4Z" fill="url(#hatch)"/></g><path d="M76.8 275.4C76.8 275.4 84 276 89.2 275.6C94.4 275.2 102.9 274.2 108.2 273.1C113.4 272 117.2 270.2 120.7 269C124.2 267.8 129 266.1 129 266.1C129 266.1 133.4 276.2 133.4 276.2C133.4 276.2 120.7 279.8 114.4 281.4C108.2 283 101.4 284.1 95.7 285.8C90 287.5 80.2 291.6 80.2 291.6C80.2 291.6 76.8 275.4 76.8 275.4Z" fill="none" stroke="#6f6a4e" stroke-width="0.8" stroke-linejoin="round"/><ellipse cx="107.500" cy="195" rx="5" ry="4.500" fill="#f0a0a8" opacity="0.55" filter="url(#b2)"/><ellipse cx="86" cy="209.500" rx="9" ry="3.500" fill="#eea0a6" opacity="0.5" filter="url(#b2)"/><ellipse cx="98" cy="206" rx="9" ry="3.500" fill="#eea0a6" opacity="0.3" filter="url(#b2)"/><path d="M73.400 206.900l2.500-1.400 2.300.2 2-1.600 2.400-.2 1.800-1.300 2.600.1 2.300-1.400 2.300-.2 2.200-1.300 1.800.3 1.400-1.700 1.300.200 1.500-1.800 2.300-.3" fill="none" stroke="#bf3242" stroke-width="0.9" stroke-linejoin="round" stroke-linecap="round"/><path d="M89.900 201.500l1.800 1.700 .6 1.800 2.200 .900 2.300-.8 2.200 .8 2.400-.6 2.100 .5 1.900-.5 1.700 .4" fill="none" stroke="#bf3242" stroke-width="0.8" stroke-linejoin="round" stroke-linecap="round"/><path d="M97.400 199.200l.6 1.700 1.500 .8m-4.500-2.200l-.4-1.600m5.700 1l.8-2.700.1-1.600m-18.600 9.300l.3 1.700m12.200 1.200l.8 1.600 1.600.7m3.100-1l1.100 1.200" fill="none" stroke="#bf3242" stroke-width="0.6" stroke-linecap="round" opacity="0.85"/><clipPath id="p52"><path d="M116.7 131.7C119.1 130.8 120.9 129.7 122.2 128.3C123.6 126.9 124.3 125.1 124.7 123.3C125.2 121.5 124.6 119.4 125 117.7C125.4 116 126.1 114.2 127.3 113C128.4 111.8 129.9 110.9 131.8 110.5C133.7 110.2 136.5 110.6 138.6 111.1C140.8 111.7 142.9 112.9 144.8 113.9C146.6 114.8 148.4 115.9 149.8 117.1C151.1 118.3 152.2 119.8 152.7 121.1C153.1 122.5 152.9 124 152.4 125.2C152 126.5 151 127.8 150 128.6C148.9 129.4 146.6 129.2 146.1 130C145.7 130.9 146.9 132.5 147 133.8C147.1 135.1 147 136.5 146.7 137.9C146.5 139.2 146.6 140.4 145.4 141.7C144.1 143.1 141.8 144.5 139.4 146C137 147.5 133.7 149.3 131.1 150.8C128.5 152.3 125.5 154.1 123.7 155.1C121.9 156.1 122.3 157 120.2 157C118.2 157 113.3 158.9 111.2 155C109.2 151.1 106.8 137.6 107.7 133.7C108.6 129.8 114.3 132.6 116.7 131.7Z"/></clipPath><linearGradient id="mp52" gradientUnits="userSpaceOnUse" x1="108.7" y1="0" x2="120.7" y2="0"><stop offset="0" stop-color="#000"/><stop offset="1" stop-color="#fff"/></linearGradient><mask id="kp52" maskUnits="userSpaceOnUse" x="104.7" y="101.7" width="70" height="80"><rect x="104.7" y="101.7" width="70" height="80" fill="url(#mp52)"/></mask><g mask="url(#kp52)"><path d="M116.7 131.7C119.1 130.8 120.9 129.7 122.2 128.3C123.6 126.9 124.3 125.1 124.7 123.3C125.2 121.5 124.6 119.4 125 117.7C125.4 116 126.1 114.2 127.3 113C128.4 111.8 129.9 110.9 131.8 110.5C133.7 110.2 136.5 110.6 138.6 111.1C140.8 111.7 142.9 112.9 144.8 113.9C146.6 114.8 148.4 115.9 149.8 117.1C151.1 118.3 152.2 119.8 152.7 121.1C153.1 122.5 152.9 124 152.4 125.2C152 126.5 151 127.8 150 128.6C148.9 129.4 146.6 129.2 146.1 130C145.7 130.9 146.9 132.5 147 133.8C147.1 135.1 147 136.5 146.7 137.9C146.5 139.2 146.6 140.4 145.4 141.7C144.1 143.1 141.8 144.5 139.4 146C137 147.5 133.7 149.3 131.1 150.8C128.5 152.3 125.5 154.1 123.7 155.1C121.9 156.1 122.3 157 120.2 157C118.2 157 113.3 158.9 111.2 155C109.2 151.1 106.8 137.6 107.7 133.7C108.6 129.8 114.3 132.6 116.7 131.7Z" fill="url(#gKnob)"/><g clip-path="url(#p52)"><path d="M116.7 131.7C117.6 131.1 120.9 129.7 122.2 128.3C123.6 126.9 124.3 125.1 124.7 123.3C125.2 121.5 124.6 119.4 125 117.7C125.4 116 126.1 114.2 127.3 113C128.4 111.8 129.9 110.9 131.8 110.5C133.7 110.2 136.5 110.6 138.6 111.1C140.8 111.7 142.9 112.9 144.8 113.9C146.6 114.8 148.4 115.9 149.8 117.1C151.1 118.3 152.2 119.8 152.7 121.1C153.1 122.5 152.9 124 152.4 125.2C152 126.5 151 127.8 150 128.6C148.9 129.4 146.6 129.2 146.1 130C145.7 130.9 146.9 132.5 147 133.8C147.1 135.1 147 136.5 146.7 137.9C146.5 139.2 146.6 140.4 145.4 141.7C144.1 143.1 141.8 144.5 139.4 146C137 147.5 133.7 149.3 131.1 150.8C128.5 152.3 125.5 154.1 123.7 155.1C121.9 156.1 120.8 156.7 120.2 157" fill="none" stroke="#7c6d62" stroke-width="5" opacity="0.5" filter="url(#b15)"/><path d="M124.1 130.2C125.2 129.4 128.5 126.5 130.9 125.3C133.2 124.1 136.1 123 138.1 122.9C140.1 122.7 141.5 123.1 142.9 124.3C144.2 125.5 145.6 129.1 146.1 130" fill="none" stroke="#7c6d62" stroke-width="3" opacity="0.5" filter="url(#b1)" transform="translate(0,1.8)"/><path d="M124.1 130.2C125.2 129.4 128.5 126.5 130.9 125.3C133.2 124.1 136.1 123 138.1 122.9C140.1 122.7 141.5 123.1 142.9 124.3C144.2 125.5 145.6 129.1 146.1 130" fill="none" stroke="#ebe6df" stroke-width="2.4" opacity="0.6" filter="url(#b1)" transform="translate(-1,7)"/></g></g><path d="M116.7 131.7C117.6 131.1 120.9 129.7 122.2 128.3C123.6 126.9 124.3 125.1 124.7 123.3C125.2 121.5 124.6 119.4 125 117.7C125.4 116 126.1 114.2 127.3 113C128.4 111.8 129.9 110.9 131.8 110.5C133.7 110.2 136.5 110.6 138.6 111.1C140.8 111.7 142.9 112.9 144.8 113.9C146.6 114.8 148.4 115.9 149.8 117.1C151.1 118.3 152.2 119.8 152.7 121.1C153.1 122.5 152.9 124 152.4 125.2C152 126.5 151 127.8 150 128.6C148.9 129.4 146.6 129.2 146.1 130C145.7 130.9 146.9 132.5 147 133.8C147.1 135.1 147 136.5 146.7 137.9C146.5 139.2 146.6 140.4 145.4 141.7C144.1 143.1 141.8 144.5 139.4 146C137 147.5 133.7 149.3 131.1 150.8C128.5 152.3 125.5 154.1 123.7 155.1C121.9 156.1 120.8 156.7 120.2 157" fill="none" stroke="#5d4936" stroke-width="0.9" stroke-linecap="round" stroke-linejoin="round"/><path d="M124.1 130.2C125.2 129.4 128.5 126.5 130.9 125.3C133.2 124.1 136.1 123 138.1 122.9C140.1 122.7 141.5 123.1 142.9 124.3C144.2 125.5 145.6 129.1 146.1 130" fill="none" stroke="#5d4936" stroke-width="0.8" stroke-linecap="round"/><ellipse cx="133.8" cy="118.5" rx="6" ry="4.5" fill="#eee9e2" opacity="0.7" filter="url(#b15)"/><clipPath id="p53"><path d="M125.1 179.8C127.6 179.1 129.6 178.5 131.1 177.3C132.7 176.1 133.7 174.5 134.4 172.8C135.2 171.1 134.9 168.9 135.6 167.3C136.3 165.7 137.3 164.1 138.6 163.1C139.9 162.1 141.6 161.4 143.5 161.4C145.4 161.4 148.1 162.2 150.1 163.1C152.1 164 154 165.5 155.7 166.8C157.4 168.1 159 169.4 160.1 170.8C161.2 172.2 162.1 173.9 162.3 175.3C162.5 176.7 162 178.2 161.4 179.3C160.7 180.5 159.6 181.6 158.4 182.2C157.2 182.8 155 182.2 154.4 183C153.8 183.8 154.7 185.5 154.6 186.8C154.5 188.1 154.2 189.5 153.7 190.8C153.2 192.1 153.1 193.3 151.7 194.4C150.3 195.5 147.7 196.5 145.1 197.6C142.5 198.7 138.9 199.9 136.1 201C133.3 202.1 130.1 203.3 128.1 204C126.2 204.7 126.5 205.4 124.4 205.3C122.3 205.2 116.8 207.2 115.4 203.3C114 199.4 114.5 185.7 116.1 181.8C117.7 177.9 122.6 180.6 125.1 179.8Z"/></clipPath><linearGradient id="mp53" gradientUnits="userSpaceOnUse" x1="116.4" y1="0" x2="128.4" y2="0"><stop offset="0" stop-color="#000"/><stop offset="1" stop-color="#fff"/></linearGradient><mask id="kp53" maskUnits="userSpaceOnUse" x="112.4" y="149.8" width="70" height="80"><rect x="112.4" y="149.8" width="70" height="80" fill="url(#mp53)"/></mask><g mask="url(#kp53)"><path d="M125.1 179.8C127.6 179.1 129.6 178.5 131.1 177.3C132.7 176.1 133.7 174.5 134.4 172.8C135.2 171.1 134.9 168.9 135.6 167.3C136.3 165.7 137.3 164.1 138.6 163.1C139.9 162.1 141.6 161.4 143.5 161.4C145.4 161.4 148.1 162.2 150.1 163.1C152.1 164 154 165.5 155.7 166.8C157.4 168.1 159 169.4 160.1 170.8C161.2 172.2 162.1 173.9 162.3 175.3C162.5 176.7 162 178.2 161.4 179.3C160.7 180.5 159.6 181.6 158.4 182.2C157.2 182.8 155 182.2 154.4 183C153.8 183.8 154.7 185.5 154.6 186.8C154.5 188.1 154.2 189.5 153.7 190.8C153.2 192.1 153.1 193.3 151.7 194.4C150.3 195.5 147.7 196.5 145.1 197.6C142.5 198.7 138.9 199.9 136.1 201C133.3 202.1 130.1 203.3 128.1 204C126.2 204.7 126.5 205.4 124.4 205.3C122.3 205.2 116.8 207.2 115.4 203.3C114 199.4 114.5 185.7 116.1 181.8C117.7 177.9 122.6 180.6 125.1 179.8Z" fill="url(#gKnob)"/><g clip-path="url(#p53)"><path d="M125.1 179.8C126.1 179.4 129.6 178.5 131.1 177.3C132.7 176.1 133.7 174.5 134.4 172.8C135.2 171.1 134.9 168.9 135.6 167.3C136.3 165.7 137.3 164.1 138.6 163.1C139.9 162.1 141.6 161.4 143.5 161.4C145.4 161.4 148.1 162.2 150.1 163.1C152.1 164 154 165.5 155.7 166.8C157.4 168.1 159 169.4 160.1 170.8C161.2 172.2 162.1 173.9 162.3 175.3C162.5 176.7 162 178.2 161.4 179.3C160.7 180.5 159.6 181.6 158.4 182.2C157.2 182.8 155 182.2 154.4 183C153.8 183.8 154.7 185.5 154.6 186.8C154.5 188.1 154.2 189.5 153.7 190.8C153.2 192.1 153.1 193.3 151.7 194.4C150.3 195.5 147.7 196.5 145.1 197.6C142.5 198.7 138.9 199.9 136.1 201C133.3 202.1 130.1 203.3 128.1 204C126.2 204.7 125 205.1 124.4 205.3" fill="none" stroke="#7c6d62" stroke-width="5" opacity="0.5" filter="url(#b15)"/><path d="M132.6 179.5C133.9 178.9 137.6 176.6 140.1 175.8C142.6 175 145.6 174.4 147.6 174.6C149.6 174.8 151 175.4 152.1 176.8C153.2 178.2 154 182 154.4 183" fill="none" stroke="#7c6d62" stroke-width="3" opacity="0.5" filter="url(#b1)" transform="translate(0,1.8)"/><path d="M132.6 179.5C133.9 178.9 137.6 176.6 140.1 175.8C142.6 175 145.6 174.4 147.6 174.6C149.6 174.8 151 175.4 152.1 176.8C153.2 178.2 154 182 154.4 183" fill="none" stroke="#ebe6df" stroke-width="2.4" opacity="0.6" filter="url(#b1)" transform="translate(-1,7)"/></g></g><path d="M125.1 179.8C126.1 179.4 129.6 178.5 131.1 177.3C132.7 176.1 133.7 174.5 134.4 172.8C135.2 171.1 134.9 168.9 135.6 167.3C136.3 165.7 137.3 164.1 138.6 163.1C139.9 162.1 141.6 161.4 143.5 161.4C145.4 161.4 148.1 162.2 150.1 163.1C152.1 164 154 165.5 155.7 166.8C157.4 168.1 159 169.4 160.1 170.8C161.2 172.2 162.1 173.9 162.3 175.3C162.5 176.7 162 178.2 161.4 179.3C160.7 180.5 159.6 181.6 158.4 182.2C157.2 182.8 155 182.2 154.4 183C153.8 183.8 154.7 185.5 154.6 186.8C154.5 188.1 154.2 189.5 153.7 190.8C153.2 192.1 153.1 193.3 151.7 194.4C150.3 195.5 147.7 196.5 145.1 197.6C142.5 198.7 138.9 199.9 136.1 201C133.3 202.1 130.1 203.3 128.1 204C126.2 204.7 125 205.1 124.4 205.3" fill="none" stroke="#5d4936" stroke-width="0.9" stroke-linecap="round" stroke-linejoin="round"/><path d="M132.6 179.5C133.9 178.9 137.6 176.6 140.1 175.8C142.6 175 145.6 174.4 147.6 174.6C149.6 174.8 151 175.4 152.1 176.8C153.2 178.2 154 182 154.4 183" fill="none" stroke="#5d4936" stroke-width="0.8" stroke-linecap="round"/><ellipse cx="145.5" cy="169.4" rx="6" ry="4.5" fill="#eee9e2" opacity="0.7" filter="url(#b15)"/><clipPath id="p54"><path d="M125.6 229.8C128.1 229.1 130 228.5 131.6 227.3C133.1 226.1 134.1 224.5 134.9 222.8C135.6 221.1 135.4 218.9 136.1 217.3C136.8 215.7 137.8 214.1 139.1 213.1C140.4 212.1 142.1 211.4 144 211.4C145.9 211.4 148.6 212.2 150.6 213.1C152.6 214 154.5 215.5 156.2 216.8C157.9 218.1 159.5 219.4 160.6 220.8C161.7 222.2 162.6 223.9 162.8 225.3C163 226.7 162.5 228.2 161.9 229.3C161.2 230.5 160.1 231.6 158.9 232.2C157.7 232.8 155.5 232.2 154.9 233C154.3 233.8 155.2 235.5 155.1 236.8C155 238.1 154.7 239.5 154.2 240.8C153.7 242.1 153.6 243.3 152.2 244.4C150.8 245.5 148.2 246.5 145.6 247.6C143 248.7 139.4 249.9 136.6 251C133.8 252.1 130.5 253.3 128.6 254C126.6 254.7 127 255.4 124.9 255.3C122.8 255.2 117.3 257.2 115.9 253.3C114.5 249.4 115 235.7 116.6 231.8C118.2 227.9 123.1 230.6 125.6 229.8Z"/></clipPath><linearGradient id="mp54" gradientUnits="userSpaceOnUse" x1="116.9" y1="0" x2="128.9" y2="0"><stop offset="0" stop-color="#000"/><stop offset="1" stop-color="#fff"/></linearGradient><mask id="kp54" maskUnits="userSpaceOnUse" x="112.9" y="199.8" width="70" height="80"><rect x="112.9" y="199.8" width="70" height="80" fill="url(#mp54)"/></mask><g mask="url(#kp54)"><path d="M125.6 229.8C128.1 229.1 130 228.5 131.6 227.3C133.1 226.1 134.1 224.5 134.9 222.8C135.6 221.1 135.4 218.9 136.1 217.3C136.8 215.7 137.8 214.1 139.1 213.1C140.4 212.1 142.1 211.4 144 211.4C145.9 211.4 148.6 212.2 150.6 213.1C152.6 214 154.5 215.5 156.2 216.8C157.9 218.1 159.5 219.4 160.6 220.8C161.7 222.2 162.6 223.9 162.8 225.3C163 226.7 162.5 228.2 161.9 229.3C161.2 230.5 160.1 231.6 158.9 232.2C157.7 232.8 155.5 232.2 154.9 233C154.3 233.8 155.2 235.5 155.1 236.8C155 238.1 154.7 239.5 154.2 240.8C153.7 242.1 153.6 243.3 152.2 244.4C150.8 245.5 148.2 246.5 145.6 247.6C143 248.7 139.4 249.9 136.6 251C133.8 252.1 130.5 253.3 128.6 254C126.6 254.7 127 255.4 124.9 255.3C122.8 255.2 117.3 257.2 115.9 253.3C114.5 249.4 115 235.7 116.6 231.8C118.2 227.9 123.1 230.6 125.6 229.8Z" fill="url(#gKnob)"/><g clip-path="url(#p54)"><path d="M125.6 229.8C126.6 229.4 130 228.5 131.6 227.3C133.1 226.1 134.1 224.5 134.9 222.8C135.6 221.1 135.4 218.9 136.1 217.3C136.8 215.7 137.8 214.1 139.1 213.1C140.4 212.1 142.1 211.4 144 211.4C145.9 211.4 148.6 212.2 150.6 213.1C152.6 214 154.5 215.5 156.2 216.8C157.9 218.1 159.5 219.4 160.6 220.8C161.7 222.2 162.6 223.9 162.8 225.3C163 226.7 162.5 228.2 161.9 229.3C161.2 230.5 160.1 231.6 158.9 232.2C157.7 232.8 155.5 232.2 154.9 233C154.3 233.8 155.2 235.5 155.1 236.8C155 238.1 154.7 239.5 154.2 240.8C153.7 242.1 153.6 243.3 152.2 244.4C150.8 245.5 148.2 246.5 145.6 247.6C143 248.7 139.4 249.9 136.6 251C133.8 252.1 130.5 253.3 128.6 254C126.6 254.7 125.5 255.1 124.9 255.3" fill="none" stroke="#7c6d62" stroke-width="5" opacity="0.5" filter="url(#b15)"/><path d="M133.1 229.5C134.3 228.9 138.1 226.6 140.6 225.8C143.1 225 146.1 224.4 148.1 224.6C150.1 224.8 151.5 225.4 152.6 226.8C153.7 228.2 154.5 232 154.9 233" fill="none" stroke="#7c6d62" stroke-width="3" opacity="0.5" filter="url(#b1)" transform="translate(0,1.8)"/><path d="M133.1 229.5C134.3 228.9 138.1 226.6 140.6 225.8C143.1 225 146.1 224.4 148.1 224.6C150.1 224.8 151.5 225.4 152.6 226.8C153.7 228.2 154.5 232 154.9 233" fill="none" stroke="#ebe6df" stroke-width="2.4" opacity="0.6" filter="url(#b1)" transform="translate(-1,7)"/></g></g><path d="M125.6 229.8C126.6 229.4 130 228.5 131.6 227.3C133.1 226.1 134.1 224.5 134.9 222.8C135.6 221.1 135.4 218.9 136.1 217.3C136.8 215.7 137.8 214.1 139.1 213.1C140.4 212.1 142.1 211.4 144 211.4C145.9 211.4 148.6 212.2 150.6 213.1C152.6 214 154.5 215.5 156.2 216.8C157.9 218.1 159.5 219.4 160.6 220.8C161.7 222.2 162.6 223.9 162.8 225.3C163 226.7 162.5 228.2 161.9 229.3C161.2 230.5 160.1 231.6 158.9 232.2C157.7 232.8 155.5 232.2 154.9 233C154.3 233.8 155.2 235.5 155.1 236.8C155 238.1 154.7 239.5 154.2 240.8C153.7 242.1 153.6 243.3 152.2 244.4C150.8 245.5 148.2 246.5 145.6 247.6C143 248.7 139.4 249.9 136.6 251C133.8 252.1 130.5 253.3 128.6 254C126.6 254.7 125.5 255.1 124.9 255.3" fill="none" stroke="#5d4936" stroke-width="0.9" stroke-linecap="round" stroke-linejoin="round"/><path d="M133.1 229.5C134.3 228.9 138.1 226.6 140.6 225.8C143.1 225 146.1 224.4 148.1 224.6C150.1 224.8 151.5 225.4 152.6 226.8C153.7 228.2 154.5 232 154.9 233" fill="none" stroke="#5d4936" stroke-width="0.8" stroke-linecap="round"/><ellipse cx="146" cy="219.4" rx="6" ry="4.5" fill="#eee9e2" opacity="0.7" filter="url(#b15)"/><g transform="rotate(-12.6 56 99)"><rect x="40" y="70" width="150" height="40" fill="url(#fadeTop1)"/></g><rect x="38" y="305" width="170" height="22" fill="url(#fadeBot)"/><path d="M169.2 314.3c.8-2.2 2.2-5 3.600-6.200c.9 1.300-.6 3.800-2 5.600c-.8 1-1.800 1.600-2.200 1.200c-.3-.5 .8-1.300 2-1.700c1.500-.5 2.600-.7 3.400-1.500c.3-.3 .8-.4 .6 .2c-.2 .6-.6 1.300 0 1.400c.6 .1 1.100-.8 1.700-1.300c.4-.3 .8-.2 .7 .3c-.1 .6 .1 1 .7 .8c.8-.3 1.300-1.200 2.100-1.300c.5 0 .3 .7 .8 .8c.8 .1 1.700-.6 2.600-.8c1-.2 2.200 .1 3.200-.2m5.800-2.300c-1.600-1.500-4.200-.3-4.300 1.700c-.1 2 2.600 2.700 5.200 1.700m.8-.1l.3 .1" fill="none" stroke="#45424e" stroke-width="0.75" stroke-linecap="round" stroke-linejoin="round" opacity="0.92"/><line x1="50.7" y1="195.1" x2="67.5" y2="195.1" stroke="#9a9a9a" stroke-width="0.9"/><line x1="50.7" y1="219.4" x2="67.5" y2="219.4" stroke="#9a9a9a" stroke-width="0.9"/><line x1="59.2" y1="198.1" x2="59.2" y2="216.4" stroke="#d3202f" stroke-width="1"/><path d="M59.2 196.1l-1.700 4.200h3.400z" fill="#d3202f"/><path d="M59.2 218.4l-1.700-4.200h3.400z" fill="#d3202f"/></g>
<g id="spine2"><use href="#tplA" transform="translate(-189 1)"/><clipPath id="balc"><path d="M248.3 202.4C248.5 200.7 249.2 198.2 250.2 196.5C251.1 194.8 252.4 193.4 254 192.3C255.6 191.2 258 190.7 260 190.2C262 189.7 264 189.5 266 189.4C268 189.3 270 189.5 272 189.6C274 189.7 276.2 189.8 278 190.2C279.8 190.6 281.6 191.2 283 192C284.4 192.8 285.5 193.8 286.4 195C287.3 196.2 288 197.9 288.3 199.5C288.6 201.1 288.6 203 288.2 204.5C287.8 206 287.1 207.3 286.2 208.3C285.3 209.3 284.3 210 283 210.6C281.7 211.2 279.9 211.6 278.5 211.8C277.1 212 275.9 212 274.5 211.8C273.1 211.6 271.4 211 270 210.8C268.6 210.6 267.3 210.3 266 210.4C264.7 210.5 263.3 211.2 262 211.6C260.7 212 259.2 212.9 258 213C256.8 213.1 255.6 212.8 254.5 212.3C253.4 211.8 252.1 211 251.2 210C250.3 209 249.5 207.8 249 206.5C248.5 205.2 248.1 204.1 248.3 202.4Z"/></clipPath><path d="M248.3 202.4C248.5 200.7 249.2 198.2 250.2 196.5C251.1 194.8 252.4 193.4 254 192.3C255.6 191.2 258 190.7 260 190.2C262 189.7 264 189.5 266 189.4C268 189.3 270 189.5 272 189.6C274 189.7 276.2 189.8 278 190.2C279.8 190.6 281.6 191.2 283 192C284.4 192.8 285.5 193.8 286.4 195C287.3 196.2 288 197.9 288.3 199.5C288.6 201.1 288.6 203 288.2 204.5C287.8 206 287.1 207.3 286.2 208.3C285.3 209.3 284.3 210 283 210.6C281.7 211.2 279.9 211.6 278.5 211.8C277.1 212 275.9 212 274.5 211.8C273.1 211.6 271.4 211 270 210.8C268.6 210.6 267.3 210.3 266 210.4C264.7 210.5 263.3 211.2 262 211.6C260.7 212 259.2 212.9 258 213C256.8 213.1 255.6 212.8 254.5 212.3C253.4 211.8 252.1 211 251.2 210C250.3 209 249.5 207.8 249 206.5C248.5 205.2 248.1 204.1 248.3 202.4Z" fill="#b9b3e1"/><g clip-path="url(#balc)"><path d="M248.3 202.4C248.5 200.7 249.2 198.2 250.2 196.5C251.1 194.8 252.4 193.4 254 192.3C255.6 191.2 258 190.7 260 190.2C262 189.7 264 189.5 266 189.4C268 189.3 270 189.5 272 189.6C274 189.7 276.2 189.8 278 190.2C279.8 190.6 281.6 191.2 283 192C284.4 192.8 285.5 193.8 286.4 195C287.3 196.2 288 197.9 288.3 199.5C288.6 201.1 288.6 203 288.2 204.5C287.8 206 287.1 207.3 286.2 208.3C285.3 209.3 284.3 210 283 210.6C281.7 211.2 279.9 211.6 278.5 211.8C277.1 212 275.9 212 274.5 211.8C273.1 211.6 271.4 211 270 210.8C268.6 210.6 267.3 210.3 266 210.4C264.7 210.5 263.3 211.2 262 211.6C260.7 212 259.2 212.9 258 213C256.8 213.1 255.6 212.8 254.5 212.3C253.4 211.8 252.1 211 251.2 210C250.3 209 249.5 207.8 249 206.5C248.5 205.2 248.1 204.1 248.3 202.4Z" fill="none" stroke="#7a76b6" stroke-width="4" opacity="0.7" filter="url(#b15)"/><ellipse cx="266" cy="195.500" rx="14" ry="3.500" fill="#dad8f3" opacity="0.85" filter="url(#b15)" transform="rotate(-6 266 195.500)"/><ellipse cx="270" cy="207" rx="12" ry="2.500" fill="#cdcaec" opacity="0.7" filter="url(#b1)" transform="rotate(-6 270 207)"/></g><line x1="249" y1="203.700" x2="286" y2="198.600" stroke="#7d7a96" stroke-width="1.1"/><path d="M248.3 202.4C248.5 200.7 249.2 198.2 250.2 196.5C251.1 194.8 252.4 193.4 254 192.3C255.6 191.2 258 190.7 260 190.2C262 189.7 264 189.5 266 189.4C268 189.3 270 189.5 272 189.6C274 189.7 276.2 189.8 278 190.2C279.8 190.6 281.6 191.2 283 192C284.4 192.8 285.5 193.8 286.4 195C287.3 196.2 288 197.9 288.3 199.5C288.6 201.1 288.6 203 288.2 204.5C287.8 206 287.1 207.3 286.2 208.3C285.3 209.3 284.3 210 283 210.6C281.7 211.2 279.9 211.6 278.5 211.8C277.1 212 275.9 212 274.5 211.8C273.1 211.6 271.4 211 270 210.8C268.6 210.6 267.3 210.3 266 210.4C264.7 210.5 263.3 211.2 262 211.6C260.7 212 259.2 212.9 258 213C256.8 213.1 255.6 212.8 254.5 212.3C253.4 211.8 252.1 211 251.2 210C250.3 209 249.5 207.8 249 206.5C248.5 205.2 248.1 204.1 248.3 202.4Z" fill="none" stroke="#54425a" stroke-width="0.9"/><path d="M245.600 204.300l3.300-.6.200 1.400-3.300.5z" fill="#9a9a9a" stroke="#666" stroke-width="0.4"/><line x1="217.2" y1="181.2" x2="233.7" y2="181.2" stroke="#9a9a9a" stroke-width="0.9"/><line x1="217.2" y1="225" x2="233.7" y2="225" stroke="#9a9a9a" stroke-width="0.9"/><line x1="225.2" y1="185.2" x2="225.2" y2="221" stroke="#d3202f" stroke-width="0.9" stroke-dasharray="1 1" opacity="0.75"/><line x1="225.2" y1="184.2" x2="225.2" y2="191.2" stroke="#d3202f" stroke-width="1"/><line x1="225.2" y1="215" x2="225.2" y2="222" stroke="#d3202f" stroke-width="1"/><path d="M225.2 182.2l-1.700 4.200h3.400z" fill="#d3202f"/><path d="M225.2 224l-1.700-4.200h3.400z" fill="#d3202f"/><use href="#tplB" transform="translate(-189 1)"/><g opacity="0.92"><g transform="translate(288.3 198.9) rotate(-7.56)"><defs><linearGradient id="nga0" x1="0" y1="0" x2="0" y2="1"><stop offset="0" stop-color="#e3e3e3"/><stop offset="0.35" stop-color="#b9b9b9"/><stop offset="0.75" stop-color="#8a8a8a"/><stop offset="1" stop-color="#5e5e5e"/></linearGradient></defs><path d="M0 -2.6L21.3 -2.5L21.3 2.5L0 2.6Z" fill="url(#nga0)" stroke="#555" stroke-width="0.5"/></g></g><g transform="translate(309.2 196.1) rotate(-7.76)"><defs><linearGradient id="nga" x1="0" y1="0" x2="0" y2="1"><stop offset="0" stop-color="#e3e3e3"/><stop offset="0.35" stop-color="#b9b9b9"/><stop offset="0.75" stop-color="#8a8a8a"/><stop offset="1" stop-color="#5e5e5e"/></linearGradient></defs><path d="M0 -2.1L5.5 -2.1L5.5 2.1L0 2.1Z" fill="url(#nga)" stroke="#555" stroke-width="0.5"/><path d="M11.5 -2.1L107.4 -1.6L107.4 1.6L11.5 2.1Z" fill="url(#nga)" stroke="#555" stroke-width="0.5"/><line x1="20" y1="-2" x2="20" y2="2" stroke="#4a4a4a" stroke-width="0.7"/><line x1="20.8" y1="-1.7" x2="20.8" y2="1.4" stroke="#efefef" stroke-width="0.6" opacity="0.8"/><line x1="42" y1="-1.9" x2="42" y2="1.9" stroke="#4a4a4a" stroke-width="0.7"/><line x1="42.8" y1="-1.6" x2="42.8" y2="1.3" stroke="#efefef" stroke-width="0.6" opacity="0.8"/><line x1="66" y1="-1.8" x2="66" y2="1.8" stroke="#4a4a4a" stroke-width="0.7"/><line x1="66.8" y1="-1.5" x2="66.8" y2="1.2" stroke="#efefef" stroke-width="0.6" opacity="0.8"/><line x1="91" y1="-1.7" x2="91" y2="1.7" stroke="#4a4a4a" stroke-width="0.7"/><line x1="91.8" y1="-1.4" x2="91.8" y2="1.1" stroke="#efefef" stroke-width="0.6" opacity="0.8"/></g><path d="M315 186.8C315.6 185.6 317.5 186.8 318.4 187.6C319.3 188.4 319.9 190.3 320.2 191.8C320.5 193.3 320.6 195.2 320.4 196.8C320.2 198.4 319.9 200.2 319.2 201.3C318.5 202.4 317.1 203.4 316.2 203.3C315.3 203.2 314.3 202.2 314 200.8C313.7 199.4 314.4 197.1 314.6 194.8C314.8 192.5 314.4 188 315 186.8Z" fill="#cfc6bc"/><path d="M315 186.8C315.6 186.9 317.5 186.8 318.4 187.6C319.3 188.4 319.9 190.3 320.2 191.8C320.5 193.3 320.6 195.2 320.4 196.8C320.2 198.4 319.9 200.2 319.2 201.3C318.5 202.4 316.7 203 316.2 203.3" fill="none" stroke="#5d4936" stroke-width="0.8"/><ellipse cx="316.9" cy="194.3" rx="1.3" ry="5" fill="#e6e0d8" opacity="0.7" filter="url(#b05)"/><rect x="231" y="65" width="110" height="34" fill="url(#fadeTop)"/><rect x="221" y="311" width="170" height="22" fill="url(#fadeBot)"/><path d="M337 320.5c.8-2.2 2.2-5 3.600-6.200c.9 1.300-.6 3.800-2 5.600c-.8 1-1.800 1.600-2.200 1.200c-.3-.5 .8-1.300 2-1.700c1.500-.5 2.600-.7 3.400-1.500c.3-.3 .8-.4 .6 .2c-.2 .6-.6 1.300 0 1.400c.6 .1 1.100-.8 1.700-1.300c.4-.3 .8-.2 .7 .3c-.1 .6 .1 1 .7 .8c.8-.3 1.300-1.200 2.100-1.300c.5 0 .3 .7 .8 .8c.8 .1 1.700-.6 2.600-.8c1-.2 2.200 .1 3.200-.2m5.800-2.300c-1.600-1.500-4.200-.3-4.300 1.700c-.1 2 2.600 2.700 5.200 1.700m.8-.1l.3 .1" fill="none" stroke="#45424e" stroke-width="0.75" stroke-linecap="round" stroke-linejoin="round" opacity="0.92"/><line x1="272.300" y1="196.600" x2="357.500" y2="149.400" stroke="#111" stroke-width="1.100"/><circle cx="272.300" cy="196.600" r="1.700" fill="#111"/></g>
<g id="spine3"><use href="#tplA" transform="translate(0 0)"/><clipPath id="cav0"><path d="M435.4 201C435.4 199.5 435.8 197.5 436.6 196C437.4 194.5 438.3 192.9 440 191.8C441.7 190.7 444.3 190.1 447 189.6C449.7 189.1 453 188.9 456 188.8C459 188.7 462.2 188.9 465 189.2C467.8 189.5 470.6 189.8 472.5 190.6C474.4 191.4 475.5 192.5 476.4 193.8C477.3 195.1 477.6 196.8 477.8 198.5C478 200.2 477.9 202.3 477.4 204C476.9 205.7 476.2 207.2 474.6 208.4C473 209.6 471.1 210.3 468 210.9C464.9 211.5 459.7 212.1 456 212.1C452.3 212.1 448.8 211.6 446 211C443.2 210.4 441.1 209.6 439.5 208.6C437.9 207.6 437 206.3 436.3 205C435.6 203.7 435.3 202.5 435.4 201Z"/></clipPath><path d="M435.4 201C435.4 199.5 435.8 197.5 436.6 196C437.4 194.5 438.3 192.9 440 191.8C441.7 190.7 444.3 190.1 447 189.6C449.7 189.1 453 188.9 456 188.8C459 188.7 462.2 188.9 465 189.2C467.8 189.5 470.6 189.8 472.5 190.6C474.4 191.4 475.5 192.5 476.4 193.8C477.3 195.1 477.6 196.8 477.8 198.5C478 200.2 477.9 202.3 477.4 204C476.9 205.7 476.2 207.2 474.6 208.4C473 209.6 471.1 210.3 468 210.9C464.9 211.5 459.7 212.1 456 212.1C452.3 212.1 448.8 211.6 446 211C443.2 210.4 441.1 209.6 439.5 208.6C437.9 207.6 437 206.3 436.3 205C435.6 203.7 435.3 202.5 435.4 201Z" fill="#6b5c52"/><g clip-path="url(#cav0)"><ellipse cx="460.1" cy="202.5" rx="16.500" ry="7.800" fill="#bbb2a8" opacity="1" filter="url(#b2)"/><ellipse cx="462.1" cy="203.3" rx="11.500" ry="5" fill="#cbc3b9" opacity="0.9" filter="url(#b15)"/><circle cx="453.6" cy="201.3" r="1.6" fill="#8f8278" opacity="0.3" filter="url(#b05)"/><circle cx="460.6" cy="199.3" r="1.3" fill="#d9d2c9" opacity="0.4" filter="url(#b05)"/><circle cx="465.6" cy="204.3" r="1.5" fill="#948980" opacity="0.28" filter="url(#b05)"/><circle cx="468.6" cy="200.3" r="1.2" fill="#d6cec5" opacity="0.35" filter="url(#b05)"/><circle cx="456.6" cy="205.3" r="1.2" fill="#dad3ca" opacity="0.35" filter="url(#b05)"/><circle cx="448.6" cy="204.3" r="1.5" fill="#7e7168" opacity="0.3" filter="url(#b05)"/><circle cx="463.6" cy="201.3" r="1.1" fill="#9c9187" opacity="0.3" filter="url(#b05)"/><circle cx="455.6" cy="198.3" r="1.1" fill="#a3988e" opacity="0.3" filter="url(#b05)"/><path d="M435.4 201C435.4 199.5 435.8 197.5 436.6 196C437.4 194.5 438.3 192.9 440 191.8C441.7 190.7 444.3 190.1 447 189.6C449.7 189.1 453 188.9 456 188.8C459 188.7 462.2 188.9 465 189.2C467.8 189.5 470.6 189.8 472.5 190.6C474.4 191.4 475.5 192.5 476.4 193.8C477.3 195.1 477.6 196.8 477.8 198.5C478 200.2 477.9 202.3 477.4 204C476.9 205.7 476.2 207.2 474.6 208.4C473 209.6 471.1 210.3 468 210.9C464.9 211.5 459.7 212.1 456 212.1C452.3 212.1 448.8 211.6 446 211C443.2 210.4 441.1 209.6 439.5 208.6C437.9 207.6 437 206.3 436.3 205C435.6 203.7 435.3 202.5 435.4 201Z" fill="none" stroke="#46392f" stroke-width="3" opacity="0.7" filter="url(#b1)"/></g><path d="M435.4 201C435.4 199.5 435.8 197.5 436.6 196C437.4 194.5 438.3 192.9 440 191.8C441.7 190.7 444.3 190.1 447 189.6C449.7 189.1 453 188.9 456 188.8C459 188.7 462.2 188.9 465 189.2C467.8 189.5 470.6 189.8 472.5 190.6C474.4 191.4 475.5 192.5 476.4 193.8C477.3 195.1 477.6 196.8 477.8 198.5C478 200.2 477.9 202.3 477.4 204C476.9 205.7 476.2 207.2 474.6 208.4C473 209.6 471.1 210.3 468 210.9C464.9 211.5 459.7 212.1 456 212.1C452.3 212.1 448.8 211.6 446 211C443.2 210.4 441.1 209.6 439.5 208.6C437.9 207.6 437 206.3 436.3 205C435.6 203.7 435.3 202.5 435.4 201Z" fill="none" stroke="#4f4034" stroke-width="0.9"/><use href="#tplB" transform="translate(0 0)"/><rect x="420" y="64" width="110" height="34" fill="url(#fadeTop)"/><rect x="410" y="310" width="170" height="22" fill="url(#fadeBot)"/><path d="M526 319.5c.8-2.2 2.2-5 3.600-6.200c.9 1.300-.6 3.800-2 5.600c-.8 1-1.800 1.600-2.200 1.200c-.3-.5 .8-1.300 2-1.700c1.500-.5 2.600-.7 3.400-1.500c.3-.3 .8-.4 .6 .2c-.2 .6-.6 1.300 0 1.400c.6 .1 1.100-.8 1.700-1.300c.4-.3 .8-.2 .7 .3c-.1 .6 .1 1 .7 .8c.8-.3 1.300-1.200 2.100-1.300c.5 0 .3 .7 .8 .8c.8 .1 1.700-.6 2.600-.8c1-.2 2.200 .1 3.200-.2m5.800-2.300c-1.600-1.500-4.200-.3-4.300 1.700c-.1 2 2.600 2.700 5.200 1.700m.8-.1l.3 .1" fill="none" stroke="#45424e" stroke-width="0.75" stroke-linecap="round" stroke-linejoin="round" opacity="0.92"/><line x1="422.800" y1="231.500" x2="453" y2="203.700" stroke="#111" stroke-width="1.100"/><circle cx="453.200" cy="203.600" r="1.700" fill="#111"/></g>
<g id="spine4"><use href="#tplA" transform="translate(180 1)"/><clipPath id="cav180"><path d="M615.4 203C615.5 201.5 615.8 199.5 616.6 198C617.4 196.5 618.3 194.9 620 193.8C621.7 192.7 624.3 192.1 627 191.6C629.7 191.1 633 190.9 636 190.8C639 190.7 642.2 190.9 645 191.2C647.8 191.5 650.6 191.8 652.5 192.6C654.4 193.4 655.5 194.5 656.4 195.8C657.3 197.1 657.6 198.8 657.8 200.5C658 202.2 657.9 204.3 657.4 206C656.9 207.7 656.2 209.2 654.6 210.4C653 211.6 651.1 212.3 648 212.9C644.9 213.5 639.7 214.1 636 214.1C632.3 214.1 628.8 213.6 626 213C623.2 212.4 621.1 211.6 619.5 210.6C617.9 209.6 617 208.3 616.3 207C615.6 205.7 615.3 204.5 615.4 203Z"/></clipPath><path d="M615.4 203C615.5 201.5 615.8 199.5 616.6 198C617.4 196.5 618.3 194.9 620 193.8C621.7 192.7 624.3 192.1 627 191.6C629.7 191.1 633 190.9 636 190.8C639 190.7 642.2 190.9 645 191.2C647.8 191.5 650.6 191.8 652.5 192.6C654.4 193.4 655.5 194.5 656.4 195.8C657.3 197.1 657.6 198.8 657.8 200.5C658 202.2 657.9 204.3 657.4 206C656.9 207.7 656.2 209.2 654.6 210.4C653 211.6 651.1 212.3 648 212.9C644.9 213.5 639.7 214.1 636 214.1C632.3 214.1 628.8 213.6 626 213C623.2 212.4 621.1 211.6 619.5 210.6C617.9 209.6 617 208.3 616.3 207C615.6 205.7 615.3 204.5 615.4 203Z" fill="#6b5c52"/><g clip-path="url(#cav180)"><ellipse cx="640.1" cy="204.5" rx="16.500" ry="7.800" fill="#bbb2a8" opacity="1" filter="url(#b2)"/><ellipse cx="642.1" cy="205.3" rx="11.500" ry="5" fill="#cbc3b9" opacity="0.9" filter="url(#b15)"/><circle cx="633.6" cy="203.3" r="1.6" fill="#8f8278" opacity="0.3" filter="url(#b05)"/><circle cx="640.6" cy="201.3" r="1.3" fill="#d9d2c9" opacity="0.4" filter="url(#b05)"/><circle cx="645.6" cy="206.3" r="1.5" fill="#948980" opacity="0.28" filter="url(#b05)"/><circle cx="648.6" cy="202.3" r="1.2" fill="#d6cec5" opacity="0.35" filter="url(#b05)"/><circle cx="636.6" cy="207.3" r="1.2" fill="#dad3ca" opacity="0.35" filter="url(#b05)"/><circle cx="628.6" cy="206.3" r="1.5" fill="#7e7168" opacity="0.3" filter="url(#b05)"/><circle cx="643.6" cy="203.3" r="1.1" fill="#9c9187" opacity="0.3" filter="url(#b05)"/><circle cx="635.6" cy="200.3" r="1.1" fill="#a3988e" opacity="0.3" filter="url(#b05)"/><path d="M615.4 203C615.5 201.5 615.8 199.5 616.6 198C617.4 196.5 618.3 194.9 620 193.8C621.7 192.7 624.3 192.1 627 191.6C629.7 191.1 633 190.9 636 190.8C639 190.7 642.2 190.9 645 191.2C647.8 191.5 650.6 191.8 652.5 192.6C654.4 193.4 655.5 194.5 656.4 195.8C657.3 197.1 657.6 198.8 657.8 200.5C658 202.2 657.9 204.3 657.4 206C656.9 207.7 656.2 209.2 654.6 210.4C653 211.6 651.1 212.3 648 212.9C644.9 213.5 639.7 214.1 636 214.1C632.3 214.1 628.8 213.6 626 213C623.2 212.4 621.1 211.6 619.5 210.6C617.9 209.6 617 208.3 616.3 207C615.6 205.7 615.3 204.5 615.4 203Z" fill="none" stroke="#46392f" stroke-width="3" opacity="0.7" filter="url(#b1)"/></g><path d="M615.4 203C615.5 201.5 615.8 199.5 616.6 198C617.4 196.5 618.3 194.9 620 193.8C621.7 192.7 624.3 192.1 627 191.6C629.7 191.1 633 190.9 636 190.8C639 190.7 642.2 190.9 645 191.2C647.8 191.5 650.6 191.8 652.5 192.6C654.4 193.4 655.5 194.5 656.4 195.8C657.3 197.1 657.6 198.8 657.8 200.5C658 202.2 657.9 204.3 657.4 206C656.9 207.7 656.2 209.2 654.6 210.4C653 211.6 651.1 212.3 648 212.9C644.9 213.5 639.7 214.1 636 214.1C632.3 214.1 628.8 213.6 626 213C623.2 212.4 621.1 211.6 619.5 210.6C617.9 209.6 617 208.3 616.3 207C615.6 205.7 615.3 204.5 615.4 203Z" fill="none" stroke="#4f4034" stroke-width="0.9"/><clipPath id="cemc"><path d="M616 203.8C615.9 202.5 616.7 201.4 617.5 200.5C618.3 199.6 619.7 198.8 621 198.2C622.3 197.6 624.1 197.2 625.5 197C626.9 196.8 628.6 196.8 629.6 197.2C630.6 197.6 630.9 198.7 631.4 199.5C631.9 200.3 631.8 201.5 632.6 202.2C633.4 202.9 634.8 203.2 636 203.6C637.2 204 638.6 204.1 640 204.4C641.4 204.7 642.9 204.9 644.4 205.2C645.9 205.5 647.6 205.7 649 206C650.4 206.3 652.1 206.8 653 207.3C653.9 207.8 654.4 208.4 654.3 209C654.2 209.6 653.4 210.4 652.5 211C651.6 211.6 650.8 211.9 649 212.3C647.2 212.7 644.3 213.3 642 213.6C639.7 213.9 637.3 214.3 635 214.3C632.7 214.3 630.2 214.2 628 213.8C625.8 213.4 623.7 212.7 622 211.8C620.3 210.9 619 209.8 618 208.5C617 207.2 616.1 205.1 616 203.8Z"/></clipPath><path d="M616 203.8C615.9 202.5 616.7 201.4 617.5 200.5C618.3 199.6 619.7 198.8 621 198.2C622.3 197.6 624.1 197.2 625.5 197C626.9 196.8 628.6 196.8 629.6 197.2C630.6 197.6 630.9 198.7 631.4 199.5C631.9 200.3 631.8 201.5 632.6 202.2C633.4 202.9 634.8 203.2 636 203.6C637.2 204 638.6 204.1 640 204.4C641.4 204.7 642.9 204.9 644.4 205.2C645.9 205.5 647.6 205.7 649 206C650.4 206.3 652.1 206.8 653 207.3C653.9 207.8 654.4 208.4 654.3 209C654.2 209.6 653.4 210.4 652.5 211C651.6 211.6 650.8 211.9 649 212.3C647.2 212.7 644.3 213.3 642 213.6C639.7 213.9 637.3 214.3 635 214.3C632.7 214.3 630.2 214.2 628 213.8C625.8 213.4 623.7 212.7 622 211.8C620.3 210.9 619 209.8 618 208.5C617 207.2 616.1 205.1 616 203.8Z" fill="#f3f0e4"/><g clip-path="url(#cemc)"><path d="M616 203.8C615.9 202.5 616.7 201.4 617.5 200.5C618.3 199.6 619.7 198.8 621 198.2C622.3 197.6 624.1 197.2 625.5 197C626.9 196.8 628.6 196.8 629.6 197.2C630.6 197.6 630.9 198.7 631.4 199.5C631.9 200.3 631.8 201.5 632.6 202.2C633.4 202.9 634.8 203.2 636 203.6C637.2 204 638.6 204.1 640 204.4C641.4 204.7 642.9 204.9 644.4 205.2C645.9 205.5 647.6 205.7 649 206C650.4 206.3 652.1 206.8 653 207.3C653.9 207.8 654.4 208.4 654.3 209C654.2 209.6 653.4 210.4 652.5 211C651.6 211.6 650.8 211.9 649 212.3C647.2 212.7 644.3 213.3 642 213.6C639.7 213.9 637.3 214.3 635 214.3C632.7 214.3 630.2 214.2 628 213.8C625.8 213.4 623.7 212.7 622 211.8C620.3 210.9 619 209.8 618 208.5C617 207.2 616.1 205.1 616 203.8Z" fill="none" stroke="#b9b19c" stroke-width="2.5" opacity="0.6" filter="url(#b1)"/></g><path d="M616 203.8C615.9 202.5 616.7 201.4 617.5 200.5C618.3 199.6 619.7 198.8 621 198.2C622.3 197.6 624.1 197.2 625.5 197C626.9 196.8 628.6 196.8 629.6 197.2C630.6 197.6 630.9 198.7 631.4 199.5C631.9 200.3 631.8 201.5 632.6 202.2C633.4 202.9 634.8 203.2 636 203.6C637.2 204 638.6 204.1 640 204.4C641.4 204.7 642.9 204.9 644.4 205.2C645.9 205.5 647.6 205.7 649 206C650.4 206.3 652.1 206.8 653 207.3C653.9 207.8 654.4 208.4 654.3 209C654.2 209.6 653.4 210.4 652.5 211C651.6 211.6 650.8 211.9 649 212.3C647.2 212.7 644.3 213.3 642 213.6C639.7 213.9 637.3 214.3 635 214.3C632.7 214.3 630.2 214.2 628 213.8C625.8 213.4 623.7 212.7 622 211.8C620.3 210.9 619 209.8 618 208.5C617 207.2 616.1 205.1 616 203.8Z" fill="none" stroke="#6a5a4a" stroke-width="0.6" opacity="0.8"/><path d="M643.500 201.500L637.500 202.700" stroke="#d8232a" stroke-width="1" fill="none"/><path d="M634.600 203.300l3.600-2.400.6 3.300z" fill="#d8232a"/><use href="#tplB" transform="translate(180 1)"/><g transform="translate(644.4 202) rotate(-8.00)"><defs><linearGradient id="ngb" x1="0" y1="0" x2="0" y2="1"><stop offset="0" stop-color="#e3e3e3"/><stop offset="0.35" stop-color="#b9b9b9"/><stop offset="0.75" stop-color="#8a8a8a"/><stop offset="1" stop-color="#5e5e5e"/></linearGradient></defs><path d="M0 -2.1L38 -1.9L38 1.9L0 2.1Z" fill="url(#ngb)" stroke="#555" stroke-width="0.5"/><path d="M44 -1.9L119.3 -1.5L119.3 1.5L44 1.9Z" fill="url(#ngb)" stroke="#555" stroke-width="0.5"/><ellipse cx="0.3" cy="0" rx="1.2" ry="2.1" fill="#9a9a9a" stroke="#555" stroke-width="0.4"/><line x1="20.3" y1="-2" x2="20.3" y2="2" stroke="#4a4a4a" stroke-width="0.7"/><line x1="21.1" y1="-1.7" x2="21.1" y2="1.4" stroke="#efefef" stroke-width="0.6" opacity="0.8"/><line x1="62.7" y1="-1.8" x2="62.7" y2="1.8" stroke="#4a4a4a" stroke-width="0.7"/><line x1="63.5" y1="-1.5" x2="63.5" y2="1.2" stroke="#efefef" stroke-width="0.6" opacity="0.8"/><line x1="87.4" y1="-1.6" x2="87.4" y2="1.6" stroke="#4a4a4a" stroke-width="0.7"/><line x1="88.2" y1="-1.3" x2="88.2" y2="1" stroke="#efefef" stroke-width="0.6" opacity="0.8"/><line x1="111.2" y1="-1.5" x2="111.2" y2="1.5" stroke="#4a4a4a" stroke-width="0.7"/><line x1="112" y1="-1.2" x2="112" y2="0.9" stroke="#efefef" stroke-width="0.6" opacity="0.8"/><rect x="116.3" y="-2.5" width="5" height="4.9" fill="#fff" opacity="0.55"/></g><path d="M683 188.2C683.6 187 685.5 188.2 686.4 189C687.3 189.8 687.9 191.7 688.2 193.2C688.5 194.7 688.6 196.6 688.4 198.2C688.2 199.8 687.9 201.6 687.2 202.7C686.5 203.8 685.1 204.8 684.2 204.7C683.3 204.6 682.3 203.6 682 202.2C681.7 200.8 682.4 198.5 682.6 196.2C682.8 193.9 682.4 189.4 683 188.2Z" fill="#cfc6bc"/><path d="M683 188.2C683.6 188.3 685.5 188.2 686.4 189C687.3 189.8 687.9 191.7 688.2 193.2C688.5 194.7 688.6 196.6 688.4 198.2C688.2 199.8 687.9 201.6 687.2 202.7C686.5 203.8 684.7 204.4 684.2 204.7" fill="none" stroke="#5d4936" stroke-width="0.8"/><ellipse cx="684.9" cy="195.7" rx="1.3" ry="5" fill="#e6e0d8" opacity="0.7" filter="url(#b05)"/><rect x="600" y="65" width="110" height="34" fill="url(#fadeTop)"/><rect x="590" y="311" width="170" height="22" fill="url(#fadeBot)"/><path d="M706 320.5c.8-2.2 2.2-5 3.600-6.200c.9 1.300-.6 3.800-2 5.600c-.8 1-1.800 1.600-2.200 1.200c-.3-.5 .8-1.300 2-1.700c1.500-.5 2.600-.7 3.400-1.500c.3-.3 .8-.4 .6 .2c-.2 .6-.6 1.300 0 1.400c.6 .1 1.100-.8 1.700-1.300c.4-.3 .8-.2 .7 .3c-.1 .6 .1 1 .7 .8c.8-.3 1.300-1.200 2.100-1.300c.5 0 .3 .7 .8 .8c.8 .1 1.700-.6 2.600-.8c1-.2 2.200 .1 3.200-.2m5.800-2.300c-1.600-1.500-4.200-.3-4.300 1.700c-.1 2 2.600 2.700 5.200 1.700m.8-.1l.3 .1" fill="none" stroke="#45424e" stroke-width="0.75" stroke-linecap="round" stroke-linejoin="round" opacity="0.92"/><line x1="604" y1="196.200" x2="625.700" y2="206.400" stroke="#111" stroke-width="1.100"/><circle cx="625.700" cy="206.400" r="1.700" fill="#111"/></g>
<text x="17.4" y="28.3" font-size="11.6" text-anchor="start" fill="#3b3b3b" textLength="48.3" lengthAdjust="spacingAndGlyphs">국립암센터</text>
<text x="18.2" y="35" font-size="3.5" text-anchor="start" fill="#5a5a5a" font-family="&quot;Liberation Serif&quot;, serif" textLength="48" lengthAdjust="spacingAndGlyphs">NATIONAL CANCER CENTER</text>
<text x="115.3" y="28.3" font-size="11.6" text-anchor="start" fill="#3b3b3b" textLength="60.7" lengthAdjust="spacingAndGlyphs">국가암정보센터</text>
<text x="116.2" y="34.4" font-size="3.7" text-anchor="start" fill="#5a5a5a" textLength="60.5" lengthAdjust="spacingAndGlyphs">National Cancer Information Center</text>
<clipPath id="leafc"><path d="M84.500 17.100C80.500 17.400 75.500 19.500 72.300 23C69.500 26.200 68.300 30.300 69.700 32.800C71 35 74 35.400 76.800 34C80 32.300 82.600 29 83.800 25C84.700 22 84.800 19.300 84.500 17.100Z"/></clipPath><g clip-path="url(#leafc)"><rect x="66" y="14" width="22" height="24" fill="#1671c9"/><path d="M76.6 25.9L72 21.500L66 22L66 38L70.500 34.500Z" fill="#e0212b"/><path d="M76.6 25.9L71.800 21.700L66 22L66 12L86 12L85 16.500Z" fill="#f6b400"/><path d="M76.6 25.9L85 16.500L88 16L88 30L82 27.500Z" fill="#20a25b"/></g><defs><linearGradient id="lg2" x1="0" y1="0" x2="0" y2="1"><stop offset="0" stop-color="#2d63c9"/><stop offset="1" stop-color="#172f8f"/></linearGradient></defs><path d="M95.200 19.800C92.200 20.800 90.300 23.800 90.600 27.200C90.900 30.600 93 33.600 96.300 34.900C97.300 33.600 97.800 32.300 98 31C95.600 30.300 93.800 28.400 93.600 26C93.400 23.600 94.200 21.400 95.200 19.800Z" fill="url(#lg2)"/><path d="M101.800 20.300C99.500 23.500 98 27.500 97.800 31C97.700 32.600 97.200 34 96.300 35.100C98.300 35.600 100.300 35.300 101.500 34.300C100.600 30 100.700 25 101.800 20.300Z" fill="url(#lg2)"/><path d="M103.300 20.800C105.500 18.300 109.300 18.300 111.300 20.800C113.300 23.400 113 27.800 110.500 31C108.300 33.800 105 35.400 102.300 35.200C102 33.300 102.100 31.500 102.600 29.800C104.600 31 107 30.300 108.300 28.300C109.600 26.300 109.300 23.800 107.800 22.800C106.300 21.800 104.500 22.500 103.400 24.300C103.100 23 103 21.800 103.300 20.800Z" fill="url(#lg2)"/><path d="M99.300 19.300C98.300 18 98.800 16.300 100.300 15.800C101.500 15.400 102.600 16 102.900 17" fill="none" stroke="#20a6b8" stroke-width="1.300" stroke-linecap="round"/>
<circle cx="51.45" cy="74.5" r="7.8" fill="#7f7f7f"/>
<text x="51.45" y="79.3" font-size="13.5" font-weight="bold" fill="#fff" text-anchor="middle">1</text>
<circle cx="230.6" cy="74.4" r="7.8" fill="#7f7f7f"/>
<text x="230.6" y="79.2" font-size="13.5" font-weight="bold" fill="#fff" text-anchor="middle">2</text>
<circle cx="422.3" cy="74.4" r="7.8" fill="#7f7f7f"/>
<text x="422.3" y="79.2" font-size="13.5" font-weight="bold" fill="#fff" text-anchor="middle">3</text>
<circle cx="600.4" cy="74.4" r="7.8" fill="#7f7f7f"/>
<text x="600.4" y="79.2" font-size="13.5" font-weight="bold" fill="#fff" text-anchor="middle">4</text>
<text x="361.2" y="155.6" font-size="13.6" font-weight="bold" text-anchor="start" fill="#111">풍선</text>
<text x="361.8" y="168" font-size="9.2" font-style="italic" text-anchor="start" fill="#111">Balloon</text>
<text x="420.2" y="238.4" font-size="13.6" font-weight="bold" text-anchor="end" fill="#111">척추뼈 속</text>
<text x="420.2" y="254.4" font-size="13.6" font-weight="bold" text-anchor="end" fill="#111">빈 공간</text>
<text x="604.3" y="202.6" font-size="13.6" font-weight="bold" text-anchor="end" fill="#111">골 시멘트</text>
<text x="604.6" y="215.1" font-size="9.2" font-style="italic" text-anchor="end" fill="#111">Cement</text>
<rect x="214.29999999999998" y="300.4" width="165.90000000000003" height="49.80000000000001" rx="9" fill="#c9c0b8" opacity="0.6" filter="url(#bshadow)"/>
<rect x="213.7" y="299.2" width="165.90000000000003" height="49.80000000000001" rx="9" fill="#fff" fill-opacity="0.86" stroke="#d6cdc6" stroke-width="1"/>
<text x="295" y="319.4" font-size="12" font-weight="500" text-anchor="middle" fill="#111">풍선을 넣어 부풀리면서</text>
<text x="294.6" y="336.3" font-size="12" font-weight="500" text-anchor="middle" fill="#111">주저앉은 척추뼈를 펴줍니다.</text>
<rect x="583.4" y="300.4" width="165.70000000000005" height="49.80000000000001" rx="9" fill="#c9c0b8" opacity="0.6" filter="url(#bshadow)"/>
<rect x="582.8" y="299.2" width="165.70000000000005" height="49.80000000000001" rx="9" fill="#fff" fill-opacity="0.86" stroke="#d6cdc6" stroke-width="1"/>
<text x="662.4" y="320" font-size="12" font-weight="500" text-anchor="middle" fill="#111">풍선으로 만든 빈 공간에</text>
<text x="663" y="338" font-size="12" font-weight="500" text-anchor="middle" fill="#111">골 시멘트를 주입합니다.</text>
<rect x="583" y="377.7" width="209.8" height="15.5" fill="#999"/>
<text x="688.5" y="389.5" font-size="10.8" text-anchor="middle" fill="#fff">감수 : 정종헌 (국립암센터 혈액종양내과분과)</text>
</svg>
</body></html>
